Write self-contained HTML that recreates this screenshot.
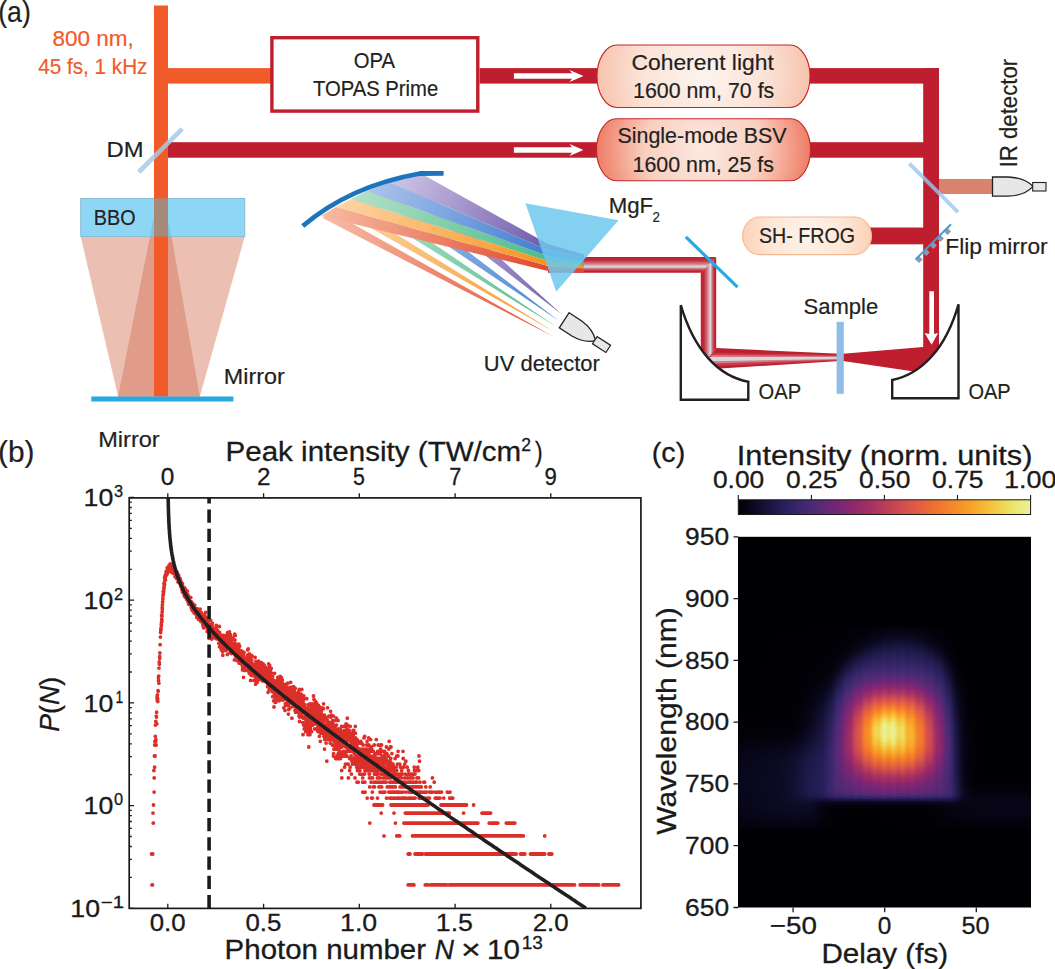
<!DOCTYPE html>
<html><head><meta charset="utf-8"><title>Figure</title>
<style>
html,body{margin:0;padding:0;background:#fff;}
body{width:1055px;height:969px;position:relative;overflow:hidden;font-family:"Liberation Sans",sans-serif;}
svg{position:absolute;left:0;top:0;}
svg text{font-family:"Liberation Sans",sans-serif;}
</style></head><body>
<svg width="1055" height="969" viewBox="0 0 1055 969">
<defs>
<radialGradient id="gCoh" cx="0.5" cy="0.5" r="0.5" gradientTransform="translate(0.5 0.5) scale(1 3.4) translate(-0.5 -0.5)">
 <stop offset="0" stop-color="#fdf3ee"/><stop offset="0.6" stop-color="#fbe2d6"/><stop offset="1" stop-color="#f7c3ad"/></radialGradient>
<radialGradient id="gBsv" cx="0.5" cy="0.5" r="0.5" gradientTransform="translate(0.5 0.5) scale(1 3.4) translate(-0.5 -0.5)">
 <stop offset="0" stop-color="#fce9e1"/><stop offset="0.55" stop-color="#f9cfc0"/><stop offset="1" stop-color="#ef7c64"/></radialGradient>
<radialGradient id="gFrog" cx="0.5" cy="0.5" r="0.5" gradientTransform="translate(0.5 0.5) scale(1 3.4) translate(-0.5 -0.5)">
 <stop offset="0" stop-color="#fef3ec"/><stop offset="0.6" stop-color="#fde6d6"/><stop offset="1" stop-color="#fbd2b6"/></radialGradient>
<linearGradient id="tubeH" x1="0" y1="0" x2="0" y2="1">
 <stop offset="0" stop-color="#be1e2d"/><stop offset="0.2" stop-color="#c22936"/><stop offset="0.45" stop-color="#d3838d"/><stop offset="0.62" stop-color="#dedde5"/><stop offset="0.78" stop-color="#cc5864"/><stop offset="0.9" stop-color="#c12331"/><stop offset="1" stop-color="#be1e2d"/></linearGradient>
<linearGradient id="tubeV" x1="0" y1="0" x2="1" y2="0">
 <stop offset="0" stop-color="#be1e2d"/><stop offset="0.2" stop-color="#c22936"/><stop offset="0.45" stop-color="#d3838d"/><stop offset="0.62" stop-color="#dedde5"/><stop offset="0.78" stop-color="#cc5864"/><stop offset="0.9" stop-color="#c12331"/><stop offset="1" stop-color="#be1e2d"/></linearGradient>
</defs>
<polygon points="80.7,236.5 244.8,236.5 199.8,396.5 118.1,396.5" fill="#ebc0b3"/>
<polygon points="157.6,236.5 162.4,236.5 199.8,396.5 118.1,396.5" fill="#e09b89"/>
<polygon points="150,236.5 171.5,236.5 199.8,396.5 118.1,396.5" fill="#e09b89"/>
<rect x="80.7" y="198.4" width="164.1" height="38.1" fill="#8ed6f5" stroke="#7fb2cc" stroke-width="0.8"/>
<polygon points="157.6,198.4 162.4,198.4 171.5,236.5 150,236.5" fill="#7cbcd8" opacity="0.7"/>
<rect x="154" y="5.5" width="14" height="391" fill="#f15a29"/>
<rect x="154" y="198.4" width="14" height="38.1" fill="#a88a7a"/>
<rect x="168" y="68.1" width="104" height="15.5" fill="#f15a29"/>
<rect x="91.3" y="396.5" width="142.1" height="5" fill="#27aae1"/>
<rect x="168" y="142.2" width="430" height="15.5" fill="#be1e2d"/>
<line x1="138.8" y1="172" x2="182.2" y2="128.9" stroke="#a5c9ea" stroke-width="4.6" opacity="0.85"/>
<rect x="271.9" y="37.7" width="205.9" height="73.4" fill="#fff" stroke="#be1e2d" stroke-width="3.4"/>
<rect x="479.6" y="68.1" width="118" height="15.5" fill="#be1e2d"/>
<path d="M513.9,73.2 H572 L569.5,70.0 L583.4,76.0 L569.5,82.0 L572,78.8 H513.9 Z" fill="#fff"/>
<path d="M513.9,147.2 H572 L569.5,144.0 L583.4,150.0 L569.5,156.0 L572,152.8 H513.9 Z" fill="#fff"/>
<rect x="809" y="68.1" width="130" height="15.5" fill="#be1e2d"/>
<rect x="923.2" y="68.1" width="15.8" height="290" fill="#be1e2d"/>
<rect x="809" y="142.2" width="116" height="15.5" fill="#be1e2d"/>
<rect x="870" y="227.5" width="55" height="16.8" fill="#be1e2d"/>
<rect x="939" y="179" width="54" height="15" fill="#d9836f"/>
<line x1="909.4" y1="163.6" x2="958" y2="212.2" stroke="#9cc9ea" stroke-width="4" opacity="0.8"/>
<path d="M992.5,177 L1008,177 C1020,177.5 1028,181 1033,186.4 C1028,192 1020,195.8 1008,196.2 L992.5,196.2 Z" fill="#e6e7e8" stroke="#231f20" stroke-width="1.3"/>
<rect x="1032.7" y="182.5" width="13.3" height="8.5" fill="#e6e7e8" stroke="#231f20" stroke-width="1.1"/>
<line x1="915.5" y1="259.5" x2="951" y2="224.3" stroke="#8a9bb0" stroke-width="4.5" stroke-dasharray="5 5" transform="translate(2 2)"/>
<line x1="915.5" y1="259.5" x2="951" y2="224.3" stroke="#3f9fd6" stroke-width="2"/>
<rect x="597" y="45" width="213" height="62.5" rx="20" ry="31" fill="url(#gCoh)" stroke="#c1272d" stroke-width="1.1"/>
<rect x="596.5" y="118.8" width="214" height="62" rx="20" ry="31" fill="url(#gBsv)" stroke="#c1272d" stroke-width="1.1"/>
<rect x="742.6" y="217" width="128.9" height="37.6" rx="17" ry="18.8" fill="url(#gFrog)" stroke="#f6b88f" stroke-width="1.1"/>
<polygon points="548,257 716.2,257 700.8,272.8 548,272.8" fill="url(#tubeH)"/>
<polygon points="700.8,272.8 716.2,257 716.2,348 708.5,357.4 700.8,366" fill="url(#tubeV)"/>
<polygon points="716.2,348 840,353.8 840,361 720,368.5 700,370 708.5,357.4" fill="#be1e2d"/>
<polygon points="712.4,352.7 840,355.0 840,360.4 718,366 712,364" fill="#c73c4a"/>
<polygon points="710.5,355 840,356.0 840,359.6 714,363.5" fill="#d27a85"/>
<polygon points="709,357 840,356.9 840,358.9 712,361.2" fill="#dcd5dc"/>
<polygon points="843,353.8 923.2,347 939,340 939,362 917.4,372 843,361" fill="#be1e2d"/>
<path d="M929.3,291.2 H934 V334 L938.1,333 L931.6,344.8 L924.6,333 L929.3,334 Z" fill="#fff"/>
<rect x="836.6" y="321.8" width="7.2" height="72" fill="#8fbde6"/>
<path d="M680.8,305.2 L680.8,399.8 L748.3,399.8 L748.3,381.7 C718,376 694,350 680.8,305.2 Z" fill="#fff" stroke="#231f20" stroke-width="2.4" stroke-linejoin="miter"/>
<path d="M958.5,304.3 L958.5,398.2 L892.2,398.2 L892.2,380 C922,374 946,348 958.5,304.3 Z" fill="#fff" stroke="#231f20" stroke-width="2.4" stroke-linejoin="miter"/>
<line x1="685.8" y1="236.9" x2="737.5" y2="287.1" stroke="#27aae1" stroke-width="3.2"/>
<defs>
<linearGradient id="fi0" gradientUnits="userSpaceOnUse" x1="328.5" y1="211.5" x2="545" y2="268.5"><stop offset="0" stop-color="#f6b9a0"/><stop offset="1" stop-color="#e2492f"/></linearGradient>
<linearGradient id="fr0" gradientUnits="userSpaceOnUse" x1="328.5" y1="211.5" x2="553.2" y2="336.5"><stop offset="0" stop-color="#f6b9a0"/><stop offset="1" stop-color="#e2492f"/></linearGradient>
<linearGradient id="fi1" gradientUnits="userSpaceOnUse" x1="343.5" y1="203.0" x2="545" y2="263.5"><stop offset="0" stop-color="#fcd3a4"/><stop offset="1" stop-color="#f7941d"/></linearGradient>
<linearGradient id="fr1" gradientUnits="userSpaceOnUse" x1="343.5" y1="203.0" x2="553.7" y2="331.4"><stop offset="0" stop-color="#fcd3a4"/><stop offset="1" stop-color="#f7941d"/></linearGradient>
<linearGradient id="fi2" gradientUnits="userSpaceOnUse" x1="359.0" y1="195.0" x2="545" y2="258.5"><stop offset="0" stop-color="#b0e0c6"/><stop offset="1" stop-color="#4dbb8a"/></linearGradient>
<linearGradient id="fr2" gradientUnits="userSpaceOnUse" x1="359.0" y1="195.0" x2="556" y2="326.5"><stop offset="0" stop-color="#b0e0c6"/><stop offset="1" stop-color="#4dbb8a"/></linearGradient>
<linearGradient id="fi3" gradientUnits="userSpaceOnUse" x1="378.0" y1="186.5" x2="545" y2="253.0"><stop offset="0" stop-color="#a9c0ea"/><stop offset="1" stop-color="#3f7fd0"/></linearGradient>
<linearGradient id="fr3" gradientUnits="userSpaceOnUse" x1="378.0" y1="186.5" x2="558.8" y2="320.8"><stop offset="0" stop-color="#a9c0ea"/><stop offset="1" stop-color="#3f7fd0"/></linearGradient>
<linearGradient id="fi4" gradientUnits="userSpaceOnUse" x1="404.5" y1="177.5" x2="545" y2="247.0"><stop offset="0" stop-color="#c9bfe3"/><stop offset="1" stop-color="#6f5aab"/></linearGradient>
<linearGradient id="fr4" gradientUnits="userSpaceOnUse" x1="404.5" y1="177.5" x2="561.7" y2="314.3"><stop offset="0" stop-color="#c9bfe3"/><stop offset="1" stop-color="#6f5aab"/></linearGradient>
</defs>
<polygon points="322.5,218.1 332.2,212.2 553.2,336.5" fill="url(#fr0)" opacity="0.95"/>
<polygon points="337.5,209.2 347.2,204.0 553.7,331.4" fill="url(#fr1)" opacity="0.95"/>
<polygon points="352.6,201.2 363.0,196.0 556,326.5" fill="url(#fr2)" opacity="0.95"/>
<polygon points="369.2,193.1 383.5,187.2 558.8,320.8" fill="url(#fr3)" opacity="0.95"/>
<polygon points="392.1,184.1 412.2,178.2 561.7,314.3" fill="url(#fr4)" opacity="0.95"/>
<polygon points="321,216 336,207 548,266 584,268.5 584,272.5 548,271" fill="url(#fi0)"/>
<polygon points="336,207 351,199 548,261 584,265 584,268.5 548,266" fill="url(#fi1)"/>
<polygon points="351,199 367,191 548,256 584,261.5 584,265 548,261" fill="url(#fi2)"/>
<polygon points="367,191 389,182 548,250 584,258 584,261.5 548,256" fill="url(#fi3)"/>
<polygon points="389,182 420,173 548,244 584,254.5 584,258 548,250" fill="url(#fi4)"/>
<path d="M302.8,226 Q350,186 420,173.5 L443.6,173.3" fill="none" stroke="#1c75bc" stroke-width="4.8"/>
<polygon points="525.4,203.2 618.5,220.3 556.2,291.8" fill="#6ec8ef" opacity="0.85"/>
<g transform="translate(564.2,320.3) rotate(33)"><path d="M0,-9 L15,-9 C26,-8.5 33,-4.5 37.5,0 C33,4.5 26,8.5 15,9 L0,9 Z" fill="#e6e7e8" stroke="#231f20" stroke-width="1.3"/><rect x="36.5" y="-4.3" width="16" height="8.6" fill="#e6e7e8" stroke="#231f20" stroke-width="1.2"/></g>
<defs><clipPath id="clipB"><rect x="129.2" y="497.9" width="511.7" height="410.5"/></clipPath></defs>
<g clip-path="url(#clipB)"><path d="M151.6 854.0h0M152.0 884.9h0M152.5 884.9h0M152.7 854.0h0M153.0 813.1h0M153.2 823.1h0M153.4 823.1h0M153.5 805.0h0M153.9 770.5h0M154.1 792.1h0M154.2 777.9h0M154.4 756.0h0M154.6 767.2h0M154.7 745.0h0M154.9 741.3h0M155.1 756.0h0M155.3 736.3h0M155.4 725.1h0M155.6 741.3h0M155.8 721.5h0M155.9 739.6h0M156.1 745.0h0M156.3 716.1h0M156.5 717.1h0M156.6 712.2h0M156.8 723.8h0M157.0 698.0h0M157.2 696.0h0M157.3 700.8h0M157.5 694.8h0M157.7 698.7h0M157.8 701.5h0M158.0 690.6h0M158.2 691.2h0M158.4 677.3h0M158.5 680.4h0M158.7 676.1h0M158.9 683.2h0M159.0 668.1h0M159.2 662.0h0M159.4 664.2h0M159.6 656.6h0M159.7 658.3h0M159.9 653.0h0M160.1 644.7h0M160.4 637.1h0M160.6 632.5h0M160.8 629.3h0M160.9 630.3h0M161.0 628.2h0M161.1 628.9h0M161.3 624.4h0M161.4 625.7h0M161.5 622.5h0M161.6 615.8h0M161.7 619.1h0M161.8 621.5h0M161.9 614.6h0M162.0 620.1h0M162.1 615.9h0M162.2 611.7h0M162.2 607.7h0M162.3 609.0h0M162.4 604.9h0M162.6 601.9h0M162.8 599.1h0M162.9 598.4h0M163.0 595.4h0M163.2 591.3h0M163.3 594.6h0M163.4 593.5h0M163.5 592.6h0M163.6 591.8h0M163.7 591.3h0M163.8 588.3h0M163.9 583.6h0M164.0 589.0h0M164.1 586.9h0M164.2 584.1h0M164.3 585.2h0M164.4 583.4h0M164.5 584.8h0M164.6 578.0h0M164.7 580.6h0M164.9 576.4h0M165.1 580.1h0M165.2 575.7h0M165.3 577.3h0M165.4 577.0h0M165.5 580.0h0M165.6 575.2h0M165.8 574.4h0M166.1 571.5h0M166.2 573.0h0M166.3 572.4h0M166.4 575.2h0M166.7 573.6h0M166.8 572.4h0M166.9 574.6h0M167.1 567.8h0M167.2 573.2h0M167.3 570.8h0M167.5 573.3h0M167.6 568.5h0M167.7 568.0h0M167.8 569.2h0M167.9 571.9h0M168.0 571.0h0M168.1 570.1h0M168.5 569.6h0M168.7 568.7h0M168.9 567.3h0M168.9 565.7h0M169.0 567.7h0M169.1 570.6h0M169.2 567.8h0M169.3 569.1h0M169.4 566.1h0M169.5 564.8h0M169.6 565.4h0M170.0 564.5h0M170.1 566.7h0M170.2 567.5h0M170.3 568.4h0M170.4 564.0h0M170.7 567.6h0M170.8 565.7h0M170.9 564.4h0M171.0 570.1h0M171.1 565.0h0M171.2 565.8h0M171.2 566.2h0M171.3 571.5h0M171.4 567.3h0M171.6 572.2h0M171.7 569.7h0M171.8 566.3h0M172.0 571.6h0M172.1 568.6h0M172.5 567.6h0M172.6 570.6h0M172.7 566.5h0M172.8 571.7h0M173.0 569.1h0M173.1 567.7h0M173.3 571.3h0M173.4 570.3h0M173.4 573.4h0M173.5 568.2h0M174.0 571.8h0M174.1 573.4h0M174.3 568.4h0M174.4 571.3h0M174.5 567.4h0M174.6 569.3h0M174.8 574.1h0M174.9 571.5h0M175.0 576.7h0M175.1 570.8h0M175.3 574.2h0M175.4 573.1h0M175.6 573.4h0M175.7 574.4h0M175.7 575.1h0M176.2 571.3h0M176.3 573.0h0M176.4 575.4h0M176.5 574.2h0M176.6 578.4h0M176.7 576.0h0M177.3 572.5h0M177.4 576.0h0M177.5 578.5h0M177.6 575.3h0M177.9 577.6h0M177.9 578.9h0M178.0 582.1h0M178.1 581.6h0M178.2 579.1h0M178.3 576.4h0M178.7 575.1h0M178.8 579.0h0M178.9 579.9h0M179.0 580.6h0M179.2 578.0h0M179.7 583.2h0M179.8 581.9h0M179.9 578.1h0M180.0 580.1h0M180.1 579.0h0M180.2 581.1h0M180.4 583.6h0M180.5 580.4h0M180.6 581.9h0M180.7 581.2h0M180.9 585.6h0M181.0 586.4h0M181.2 582.1h0M181.3 584.7h0M181.4 585.9h0M181.6 584.1h0M181.8 587.8h0M182.0 589.7h0M182.1 584.6h0M182.2 589.0h0M182.3 589.2h0M182.4 592.1h0M182.4 587.4h0M182.5 583.7h0M182.6 586.1h0M182.8 591.3h0M182.9 587.6h0M183.0 589.9h0M183.7 592.1h0M183.8 590.6h0M183.9 588.9h0M184.0 593.2h0M184.1 595.3h0M184.2 591.3h0M184.3 594.4h0M184.4 592.6h0M184.5 594.3h0M184.6 590.5h0M184.7 588.0h0M184.7 589.2h0M184.8 592.8h0M184.9 596.8h0M185.0 593.7h0M185.2 593.5h0M185.3 597.1h0M185.4 592.6h0M185.5 597.6h0M185.6 589.5h0M185.8 594.1h0M186.0 595.0h0M186.1 597.2h0M186.2 595.3h0M186.4 596.0h0M186.5 597.9h0M186.6 594.6h0M186.8 599.4h0M186.9 596.1h0M187.0 598.4h0M187.0 595.5h0M187.2 593.9h0M187.3 594.8h0M187.4 591.1h0M187.5 599.4h0M187.6 596.3h0M187.7 600.8h0M187.8 598.1h0M187.9 594.8h0M188.1 599.3h0M188.2 596.8h0M188.3 597.5h0M188.4 602.6h0M188.5 604.0h0M188.6 596.1h0M188.7 596.7h0M188.8 600.3h0M188.9 599.5h0M189.0 602.0h0M189.2 600.9h0M189.2 599.8h0M189.3 598.7h0M189.4 602.1h0M189.5 600.6h0M189.6 604.4h0M189.7 601.6h0M189.9 603.9h0M190.0 604.0h0M190.1 601.6h0M190.2 602.3h0M190.3 603.3h0M190.8 597.6h0M190.9 604.0h0M191.0 604.5h0M191.1 605.7h0M191.2 607.6h0M191.4 606.9h0M191.5 602.0h0M191.6 608.1h0M191.7 605.5h0M191.9 609.4h0M192.0 602.8h0M192.2 606.2h0M192.3 610.6h0M192.4 603.6h0M192.5 605.5h0M192.6 603.3h0M192.7 607.0h0M192.8 609.8h0M193.1 606.2h0M193.3 604.4h0M193.4 607.4h0M193.5 606.1h0M193.6 605.6h0M193.9 612.1h0M194.0 612.8h0M194.1 607.5h0M194.4 607.9h0M194.5 611.7h0M194.7 605.1h0M194.8 612.1h0M194.9 610.7h0M195.0 609.0h0M195.2 609.8h0M195.3 613.4h0M195.7 608.3h0M195.8 612.7h0M195.9 614.3h0M196.0 613.7h0M196.2 612.1h0M196.4 614.6h0M196.5 610.7h0M196.6 611.8h0M196.7 617.3h0M196.8 609.3h0M196.9 612.6h0M197.1 613.9h0M197.2 610.9h0M197.3 609.0h0M197.4 611.4h0M197.5 611.7h0M197.6 610.0h0M197.7 617.4h0M198.0 613.6h0M198.1 611.5h0M198.2 610.1h0M198.2 612.8h0M198.3 613.4h0M198.4 614.9h0M198.5 619.4h0M198.7 615.8h0M198.8 614.6h0M198.9 613.6h0M199.0 611.7h0M199.1 615.3h0M199.2 611.0h0M199.3 615.8h0M199.4 613.0h0M199.7 615.7h0M199.9 616.9h0M200.0 617.6h0M200.1 609.1h0M200.3 618.1h0M200.5 616.0h0M200.5 620.2h0M200.7 620.5h0M200.8 621.4h0M200.9 616.9h0M201.0 613.3h0M201.1 612.4h0M201.2 615.3h0M201.3 616.7h0M201.4 621.4h0M201.5 621.0h0M201.6 619.0h0M201.7 618.3h0M201.8 613.4h0M201.9 619.8h0M202.1 618.3h0M202.2 621.1h0M202.3 615.4h0M202.5 620.2h0M202.6 623.4h0M202.8 618.3h0M202.9 625.7h0M203.0 617.7h0M203.1 615.8h0M203.3 622.9h0M203.4 620.9h0M203.5 622.2h0M203.6 621.3h0M203.7 627.8h0M203.9 617.4h0M204.0 620.7h0M204.1 618.5h0M204.2 619.4h0M204.3 624.5h0M204.4 624.0h0M204.5 618.3h0M204.6 623.0h0M204.7 615.4h0M204.8 620.3h0M204.9 625.0h0M205.1 622.0h0M205.2 616.6h0M205.3 623.2h0M205.4 625.6h0M205.5 619.3h0M205.6 612.3h0M205.7 623.6h0M205.8 621.1h0M205.9 626.5h0M206.0 626.4h0M206.1 623.6h0M206.3 620.8h0M206.5 617.8h0M206.6 626.9h0M206.9 624.7h0M207.0 622.2h0M207.1 625.6h0M207.2 631.5h0M207.2 627.1h0M207.5 630.1h0M207.6 622.2h0M207.7 625.7h0M207.8 627.9h0M207.9 623.0h0M208.0 621.0h0M208.1 631.4h0M208.3 624.1h0M208.4 628.5h0M208.5 625.3h0M208.6 626.5h0M208.7 629.0h0M208.9 630.1h0M209.0 638.3h0M209.2 624.4h0M209.3 624.7h0M209.4 631.1h0M209.5 632.5h0M209.5 626.2h0M209.6 628.6h0M209.7 626.9h0M209.9 629.6h0M210.0 625.3h0M210.2 632.0h0M210.3 633.7h0M210.4 631.5h0M210.5 628.7h0M210.7 620.4h0M210.9 635.9h0M211.0 630.3h0M211.1 627.3h0M211.2 626.5h0M211.3 629.3h0M211.4 637.2h0M211.7 639.0h0M211.7 637.9h0M211.8 631.1h0M211.9 628.7h0M212.0 629.6h0M212.2 626.0h0M212.3 627.1h0M212.4 623.4h0M212.5 629.3h0M212.6 634.4h0M212.7 631.2h0M212.9 630.8h0M213.0 628.6h0M213.1 633.7h0M213.3 633.9h0M213.4 636.0h0M213.5 629.9h0M213.9 631.4h0M214.0 634.9h0M214.0 628.3h0M214.1 634.9h0M214.2 634.4h0M214.3 631.9h0M214.5 629.5h0M214.7 632.9h0M214.8 629.9h0M214.9 630.9h0M215.0 632.8h0M215.1 637.9h0M215.2 635.9h0M215.3 632.2h0M215.4 635.5h0M215.7 629.9h0M215.8 635.4h0M215.9 628.2h0M216.0 631.7h0M216.1 632.9h0M216.2 628.6h0M216.3 625.4h0M216.4 634.4h0M216.5 638.8h0M216.6 632.9h0M216.7 633.4h0M216.8 629.9h0M217.0 632.0h0M217.2 631.9h0M217.3 637.7h0M217.4 638.8h0M217.5 637.1h0M217.7 633.3h0M217.8 630.9h0M217.9 633.1h0M218.1 634.2h0M218.2 635.4h0M218.4 633.3h0M218.5 635.9h0M218.5 633.1h0M218.6 637.2h0M218.8 643.3h0M218.9 638.4h0M219.0 636.4h0M219.2 639.7h0M219.3 635.5h0M219.4 626.5h0M219.5 646.8h0M219.6 632.3h0M219.7 638.4h0M219.8 639.7h0M219.9 642.0h0M220.0 636.0h0M220.1 639.3h0M220.2 646.8h0M220.3 637.2h0M220.4 636.9h0M220.5 639.5h0M220.6 642.2h0M220.7 647.5h0M220.7 640.1h0M220.9 636.7h0M221.0 645.6h0M221.1 648.4h0M221.2 649.7h0M221.3 649.0h0M221.4 647.7h0M221.5 635.5h0M221.6 647.3h0M221.7 642.5h0M222.0 650.4h0M222.1 640.8h0M222.2 644.5h0M222.3 645.4h0M222.4 649.5h0M222.5 638.8h0M222.6 651.8h0M222.7 646.8h0M222.8 655.3h0M222.9 644.5h0M223.0 644.1h0M223.0 650.2h0M223.1 640.4h0M223.2 635.5h0M223.5 639.7h0M223.6 647.5h0M223.7 644.9h0M223.8 642.3h0M223.9 638.8h0M224.0 650.6h0M224.2 648.6h0M224.3 643.5h0M224.5 643.7h0M224.6 641.0h0M224.7 647.9h0M224.8 642.7h0M224.9 644.5h0M225.2 645.6h0M225.3 644.9h0M225.4 635.7h0M225.5 648.1h0M225.6 642.7h0M225.7 638.1h0M226.0 643.1h0M226.1 642.0h0M226.2 650.4h0M226.3 649.5h0M226.5 637.9h0M226.6 635.2h0M226.8 644.7h0M226.9 638.6h0M227.0 643.9h0M227.1 641.2h0M227.2 637.1h0M227.3 654.5h0M227.4 641.8h0M227.6 632.6h0M227.7 643.7h0M227.8 642.2h0M228.0 639.3h0M228.1 643.3h0M228.2 636.0h0M228.3 645.6h0M228.4 647.5h0M228.5 645.4h0M228.6 642.0h0M228.7 638.6h0M228.9 639.2h0M229.0 637.4h0M229.3 634.4h0M229.4 631.9h0M229.5 647.0h0M229.6 640.3h0M229.7 646.4h0M229.8 642.9h0M229.8 640.4h0M229.9 638.1h0M230.0 652.3h0M230.1 642.0h0M230.2 652.8h0M230.3 638.3h0M230.4 634.7h0M230.5 644.9h0M230.6 648.1h0M230.7 639.7h0M230.8 643.9h0M230.9 642.9h0M231.0 641.6h0M231.1 639.3h0M231.3 646.6h0M231.4 653.5h0M231.5 650.2h0M231.7 637.9h0M231.8 646.4h0M231.9 645.6h0M232.0 638.1h0M232.0 644.1h0M232.1 639.7h0M232.3 648.6h0M232.4 649.3h0M232.5 645.1h0M232.6 646.2h0M232.7 647.7h0M232.8 649.0h0M232.9 643.9h0M233.0 639.5h0M233.3 646.0h0M233.4 649.5h0M233.5 651.3h0M233.7 652.1h0M233.8 639.5h0M233.9 647.9h0M234.0 649.0h0M234.1 652.3h0M234.2 650.6h0M234.3 646.8h0M234.4 659.9h0M234.5 635.5h0M234.6 643.5h0M234.7 634.2h0M234.8 653.5h0M234.9 651.8h0M235.0 640.1h0M235.1 650.4h0M235.3 635.4h0M235.4 650.9h0M235.5 655.3h0M235.6 655.8h0M235.7 656.6h0M235.8 652.5h0M235.9 650.6h0M236.0 651.6h0M236.2 647.0h0M236.3 647.9h0M236.4 655.3h0M236.5 647.9h0M236.5 644.5h0M236.7 648.6h0M236.8 646.6h0M236.9 660.2h0M237.1 651.1h0M237.2 656.1h0M237.3 649.3h0M237.4 656.9h0M237.5 660.8h0M237.6 655.6h0M237.7 654.3h0M237.8 651.1h0M237.9 646.2h0M238.0 651.8h0M238.1 653.8h0M238.2 657.4h0M238.3 648.6h0M238.5 659.9h0M238.6 656.6h0M238.7 648.4h0M238.8 652.5h0M238.8 644.1h0M238.9 654.5h0M239.0 659.4h0M239.1 651.8h0M239.2 663.2h0M239.3 653.3h0M239.4 651.6h0M239.6 646.2h0M239.7 658.0h0M239.8 662.9h0M239.9 651.1h0M240.1 662.0h0M240.2 652.5h0M240.4 656.4h0M240.5 650.6h0M240.7 658.8h0M240.8 653.3h0M241.0 654.5h0M241.1 663.5h0M241.2 662.0h0M241.3 661.7h0M241.4 663.9h0M241.6 653.3h0M241.7 663.2h0M241.8 651.1h0M242.0 664.8h0M242.1 659.4h0M242.2 661.7h0M242.3 656.9h0M242.4 654.8h0M242.5 669.9h0M242.6 667.8h0M242.8 667.1h0M242.9 659.4h0M243.0 654.8h0M243.1 658.5h0M243.2 662.6h0M243.3 664.8h0M243.3 658.0h0M243.5 677.3h0M243.6 660.5h0M243.7 659.9h0M243.8 658.5h0M243.9 655.6h0M244.0 652.5h0M244.1 665.8h0M244.2 668.1h0M244.4 666.1h0M244.7 658.5h0M244.8 665.8h0M244.9 668.5h0M245.0 662.6h0M245.1 670.6h0M245.3 664.5h0M245.5 663.2h0M245.5 669.5h0M245.6 664.2h0M245.7 661.1h0M245.8 662.6h0M246.0 658.5h0M246.1 660.5h0M246.2 661.7h0M246.4 665.5h0M246.5 660.2h0M246.6 667.5h0M246.8 659.1h0M246.9 663.2h0M247.0 666.4h0M247.1 659.9h0M247.2 663.9h0M247.3 667.5h0M247.4 658.3h0M247.6 657.7h0M247.7 649.9h0M247.8 655.0h0M247.8 667.5h0M247.9 663.5h0M248.0 659.4h0M248.2 649.0h0M248.3 662.0h0M248.4 661.7h0M248.5 671.0h0M248.6 662.9h0M248.7 657.2h0M248.8 659.1h0M249.0 664.8h0M249.1 659.7h0M249.2 667.8h0M249.3 673.3h0M249.4 654.0h0M249.5 664.2h0M249.7 667.8h0M249.8 668.8h0M249.9 659.7h0M250.0 670.6h0M250.0 658.8h0M250.1 665.5h0M250.2 664.5h0M250.4 669.9h0M250.5 662.9h0M250.6 680.4h0M250.7 666.1h0M250.8 664.2h0M250.9 659.4h0M251.0 675.2h0M251.1 661.1h0M251.3 659.9h0M251.4 670.3h0M251.5 655.3h0M251.6 667.5h0M251.7 665.1h0M251.8 660.2h0M251.9 669.9h0M252.0 671.0h0M252.1 665.8h0M252.2 656.1h0M252.3 667.8h0M252.3 663.5h0M252.4 663.9h0M252.5 672.5h0M252.6 675.7h0M252.7 666.8h0M252.8 670.3h0M252.9 669.2h0M253.0 664.8h0M253.1 667.8h0M253.2 670.3h0M253.3 671.0h0M253.4 671.7h0M253.5 664.8h0M253.6 667.8h0M253.7 668.5h0M253.8 667.5h0M254.0 680.4h0M254.1 669.2h0M254.3 669.5h0M254.4 673.7h0M254.5 670.6h0M254.6 676.1h0M254.8 669.5h0M254.9 671.0h0M255.0 673.3h0M255.1 657.4h0M255.2 664.8h0M255.3 674.4h0M255.4 674.8h0M255.5 667.1h0M255.6 684.2h0M255.7 679.1h0M255.8 673.7h0M255.9 661.4h0M256.1 674.0h0M256.2 663.5h0M256.3 675.7h0M256.5 672.9h0M256.6 682.7h0M256.7 666.8h0M256.8 668.1h0M256.8 665.5h0M256.9 677.3h0M257.0 678.2h0M257.1 664.5h0M257.2 682.3h0M257.3 671.7h0M257.4 676.9h0M257.5 679.1h0M257.6 667.5h0M257.7 669.5h0M257.9 665.1h0M258.0 673.7h0M258.1 667.1h0M258.2 674.8h0M258.3 665.1h0M258.4 674.0h0M258.5 661.4h0M258.6 661.1h0M258.7 678.6h0M258.8 670.6h0M258.9 679.5h0M259.0 663.5h0M259.0 674.0h0M259.1 666.1h0M259.3 671.0h0M259.6 672.9h0M259.7 671.4h0M259.8 676.1h0M259.9 669.2h0M260.0 676.5h0M260.1 674.8h0M260.3 664.8h0M260.4 669.5h0M260.5 676.1h0M260.6 673.7h0M260.7 667.1h0M261.0 672.9h0M261.1 669.5h0M261.2 668.8h0M261.3 665.5h0M261.3 662.6h0M261.4 674.0h0M261.5 672.5h0M261.6 663.5h0M261.7 668.8h0M262.0 667.1h0M262.1 680.4h0M262.2 667.8h0M262.3 673.7h0M262.4 669.9h0M262.5 674.8h0M262.6 671.0h0M262.7 680.9h0M262.9 665.5h0M263.0 670.3h0M263.1 671.4h0M263.2 663.9h0M263.3 669.5h0M263.4 673.3h0M263.5 667.5h0M263.6 667.8h0M263.7 674.4h0M263.8 673.3h0M264.1 667.5h0M264.2 665.1h0M264.4 673.3h0M264.5 676.1h0M264.6 679.1h0M264.7 670.3h0M264.8 674.8h0M265.0 681.3h0M265.1 666.8h0M265.2 680.9h0M265.3 678.2h0M265.4 677.3h0M265.5 669.5h0M265.6 674.4h0M265.7 668.8h0M265.8 680.4h0M265.8 670.6h0M266.0 681.8h0M266.1 678.2h0M266.2 677.3h0M266.3 673.7h0M266.5 670.6h0M266.6 672.5h0M266.7 679.1h0M266.8 670.6h0M266.9 680.4h0M267.0 676.9h0M267.1 674.0h0M267.2 671.4h0M267.3 669.9h0M267.4 683.2h0M267.5 678.2h0M267.6 686.7h0M267.7 676.5h0M267.8 679.1h0M267.9 680.9h0M268.0 670.6h0M268.1 692.3h0M268.2 667.8h0M268.3 676.1h0M268.4 681.3h0M268.5 676.1h0M268.6 663.9h0M268.7 678.2h0M268.8 671.0h0M269.0 679.1h0M269.1 676.5h0M269.2 690.0h0M269.3 674.4h0M269.4 679.9h0M269.5 672.1h0M269.6 682.3h0M269.7 665.5h0M269.8 672.5h0M269.9 687.8h0M270.0 669.9h0M270.1 675.7h0M270.2 679.1h0M270.3 671.0h0M270.3 685.7h0M270.4 684.7h0M270.5 682.7h0M270.6 674.0h0M270.7 681.3h0M270.8 679.5h0M270.9 684.7h0M271.0 682.7h0M271.2 668.5h0M271.3 687.3h0M271.4 672.9h0M271.5 683.2h0M271.7 676.5h0M271.8 678.2h0M271.9 679.9h0M272.0 687.8h0M272.1 677.3h0M272.2 691.7h0M272.3 687.3h0M272.4 684.7h0M272.5 687.3h0M272.6 676.5h0M272.6 690.6h0M272.7 696.7h0M272.8 686.2h0M272.9 684.2h0M273.2 691.7h0M273.3 682.3h0M273.4 685.7h0M273.6 700.8h0M273.7 688.3h0M273.8 689.4h0M274.0 707.0h0M274.1 680.4h0M274.2 682.3h0M274.3 693.5h0M274.4 685.7h0M274.5 691.2h0M274.6 673.3h0M274.7 696.7h0M274.8 691.2h0M274.9 693.5h0M275.1 702.3h0M275.2 691.7h0M275.3 685.7h0M275.4 698.0h0M275.5 686.7h0M275.6 692.3h0M275.7 689.4h0M275.8 702.3h0M275.9 683.2h0M276.0 686.2h0M276.1 690.6h0M276.3 685.2h0M276.4 688.3h0M276.5 690.6h0M276.6 685.2h0M276.7 683.7h0M276.8 700.1h0M276.9 688.3h0M277.0 687.3h0M277.1 693.5h0M277.2 690.0h0M277.3 688.9h0M277.5 680.4h0M277.7 677.3h0M277.8 694.1h0M277.9 696.0h0M278.0 691.7h0M278.1 679.9h0M278.2 695.4h0M278.4 690.6h0M278.5 686.7h0M278.9 694.1h0M279.0 679.1h0M279.1 698.7h0M279.2 700.8h0M279.3 684.2h0M279.3 693.5h0M279.4 690.6h0M279.5 692.3h0M279.6 697.4h0M279.7 687.3h0M279.8 698.0h0M279.9 688.9h0M280.0 680.4h0M280.1 686.2h0M280.2 676.5h0M280.3 682.7h0M280.4 688.3h0M280.5 688.9h0M280.6 694.8h0M280.7 686.7h0M281.1 679.5h0M281.2 693.5h0M281.3 682.7h0M281.4 692.3h0M281.5 677.7h0M281.6 681.8h0M281.6 683.7h0M281.7 683.2h0M281.8 690.0h0M282.0 684.2h0M282.1 694.1h0M282.2 684.7h0M282.3 679.9h0M282.4 683.2h0M282.5 690.0h0M282.6 700.1h0M282.7 688.9h0M282.9 698.0h0M283.1 700.1h0M283.3 691.2h0M283.4 692.3h0M283.5 688.9h0M283.6 686.2h0M283.7 684.7h0M283.8 692.9h0M283.8 707.8h0M283.9 690.0h0M284.0 689.4h0M284.1 699.4h0M284.2 688.3h0M284.3 686.7h0M284.4 690.6h0M284.5 689.4h0M284.6 686.7h0M284.7 698.0h0M284.8 696.0h0M285.0 710.4h0M285.1 691.7h0M285.2 685.2h0M285.3 703.8h0M285.4 695.4h0M285.5 705.4h0M285.8 690.6h0M285.9 698.0h0M286.0 697.4h0M286.1 684.2h0M286.1 686.7h0M286.3 690.6h0M286.4 694.8h0M286.5 693.5h0M286.6 698.7h0M286.7 699.4h0M286.8 698.7h0M286.9 691.7h0M287.0 688.3h0M287.1 696.0h0M287.2 703.8h0M287.3 688.9h0M287.4 702.3h0M287.5 683.7h0M287.6 694.1h0M287.7 700.1h0M287.8 683.2h0M287.9 688.3h0M288.0 692.9h0M288.1 693.5h0M288.2 704.6h0M288.3 699.4h0M288.3 705.4h0M288.4 714.1h0M288.5 696.7h0M288.6 702.3h0M288.7 709.5h0M288.8 694.1h0M288.9 700.1h0M289.0 687.8h0M289.2 703.8h0M289.3 689.4h0M289.4 696.0h0M289.5 698.0h0M289.8 702.3h0M289.9 700.1h0M290.0 687.3h0M290.1 698.7h0M290.2 692.3h0M290.3 707.8h0M290.4 699.4h0M290.5 696.7h0M290.6 692.9h0M290.7 682.3h0M290.8 691.7h0M290.9 698.7h0M291.0 700.8h0M291.1 692.9h0M291.2 702.3h0M291.3 694.1h0M291.6 697.4h0M291.7 687.3h0M291.8 703.0h0M291.9 718.2h0M292.0 694.1h0M292.2 696.0h0M292.3 692.3h0M292.4 695.4h0M292.5 699.4h0M292.6 696.7h0M292.8 703.0h0M292.8 693.5h0M292.9 688.9h0M293.0 705.4h0M293.1 698.0h0M293.2 703.8h0M293.3 692.9h0M293.4 700.1h0M293.5 706.2h0M293.6 697.4h0M293.7 686.7h0M293.8 694.8h0M294.0 701.5h0M294.1 700.1h0M294.2 699.4h0M294.3 698.0h0M294.4 696.7h0M294.6 694.1h0M294.7 691.7h0M294.8 696.0h0M294.9 707.0h0M295.0 710.4h0M295.1 694.8h0M295.2 693.5h0M295.3 688.3h0M295.4 711.3h0M295.5 712.2h0M295.6 694.8h0M295.7 703.0h0M295.8 701.5h0M295.9 710.4h0M296.0 703.8h0M296.2 700.1h0M296.3 698.7h0M296.4 706.2h0M296.5 704.6h0M296.6 699.4h0M296.7 703.8h0M296.8 711.3h0M296.9 698.0h0M297.0 696.7h0M297.1 712.2h0M297.2 701.5h0M297.3 701.5h0M297.3 709.5h0M297.4 704.6h0M297.5 712.2h0M297.8 707.0h0M297.9 710.4h0M298.0 703.8h0M298.1 693.5h0M298.2 700.1h0M298.3 704.6h0M298.4 707.8h0M298.5 698.0h0M298.7 691.7h0M298.8 705.4h0M298.9 716.1h0M299.0 695.4h0M299.1 707.8h0M299.2 689.4h0M299.3 711.3h0M299.4 698.0h0M299.5 721.5h0M299.6 715.1h0M299.6 707.8h0M299.7 717.1h0M299.8 708.7h0M299.9 704.6h0M300.0 701.5h0M300.2 695.4h0M300.3 705.4h0M300.4 700.8h0M300.5 704.6h0M300.6 707.8h0M300.7 711.3h0M300.8 705.4h0M300.9 698.0h0M301.1 694.1h0M301.2 706.2h0M301.3 710.4h0M301.4 717.1h0M301.5 708.7h0M301.6 699.4h0M301.7 707.8h0M301.8 689.4h0M301.9 704.6h0M302.0 714.1h0M302.1 703.8h0M302.2 700.1h0M302.3 717.1h0M302.4 711.3h0M302.5 704.6h0M302.6 703.0h0M302.8 711.3h0M302.9 722.7h0M303.0 734.7h0M303.1 701.5h0M303.3 704.6h0M303.4 718.2h0M303.6 725.1h0M303.7 704.6h0M303.8 696.0h0M303.9 718.2h0M304.0 712.2h0M304.1 698.7h0M304.1 711.3h0M304.2 728.9h0M304.3 707.0h0M304.4 706.2h0M304.5 728.9h0M304.6 710.4h0M304.7 704.6h0M304.8 718.2h0M305.0 712.2h0M305.1 727.6h0M305.2 726.3h0M305.3 716.1h0M305.4 722.7h0M305.5 711.3h0M305.6 719.3h0M305.7 712.2h0M305.8 731.7h0M305.9 725.1h0M306.1 731.7h0M306.2 721.5h0M306.3 713.2h0M306.4 718.2h0M306.4 716.1h0M306.5 726.3h0M306.6 709.5h0M306.7 715.1h0M306.8 698.7h0M306.9 720.4h0M307.0 713.2h0M307.1 707.8h0M307.2 728.9h0M307.3 722.7h0M307.4 714.1h0M307.5 721.5h0M307.6 727.6h0M307.7 709.5h0M307.8 728.9h0M307.9 716.1h0M308.0 734.7h0M308.2 721.5h0M308.3 720.4h0M308.4 704.6h0M308.5 712.2h0M308.6 722.7h0M308.6 714.1h0M308.7 725.1h0M308.8 747.0h0M308.9 731.7h0M309.0 705.4h0M309.2 717.1h0M309.3 725.1h0M309.4 719.3h0M309.6 716.1h0M309.7 709.5h0M309.9 734.7h0M310.0 711.3h0M310.1 703.8h0M310.2 727.6h0M310.3 705.4h0M310.4 716.1h0M310.5 728.9h0M310.6 710.4h0M310.7 719.3h0M310.8 721.5h0M310.9 709.5h0M310.9 722.7h0M311.0 711.3h0M311.1 705.4h0M311.2 725.1h0M311.3 720.4h0M311.4 707.8h0M311.5 731.7h0M311.6 709.5h0M311.7 712.2h0M311.8 715.1h0M311.9 720.4h0M312.0 718.2h0M312.1 711.3h0M312.2 707.0h0M312.3 703.8h0M312.5 704.6h0M312.6 707.8h0M312.7 725.1h0M312.8 716.1h0M312.9 721.5h0M313.0 710.4h0M313.1 718.2h0M313.1 711.3h0M313.2 710.4h0M313.3 714.1h0M313.4 717.1h0M313.5 696.0h0M313.6 718.2h0M313.7 709.5h0M313.8 719.3h0M313.9 713.2h0M314.0 699.4h0M314.1 711.3h0M314.2 706.2h0M314.3 704.6h0M314.4 721.5h0M314.5 714.1h0M314.6 708.7h0M314.7 728.9h0M314.8 709.5h0M314.9 706.2h0M315.0 720.4h0M315.1 709.5h0M315.2 716.1h0M315.3 717.1h0M315.4 701.5h0M315.5 705.4h0M315.6 723.8h0M315.7 717.1h0M315.8 715.1h0M315.9 713.2h0M316.0 703.0h0M316.2 711.3h0M316.3 706.2h0M316.4 716.1h0M316.5 711.3h0M316.6 703.0h0M316.7 715.1h0M316.8 718.2h0M317.0 708.7h0M317.1 705.4h0M317.2 728.9h0M317.3 709.5h0M317.4 730.3h0M317.5 707.8h0M317.6 708.7h0M317.6 727.6h0M317.8 723.8h0M317.9 714.1h0M318.0 716.1h0M318.1 731.7h0M318.2 723.8h0M318.3 728.9h0M318.4 705.4h0M318.5 721.5h0M318.6 727.6h0M318.9 717.1h0M319.0 711.3h0M319.1 723.8h0M319.2 727.6h0M319.3 722.7h0M319.4 736.3h0M319.5 720.4h0M319.6 707.0h0M319.7 722.7h0M319.8 731.7h0M319.9 715.1h0M320.0 719.3h0M320.2 720.4h0M320.3 741.3h0M320.4 711.3h0M320.5 715.1h0M320.6 709.5h0M320.7 720.4h0M320.8 733.2h0M320.9 717.1h0M321.0 713.2h0M321.2 726.3h0M321.3 726.3h0M321.4 711.3h0M321.5 730.3h0M321.6 725.1h0M321.7 718.2h0M321.8 727.6h0M321.9 719.3h0M322.0 723.8h0M322.1 717.1h0M322.2 707.8h0M322.3 722.7h0M322.4 731.7h0M322.5 733.2h0M322.6 728.9h0M322.7 725.1h0M322.8 731.7h0M322.9 733.2h0M323.0 718.2h0M323.1 719.3h0M323.2 727.6h0M323.3 715.1h0M323.4 708.7h0M323.5 720.4h0M323.6 703.8h0M323.7 733.2h0M323.8 731.7h0M323.9 736.3h0M324.0 721.5h0M324.1 725.1h0M324.2 718.2h0M324.4 715.1h0M324.4 715.1h0M324.5 749.1h0M324.6 727.6h0M324.7 739.6h0M324.8 718.2h0M324.9 733.2h0M325.0 731.7h0M325.2 731.7h0M325.3 717.1h0M325.4 730.3h0M325.5 733.2h0M325.7 727.6h0M325.9 728.9h0M326.1 743.1h0M326.2 726.3h0M326.3 727.6h0M326.4 728.9h0M326.5 736.3h0M326.6 733.2h0M326.7 731.7h0M326.8 761.2h0M326.9 730.3h0M327.0 723.8h0M327.1 719.3h0M327.2 728.9h0M327.3 736.3h0M327.5 725.1h0M327.6 707.8h0M327.7 723.8h0M327.8 721.5h0M327.9 727.6h0M328.1 739.6h0M328.2 728.9h0M328.3 725.1h0M328.5 737.9h0M328.6 739.6h0M328.7 736.3h0M328.8 716.1h0M328.9 733.2h0M329.0 725.1h0M329.1 734.7h0M329.2 736.3h0M329.3 737.9h0M329.4 728.9h0M329.5 734.7h0M329.6 733.2h0M329.7 731.7h0M329.8 725.1h0M330.0 722.7h0M330.1 736.3h0M330.2 743.1h0M330.3 737.9h0M330.4 725.1h0M330.5 717.1h0M330.6 711.3h0M330.7 739.6h0M330.9 725.1h0M331.0 733.2h0M331.1 739.6h0M331.2 727.6h0M331.3 723.8h0M331.4 715.1h0M331.6 733.2h0M331.7 739.6h0M331.9 723.8h0M332.2 734.7h0M332.3 745.0h0M332.4 736.3h0M332.5 730.3h0M332.6 720.4h0M332.7 721.5h0M332.8 722.7h0M332.9 727.6h0M333.0 737.9h0M333.3 728.9h0M333.4 734.7h0M333.4 756.0h0M333.5 716.1h0M333.6 753.6h0M333.7 733.2h0M333.8 749.1h0M334.0 734.7h0M334.1 741.3h0M334.2 725.1h0M334.3 730.3h0M334.4 745.0h0M334.5 731.7h0M334.6 739.6h0M334.9 739.6h0M335.0 726.3h0M335.1 736.3h0M335.2 728.9h0M335.3 734.7h0M335.4 747.0h0M335.5 737.9h0M335.6 758.5h0M335.7 749.1h0M335.8 731.7h0M335.9 720.4h0M336.0 747.0h0M336.1 728.9h0M336.2 736.3h0M336.3 737.9h0M336.4 718.2h0M336.5 725.1h0M336.6 749.1h0M336.7 745.0h0M336.8 720.4h0M336.9 743.1h0M337.0 756.0h0M337.2 736.3h0M337.3 741.3h0M337.4 730.3h0M337.5 731.7h0M337.6 756.0h0M337.7 737.9h0M337.8 749.1h0M337.9 758.5h0M337.9 743.1h0M338.0 730.3h0M338.1 720.4h0M338.2 753.6h0M338.3 733.2h0M338.4 747.0h0M338.5 749.1h0M338.6 728.9h0M338.7 743.1h0M338.8 737.9h0M338.9 741.3h0M339.0 736.3h0M339.1 749.1h0M339.3 751.3h0M339.4 739.6h0M339.6 733.2h0M339.7 741.3h0M339.8 739.6h0M339.9 743.1h0M340.0 753.6h0M340.1 758.5h0M340.2 745.0h0M340.3 747.0h0M340.4 745.0h0M340.5 758.5h0M340.6 728.9h0M340.7 730.3h0M340.8 736.3h0M341.0 743.1h0M341.1 756.0h0M341.2 734.7h0M341.3 739.6h0M341.4 745.0h0M341.5 737.9h0M341.6 726.3h0M341.7 770.5h0M341.8 777.9h0M342.0 747.0h0M342.1 731.7h0M342.2 753.6h0M342.3 745.0h0M342.4 739.6h0M342.5 743.1h0M342.7 741.3h0M342.8 756.0h0M342.9 751.3h0M343.0 739.6h0M343.1 743.1h0M343.2 741.3h0M343.3 745.0h0M343.5 734.7h0M343.7 751.3h0M343.8 726.3h0M343.9 745.0h0M344.0 739.6h0M344.1 736.3h0M344.2 743.1h0M344.4 734.7h0M344.5 730.3h0M344.6 767.2h0M344.7 751.3h0M344.7 745.0h0M344.8 741.3h0M345.1 743.1h0M345.2 733.2h0M345.3 726.3h0M345.4 764.1h0M345.5 756.0h0M345.6 753.6h0M345.8 747.0h0M345.9 743.1h0M346.1 723.8h0M346.2 741.3h0M346.3 747.0h0M346.4 734.7h0M346.5 739.6h0M346.6 730.3h0M346.8 737.9h0M346.9 747.0h0M346.9 741.3h0M347.0 756.0h0M347.1 751.3h0M347.2 728.9h0M347.3 718.2h0M347.5 764.1h0M347.6 725.1h0M347.7 749.1h0M347.8 736.3h0M347.9 734.7h0M348.0 739.6h0M348.1 764.1h0M348.2 747.0h0M348.3 731.7h0M348.4 777.9h0M348.5 739.6h0M348.6 730.3h0M348.7 737.9h0M348.9 733.2h0M349.0 734.7h0M349.1 749.1h0M349.2 731.7h0M349.2 747.0h0M349.3 730.3h0M349.4 734.7h0M349.5 739.6h0M349.6 770.5h0M349.7 758.5h0M349.9 751.3h0M350.0 736.3h0M350.1 767.2h0M350.2 726.3h0M350.3 758.5h0M350.4 747.0h0M350.5 741.3h0M350.7 733.2h0M350.8 745.0h0M350.9 745.0h0M351.0 749.1h0M351.1 756.0h0M351.2 747.0h0M351.3 739.6h0M351.4 774.1h0M351.4 734.7h0M351.5 741.3h0M351.6 736.3h0M351.7 741.3h0M351.8 737.9h0M351.9 761.2h0M352.1 745.0h0M352.2 751.3h0M352.3 747.0h0M352.4 764.1h0M352.5 741.3h0M352.6 734.7h0M352.7 758.5h0M352.8 739.6h0M352.9 737.9h0M353.0 761.2h0M353.2 730.3h0M353.3 741.3h0M353.4 734.7h0M353.5 743.1h0M353.6 749.1h0M353.7 731.7h0M353.7 747.0h0M353.8 751.3h0M353.9 730.3h0M354.0 743.1h0M354.1 749.1h0M354.2 745.0h0M354.3 741.3h0M354.4 753.6h0M354.5 747.0h0M354.6 751.3h0M354.9 758.5h0M355.0 777.9h0M355.1 764.1h0M355.2 756.0h0M355.3 726.3h0M355.4 733.2h0M355.6 737.9h0M355.7 739.6h0M355.8 764.1h0M355.9 751.3h0M355.9 756.0h0M356.0 745.0h0M356.2 761.2h0M356.4 745.0h0M356.5 743.1h0M356.6 758.5h0M356.7 767.2h0M356.8 756.0h0M356.9 761.2h0M357.0 782.2h0M357.1 747.0h0M357.2 739.6h0M357.3 751.3h0M357.4 770.5h0M357.5 749.1h0M357.6 741.3h0M357.7 758.5h0M357.9 764.1h0M358.0 756.0h0M358.1 758.5h0M358.2 782.2h0M358.2 767.2h0M358.3 751.3h0M358.4 761.2h0M358.5 756.0h0M358.6 753.6h0M358.8 753.6h0M358.9 758.5h0M359.0 764.1h0M359.1 770.5h0M359.2 743.1h0M359.3 756.0h0M359.4 749.1h0M359.7 774.1h0M359.8 749.1h0M359.9 770.5h0M360.0 751.3h0M360.1 753.6h0M360.4 761.2h0M360.5 758.5h0M360.6 764.1h0M360.7 741.3h0M361.0 751.3h0M361.1 749.1h0M361.2 753.6h0M361.3 767.2h0M361.4 761.2h0M361.6 764.1h0M361.7 743.1h0M362.0 749.1h0M362.1 761.2h0M362.2 751.3h0M362.3 774.1h0M362.5 756.0h0M362.6 782.2h0M362.7 792.1h0M362.7 777.9h0M362.8 761.2h0M363.1 745.0h0M363.2 758.5h0M363.3 753.6h0M363.5 756.0h0M363.6 751.3h0M363.7 767.2h0M363.8 753.6h0M363.9 756.0h0M364.0 737.9h0M364.1 764.1h0M364.2 749.1h0M364.4 758.5h0M364.5 761.2h0M364.6 774.1h0M364.7 736.3h0M364.8 782.2h0M364.9 753.6h0M364.9 770.5h0M365.1 792.1h0M365.2 753.6h0M365.3 756.0h0M365.5 761.2h0M365.6 749.1h0M365.7 751.3h0M365.8 770.5h0M365.9 758.5h0M366.0 751.3h0M366.1 761.2h0M366.2 749.1h0M366.3 770.5h0M366.4 767.2h0M366.6 764.1h0M366.7 745.0h0M366.9 761.2h0M367.0 749.1h0M367.1 741.3h0M367.2 798.1h0M367.3 756.0h0M367.5 767.2h0M367.6 770.5h0M367.7 756.0h0M367.8 761.2h0M367.9 758.5h0M368.2 764.1h0M368.5 761.2h0M368.6 751.3h0M368.7 737.9h0M368.8 753.6h0M368.9 745.0h0M369.1 774.1h0M369.3 749.1h0M369.4 751.3h0M369.4 777.9h0M369.5 774.1h0M369.6 758.5h0M369.7 786.9h0M369.9 764.1h0M370.0 756.0h0M370.1 770.5h0M370.2 767.2h0M370.6 739.6h0M370.7 751.3h0M370.8 764.1h0M370.9 764.1h0M371.0 767.2h0M371.1 782.2h0M371.2 751.3h0M371.3 747.0h0M371.4 777.9h0M371.5 798.1h0M371.6 770.5h0M371.7 749.1h0M371.7 770.5h0M371.8 751.3h0M371.9 761.2h0M372.1 767.2h0M372.3 792.1h0M372.4 798.1h0M372.5 758.5h0M372.6 777.9h0M372.7 764.1h0M372.8 761.2h0M372.9 770.5h0M373.0 767.2h0M373.3 756.0h0M373.4 786.9h0M373.5 751.3h0M373.6 761.2h0M373.7 758.5h0M373.8 764.1h0M374.0 758.5h0M374.1 782.2h0M374.2 745.0h0M374.3 756.0h0M374.4 774.1h0M374.5 786.9h0M374.6 761.2h0M374.8 756.0h0M374.9 753.6h0M375.0 767.2h0M375.1 761.2h0M375.4 770.5h0M375.7 767.2h0M375.8 764.1h0M375.9 782.2h0M376.1 761.2h0M376.2 774.1h0M376.3 739.6h0M376.4 770.5h0M376.5 761.2h0M376.6 764.1h0M376.7 758.5h0M376.8 753.6h0M377.2 782.2h0M377.3 770.5h0M377.4 777.9h0M377.5 798.1h0M377.6 764.1h0M377.7 751.3h0M378.0 774.1h0M378.1 761.2h0M378.2 745.0h0M378.3 758.5h0M378.5 770.5h0M378.5 753.6h0M378.7 767.2h0M378.8 751.3h0M378.9 782.2h0M379.0 786.9h0M379.1 777.9h0M379.4 764.1h0M379.5 767.2h0M379.7 751.3h0M379.8 767.2h0M379.9 758.5h0M380.0 792.1h0M380.1 777.9h0M380.2 753.6h0M380.5 767.2h0M380.6 749.1h0M380.7 786.9h0M380.7 770.5h0M380.8 745.0h0M380.9 751.3h0M381.0 774.1h0M381.1 758.5h0M381.2 782.2h0M381.3 770.5h0M381.4 761.2h0M381.5 745.0h0M381.6 758.5h0M381.7 786.9h0M381.8 774.1h0M382.1 758.5h0M382.2 756.0h0M382.3 764.1h0M382.4 761.2h0M382.5 782.2h0M382.7 792.1h0M382.9 758.5h0M383.0 770.5h0M383.0 782.2h0M383.1 767.2h0M383.2 751.3h0M383.5 777.9h0M383.6 782.2h0M383.7 758.5h0M383.8 767.2h0M383.9 764.1h0M384.3 770.5h0M384.4 777.9h0M384.5 756.0h0M384.6 774.1h0M384.7 751.3h0M384.8 761.2h0M384.9 792.1h0M385.1 753.6h0M385.2 767.2h0M385.2 782.2h0M385.3 758.5h0M385.4 761.2h0M385.5 777.9h0M385.8 770.5h0M386.0 758.5h0M386.1 782.2h0M386.2 770.5h0M386.3 777.9h0M386.4 747.0h0M386.5 798.1h0M386.6 774.1h0M386.7 761.2h0M386.9 753.6h0M387.0 798.1h0M387.1 761.2h0M387.2 777.9h0M387.3 786.9h0M387.4 764.1h0M387.6 774.1h0M387.7 767.2h0M387.8 777.9h0M387.9 770.5h0M388.0 764.1h0M388.3 756.0h0M388.6 777.9h0M388.7 761.2h0M388.8 749.1h0M388.9 792.1h0M389.2 741.3h0M389.3 792.1h0M389.4 786.9h0M389.5 774.1h0M389.6 770.5h0M389.7 764.1h0M389.8 782.2h0M389.9 798.1h0M390.0 786.9h0M390.1 767.2h0M390.2 792.1h0M390.3 764.1h0M390.4 747.0h0M390.5 777.9h0M390.6 761.2h0M390.7 758.5h0M390.8 786.9h0M390.9 782.2h0M391.0 747.0h0M391.1 770.5h0M391.2 774.1h0M391.4 798.1h0M391.5 792.1h0M391.6 767.2h0M391.7 764.1h0M391.8 767.2h0M391.9 753.6h0M392.1 786.9h0M392.2 792.1h0M392.4 782.2h0M392.5 786.9h0M392.7 792.1h0M392.8 774.1h0M393.1 764.1h0M393.2 770.5h0M393.3 770.5h0M393.4 792.1h0M393.5 798.1h0M393.6 767.2h0M393.9 782.2h0M394.2 798.1h0M394.3 774.1h0M394.4 777.9h0M394.5 770.5h0M394.7 786.9h0M394.8 767.2h0M394.9 792.1h0M395.0 782.2h0M395.1 758.5h0M395.3 786.9h0M395.6 777.9h0M395.7 782.2h0M395.8 792.1h0M396.0 774.1h0M396.2 767.2h0M396.5 798.1h0M396.5 782.2h0M396.6 792.1h0M396.7 770.5h0M396.8 756.0h0M397.2 792.1h0M397.3 798.1h0M397.4 782.2h0M397.5 764.1h0M397.6 777.9h0M397.9 756.0h0M398.1 751.3h0M398.2 792.1h0M398.3 777.9h0M398.6 774.1h0M398.7 798.1h0M398.8 792.1h0M398.9 798.1h0M399.8 764.1h0M399.9 777.9h0M400.0 774.1h0M400.1 786.9h0M400.3 782.2h0M400.4 767.2h0M400.5 777.9h0M400.6 792.1h0M400.7 782.2h0M400.9 774.1h0M401.0 798.1h0M401.2 767.2h0M401.3 798.1h0M401.4 777.9h0M401.5 786.9h0M401.6 774.1h0M401.7 770.5h0M401.8 782.2h0M402.0 782.2h0M402.1 786.9h0M402.5 774.1h0M402.7 798.1h0M403.0 751.3h0M403.1 782.2h0M403.2 758.5h0M403.2 792.1h0M403.3 798.1h0M403.7 767.2h0M403.9 786.9h0M404.0 798.1h0M404.3 782.2h0M404.5 798.1h0M404.7 764.1h0M404.8 777.9h0M405.0 782.2h0M405.1 786.9h0M405.4 774.1h0M405.5 786.9h0M405.9 761.2h0M406.0 798.1h0M406.1 792.1h0M406.6 786.9h0M407.2 767.2h0M407.5 777.9h0M407.6 782.2h0M407.8 777.9h0M407.9 786.9h0M408.2 774.1h0M408.4 770.5h0M408.7 782.2h0M408.8 798.1h0M409.1 792.1h0M409.3 792.1h0M409.6 774.1h0M409.7 798.1h0M409.8 786.9h0M410.0 777.9h0M410.0 786.9h0M410.1 792.1h0M410.2 782.2h0M410.3 774.1h0M410.4 777.9h0M410.7 798.1h0M410.8 782.2h0M411.1 774.1h0M411.2 777.9h0M411.8 792.1h0M411.9 782.2h0M412.1 798.1h0M412.2 786.9h0M412.4 792.1h0M412.7 774.1h0M412.8 786.9h0M413.0 777.9h0M413.1 798.1h0M413.2 782.2h0M413.3 792.1h0M413.4 786.9h0M414.2 767.2h0M414.3 798.1h0M414.5 782.2h0M414.5 770.5h0M414.6 786.9h0M414.9 792.1h0M415.0 774.1h0M415.1 798.1h0M415.2 782.2h0M415.3 786.9h0M415.7 792.1h0M416.2 782.2h0M416.4 770.5h0M416.5 792.1h0M416.7 782.2h0M416.9 786.9h0M417.0 777.9h0M417.5 770.5h0M417.6 792.1h0M417.8 767.2h0M417.9 777.9h0M418.4 786.9h0M418.6 777.9h0M418.7 770.5h0M419.0 756.0h0M419.0 792.1h0M419.1 798.1h0M419.5 761.2h0M419.7 798.1h0M420.0 782.2h0M420.4 786.9h0M420.6 786.9h0M420.7 792.1h0M421.1 798.1h0M421.3 792.1h0M421.3 786.9h0M421.5 798.1h0M422.0 798.1h0M423.0 798.1h0M423.7 798.1h0M423.8 782.2h0M423.9 792.1h0M424.6 782.2h0M424.7 798.1h0M425.3 792.1h0M425.8 786.9h0M426.5 792.1h0M426.9 798.1h0M428.0 798.1h0M428.8 798.1h0M429.4 798.1h0M429.5 792.1h0M430.2 786.9h0M430.3 792.1h0M431.4 792.1h0M432.3 792.1h0M432.4 777.9h0M434.2 782.2h0M435.2 798.1h0M435.4 792.1h0M436.3 798.1h0M436.7 798.1h0M438.0 792.1h0M438.4 798.1h0M439.4 798.1h0M439.6 792.1h0M440.0 798.1h0M441.5 792.1h0M443.8 798.1h0M447.3 792.1h0M449.6 798.1h0M450.0 792.1h0M451.3 798.1h0M452.8 798.1h0M408.2 884.9H413.9M425.3 884.9H428.1M431.0 884.9H446.6M449.4 884.9H574.5M580.2 884.9H598.7M603.0 884.9H618.6M408.2 854.0H410.0M415.0 854.0H422.4M425.3 854.0H516.2M520.5 854.0H524.8M530.5 854.0H544.7M548.9 854.0H551.8M384.0 835.9H384.0M396.8 835.9H399.7M412.5 835.9H523.3M544.7 835.9H544.7M369.8 823.1H369.8M395.4 823.1H395.4M403.9 823.1H477.9M489.2 823.1H497.8M506.3 823.1H514.8M381.2 813.1H381.2M394.0 813.1H394.0M405.3 813.1H449.4M463.6 813.1H463.6M482.0 813.1H490.6M374.0 805.0H382.6M391.0 805.0H428.0M441.0 805.0H466.5M473.6 805.0H473.6" fill="none" stroke="#dd2f2a" stroke-width="3.8" stroke-linecap="round"/></g>
<path d="M168.2 497.3 L168.2 498.1 L168.2 499.0 L168.2 499.9 L168.2 500.8 L168.2 501.7 L168.3 502.6 L168.3 503.5 L168.3 504.3 L168.3 505.2 L168.3 506.1 L168.4 507.0 L168.4 507.9 L168.4 508.8 L168.4 509.7 L168.5 510.6 L168.5 511.5 L168.5 512.3 L168.5 513.2 L168.6 514.1 L168.6 515.0 L168.6 515.9 L168.7 516.8 L168.7 517.7 L168.7 518.6 L168.8 519.5 L168.8 520.4 L168.8 521.3 L168.9 522.2 L168.9 523.1 L169.0 524.0 L169.0 524.9 L169.1 525.8 L169.1 526.7 L169.2 527.6 L169.2 528.5 L169.3 529.4 L169.4 530.4 L169.4 531.3 L169.5 532.2 L169.5 533.1 L169.6 534.0 L169.7 534.9 L169.8 535.8 L169.8 536.8 L169.9 537.7 L170.0 538.6 L170.1 539.6 L170.2 540.5 L170.3 541.4 L170.4 542.3 L170.5 543.3 L170.6 544.2 L170.7 545.2 L170.8 546.1 L170.9 547.1 L171.1 548.0 L171.2 549.0 L171.3 549.9 L171.5 550.9 L171.6 551.8 L171.8 552.8 L171.9 553.8 L172.1 554.8 L172.3 555.7 L172.5 556.7 L172.6 557.7 L172.8 558.7 L173.0 559.7 L173.2 560.7 L173.5 561.7 L173.7 562.7 L173.9 563.7 L174.2 564.8 L174.4 565.8 L174.7 566.8 L175.0 567.9 L175.3 568.9 L175.6 570.0 L175.9 571.0 L176.2 572.1 L176.5 573.2 L176.9 574.3 L177.2 575.4 L177.6 576.5 L178.0 577.6 L178.4 578.7 L178.8 579.8 L179.3 581.0 L179.7 582.1 L180.2 583.3 L180.7 584.5 L181.2 585.7 L181.8 586.9 L182.3 588.1 L182.9 589.3 L183.5 590.6 L184.1 591.8 L184.8 593.1 L185.5 594.4 L186.2 595.7 L186.9 597.0 L189.6 601.5 L191.5 604.6 L193.4 607.5 L195.3 610.3 L197.3 612.9 L199.2 615.5 L201.1 618.0 L203.0 620.4 L204.9 622.7 L206.8 625.0 L208.7 627.2 L210.7 629.4 L212.6 631.6 L214.5 633.7 L216.4 635.7 L218.3 637.7 L220.2 639.7 L222.1 641.7 L224.1 643.6 L226.0 645.5 L227.9 647.4 L229.8 649.3 L231.7 651.1 L233.6 653.0 L235.6 654.8 L237.5 656.5 L239.4 658.3 L241.3 660.1 L243.2 661.8 L245.1 663.5 L247.0 665.2 L249.0 666.9 L250.9 668.6 L252.8 670.3 L254.7 671.9 L256.6 673.6 L258.5 675.2 L260.4 676.9 L262.4 678.5 L264.3 680.1 L266.2 681.7 L268.1 683.3 L270.0 684.9 L271.9 686.5 L273.9 688.0 L275.8 689.6 L277.7 691.1 L279.6 692.7 L281.5 694.2 L283.4 695.8 L285.3 697.3 L287.3 698.8 L289.2 700.3 L291.1 701.8 L293.0 703.4 L294.9 704.9 L296.8 706.4 L298.7 707.8 L300.7 709.3 L302.6 710.8 L304.5 712.3 L306.4 713.8 L308.3 715.2 L310.2 716.7 L312.2 718.2 L314.1 719.6 L316.0 721.1 L317.9 722.5 L319.8 724.0 L321.7 725.4 L323.6 726.8 L325.6 728.3 L327.5 729.7 L329.4 731.1 L331.3 732.6 L333.2 734.0 L335.1 735.4 L337.0 736.8 L339.0 738.2 L340.9 739.7 L342.8 741.1 L344.7 742.5 L346.6 743.9 L348.5 745.3 L350.5 746.7 L352.4 748.1 L354.3 749.5 L356.2 750.9 L358.1 752.2 L360.0 753.6 L361.9 755.0 L363.9 756.4 L365.8 757.8 L367.7 759.2 L369.6 760.5 L371.5 761.9 L373.4 763.3 L375.3 764.6 L377.3 766.0 L379.2 767.4 L381.1 768.7 L383.0 770.1 L384.9 771.5 L386.8 772.8 L388.8 774.2 L390.7 775.5 L392.6 776.9 L394.5 778.2 L396.4 779.6 L398.3 780.9 L400.2 782.3 L402.2 783.6 L404.1 785.0 L406.0 786.3 L407.9 787.7 L409.8 789.0 L411.7 790.3 L413.6 791.7 L415.6 793.0 L417.5 794.4 L419.4 795.7 L421.3 797.0 L423.2 798.4 L425.1 799.7 L427.1 801.0 L429.0 802.3 L430.9 803.7 L432.8 805.0 L434.7 806.3 L436.6 807.6 L438.5 809.0 L440.5 810.3 L442.4 811.6 L444.3 812.9 L446.2 814.2 L448.1 815.5 L450.0 816.9 L451.9 818.2 L453.9 819.5 L455.8 820.8 L457.7 822.1 L459.6 823.4 L461.5 824.7 L463.4 826.0 L465.4 827.3 L467.3 828.7 L469.2 830.0 L471.1 831.3 L473.0 832.6 L474.9 833.9 L476.8 835.2 L478.8 836.5 L480.7 837.8 L482.6 839.1 L484.5 840.4 L486.4 841.7 L488.3 843.0 L490.2 844.3 L492.2 845.6 L494.1 846.9 L496.0 848.1 L497.9 849.4 L499.8 850.7 L501.7 852.0 L503.7 853.3 L505.6 854.6 L507.5 855.9 L509.4 857.2 L511.3 858.5 L513.2 859.8 L515.1 861.0 L517.1 862.3 L519.0 863.6 L520.9 864.9 L522.8 866.2 L524.7 867.5 L526.6 868.7 L528.5 870.0 L530.5 871.3 L532.4 872.6 L534.3 873.9 L536.2 875.2 L538.1 876.4 L540.0 877.7 L542.0 879.0 L543.9 880.3 L545.8 881.5 L547.7 882.8 L549.6 884.1 L551.5 885.4 L553.4 886.6 L555.4 887.9 L557.3 889.2 L559.2 890.5 L561.1 891.7 L563.0 893.0 L564.9 894.3 L566.8 895.5 L568.8 896.8 L570.7 898.1 L572.6 899.4 L574.5 900.6 L576.4 901.9 L578.3 903.2 L580.3 904.4 L582.2 905.7 L584.1 907.0 L586.0 908.2" fill="none" stroke="#231f20" stroke-width="3.6" clip-path="url(#clipB)"/>
<line x1="209.1" y1="908.4" x2="209.1" y2="497.9" stroke="#1a1a1a" stroke-width="3.6" stroke-dasharray="13.3 5.98"/>
<rect x="129.2" y="497.9" width="511.7" height="410.5" fill="none" stroke="#1a1a1a" stroke-width="1.7"/>
<path d="M167.8 908.4v-4.6M167.8 497.9v-4.6M263.6 908.4v-4.6M263.6 497.9v-4.6M359.3 908.4v-4.6M359.3 497.9v-4.6M455.1 908.4v-4.6M455.1 497.9v-4.6M550.8 908.4v-4.6M550.8 497.9v-4.6M129.2 908.3h4.9M129.2 877.4h2.6M129.2 859.3h2.6M129.2 846.5h2.6M129.2 836.5h2.6M129.2 828.4h2.6M129.2 821.5h2.6M129.2 815.6h2.6M129.2 810.3h2.6M129.2 805.6h4.9M129.2 774.7h2.6M129.2 756.6h2.6M129.2 743.8h2.6M129.2 733.8h2.6M129.2 725.7h2.6M129.2 718.8h2.6M129.2 712.9h2.6M129.2 707.6h2.6M129.2 702.9h4.9M129.2 672.0h2.6M129.2 653.9h2.6M129.2 641.1h2.6M129.2 631.1h2.6M129.2 623.0h2.6M129.2 616.1h2.6M129.2 610.2h2.6M129.2 604.9h2.6M129.2 600.2h4.9M129.2 569.3h2.6M129.2 551.2h2.6M129.2 538.4h2.6M129.2 528.4h2.6M129.2 520.3h2.6M129.2 513.4h2.6M129.2 507.5h2.6M129.2 502.2h2.6M129.2 497.5h4.9" stroke="#1a1a1a" stroke-width="1.3" fill="none"/>
<defs><linearGradient id="cbar" x1="0" y1="0" x2="1" y2="0"><stop offset="0.0000" stop-color="#000004"/><stop offset="0.0312" stop-color="#060514"/><stop offset="0.0625" stop-color="#0d0b25"/><stop offset="0.0938" stop-color="#161238"/><stop offset="0.1250" stop-color="#1f194a"/><stop offset="0.1562" stop-color="#281f5a"/><stop offset="0.1875" stop-color="#332465"/><stop offset="0.2188" stop-color="#3e286d"/><stop offset="0.2500" stop-color="#4b2a73"/><stop offset="0.2812" stop-color="#592975"/><stop offset="0.3125" stop-color="#682876"/><stop offset="0.3438" stop-color="#772674"/><stop offset="0.3750" stop-color="#852770"/><stop offset="0.4062" stop-color="#93296b"/><stop offset="0.4375" stop-color="#a02e65"/><stop offset="0.4688" stop-color="#ac345f"/><stop offset="0.5000" stop-color="#b93c5a"/><stop offset="0.5312" stop-color="#c54554"/><stop offset="0.5625" stop-color="#d14f4d"/><stop offset="0.5938" stop-color="#da5846"/><stop offset="0.6250" stop-color="#e3613e"/><stop offset="0.6562" stop-color="#eb6b36"/><stop offset="0.6875" stop-color="#f0762f"/><stop offset="0.7188" stop-color="#f3822b"/><stop offset="0.7500" stop-color="#f68e28"/><stop offset="0.7812" stop-color="#f79c29"/><stop offset="0.8125" stop-color="#f8ab2c"/><stop offset="0.8438" stop-color="#f7b933"/><stop offset="0.8750" stop-color="#f4c842"/><stop offset="0.9062" stop-color="#f0d655"/><stop offset="0.9375" stop-color="#ede36c"/><stop offset="0.9688" stop-color="#ecea82"/><stop offset="1.0000" stop-color="#ecee96"/></linearGradient></defs>
<rect x="738.3" y="499.8" width="292.3" height="14.7" fill="url(#cbar)" stroke="#1a1a1a" stroke-width="1"/>
<path d="M738.3 499.8v-4.8M811.4 499.8v-4.8M884.4 499.8v-4.8M957.5 499.8v-4.8M1030.6 499.8v-4.8" stroke="#1a1a1a" stroke-width="1.1"/>
<rect x="738" y="536.8" width="293" height="370.7" fill="#000004"/>
</svg>
<div style="position:absolute;left:738px;top:627px;width:293px;height:2px;background:linear-gradient(90deg,#000004 0px,#000005 106px,#010005 116px,#010106 118px,#010107 124px,#010108 126px,#020108 128px,#020209 132px,#02020a 134px,#03020b 136px,#03020c 142px,#03030d 144px,#04030e 146px,#04030f 152px,#04040f 154px,#050410 156px,#040410 158px,#04040f 160px,#050410 162px,#04030f 168px,#04030e 176px,#03030d 178px,#03030c 180px,#03020c 182px,#03020b 184px,#02020a 186px,#020209 190px,#020108 192px,#010107 196px,#010106 200px,#010005 204px,#000005 206px,#000004 210px,#000004 292px)"></div>
<div style="position:absolute;left:738px;top:629px;width:293px;height:2px;background:linear-gradient(90deg,#000004 0px,#000005 104px,#010006 114px,#010106 116px,#010107 120px,#010108 124px,#020109 126px,#020209 128px,#02020a 130px,#03020b 134px,#03030c 136px,#03030d 138px,#04030d 140px,#04030e 142px,#04030f 144px,#050410 146px,#050411 148px,#050412 154px,#060513 156px,#060412 158px,#050412 160px,#060413 162px,#060513 164px,#050412 168px,#050411 170px,#050410 176px,#04030f 178px,#04030e 180px,#04030d 184px,#03020c 186px,#03020b 188px,#02020a 190px,#020209 194px,#020108 196px,#010107 198px,#010106 202px,#000005 206px,#000004 212px,#000004 292px)"></div>
<div style="position:absolute;left:738px;top:631px;width:293px;height:2px;background:linear-gradient(90deg,#000004 0px,#000005 102px,#010006 112px,#010106 114px,#010107 118px,#020108 122px,#020109 124px,#02020a 126px,#03020b 128px,#03020c 132px,#03030d 134px,#04030e 136px,#04030f 138px,#040410 140px,#050410 142px,#050412 144px,#060513 146px,#060514 150px,#070515 154px,#070616 156px,#070516 158px,#070515 160px,#070516 162px,#070617 164px,#070616 166px,#070515 168px,#060514 170px,#060513 176px,#050412 178px,#050411 180px,#050410 182px,#040410 184px,#04030e 186px,#03030d 188px,#03020c 190px,#03020b 192px,#02020a 194px,#020209 196px,#020108 198px,#010108 200px,#010107 202px,#010106 204px,#010006 206px,#000005 208px,#000004 214px,#000004 292px)"></div>
<div style="position:absolute;left:738px;top:633px;width:293px;height:2px;background:linear-gradient(90deg,#000004 0px,#000005 96px,#010005 108px,#010106 110px,#010107 116px,#010108 118px,#020108 120px,#020209 122px,#02020a 124px,#03020b 126px,#03030c 128px,#03030d 130px,#04030e 132px,#04030f 134px,#050411 136px,#050412 138px,#060412 140px,#060513 142px,#070515 144px,#070617 146px,#080618 152px,#080719 154px,#09071a 156px,#08071a 158px,#080719 160px,#08071a 162px,#09071b 164px,#09071a 166px,#080619 168px,#080618 170px,#070617 176px,#070515 178px,#060514 180px,#060513 182px,#060412 184px,#050411 186px,#04030f 188px,#04030e 190px,#03030d 192px,#03020c 194px,#03020b 196px,#020209 198px,#020108 200px,#010108 202px,#010107 204px,#010106 206px,#010005 208px,#000005 210px,#000004 214px,#000004 292px)"></div>
<div style="position:absolute;left:738px;top:635px;width:293px;height:2px;background:linear-gradient(90deg,#000004 0px,#000005 86px,#010005 106px,#010106 108px,#010107 112px,#020108 116px,#020209 118px,#02020a 120px,#03020c 124px,#04030d 126px,#04030e 128px,#04030f 130px,#050410 132px,#050412 134px,#060514 136px,#070515 138px,#070516 140px,#070617 142px,#080619 144px,#09071b 146px,#09071c 152px,#0a081e 154px,#0a081f 156px,#0a081e 158px,#0b091f 164px,#0a081f 166px,#0a081d 168px,#09071c 170px,#09071b 176px,#080619 178px,#070617 180px,#070516 184px,#060514 186px,#050412 188px,#050410 190px,#04030f 192px,#04030e 194px,#03030c 196px,#03020b 198px,#02020a 200px,#020109 202px,#010108 204px,#010107 206px,#010106 208px,#010005 210px,#000005 212px,#000004 216px,#000004 292px)"></div>
<div style="position:absolute;left:738px;top:637px;width:293px;height:2px;background:linear-gradient(90deg,#000004 0px,#000005 82px,#010106 106px,#010107 110px,#020108 114px,#020209 116px,#02020a 118px,#03020b 120px,#03030c 122px,#04030e 124px,#04040f 126px,#050411 128px,#050412 130px,#060513 132px,#070515 134px,#080618 136px,#080619 138px,#08071a 140px,#09071b 142px,#0a081d 144px,#0b0920 146px,#0b0921 152px,#0d0a24 154px,#0d0b25 156px,#0d0a24 158px,#0c0a23 160px,#0d0a24 162px,#0d0b25 164px,#0c0a23 168px,#0c0921 170px,#0b0920 176px,#0a081d 178px,#09071b 180px,#08071a 184px,#070617 186px,#060515 188px,#060513 190px,#050412 192px,#050410 194px,#04030e 196px,#03030d 198px,#03020b 200px,#02020a 202px,#020109 204px,#010107 206px,#010106 208px,#000005 212px,#000004 216px,#000004 292px)"></div>
<div style="position:absolute;left:738px;top:639px;width:293px;height:2px;background:linear-gradient(90deg,#000004 0px,#000005 80px,#010006 104px,#010106 106px,#010107 108px,#020108 112px,#020209 114px,#03020b 116px,#03020c 118px,#03030d 120px,#04030e 122px,#050410 124px,#060412 126px,#060514 128px,#070515 130px,#070617 132px,#080719 134px,#09071c 136px,#0a081e 138px,#0b0920 142px,#0c0a23 144px,#0e0b26 146px,#0e0c27 152px,#100d2a 154px,#100d2b 156px,#100d2a 158px,#0f0c29 160px,#100d2a 162px,#100d2c 164px,#100d2b 166px,#0f0c29 168px,#0e0c27 170px,#0e0c28 172px,#0e0b26 176px,#0c0a22 178px,#0b0920 180px,#0a081e 184px,#09071b 186px,#080619 188px,#070617 190px,#070515 192px,#060513 194px,#050411 196px,#04030f 198px,#03030d 200px,#03020c 202px,#02020a 204px,#020108 206px,#010107 208px,#010106 210px,#010005 212px,#000005 214px,#000004 218px,#000004 292px)"></div>
<div style="position:absolute;left:738px;top:641px;width:293px;height:2px;background:linear-gradient(90deg,#000004 0px,#000005 78px,#010005 100px,#010006 102px,#010106 104px,#010107 106px,#010108 108px,#020108 110px,#020209 112px,#03020b 114px,#03030c 116px,#04030e 118px,#04030f 120px,#050411 122px,#060513 124px,#070516 126px,#080618 128px,#080719 130px,#09071b 132px,#0a081e 134px,#0c0921 136px,#0c0a23 138px,#0d0a24 140px,#0e0b26 142px,#0f0c29 144px,#110e2c 146px,#110e2d 148px,#110e2c 150px,#110e2e 152px,#130f31 154px,#131032 156px,#130f31 158px,#120f2f 160px,#130f31 162px,#141033 164px,#131032 166px,#120f2f 168px,#110e2e 170px,#120f2e 174px,#110e2c 176px,#0f0c28 178px,#0e0b26 180px,#0d0b25 182px,#0d0a24 184px,#0b0920 186px,#0a081d 188px,#09071b 190px,#080719 192px,#070617 194px,#060514 196px,#050411 198px,#04030f 200px,#04030e 202px,#03020c 204px,#02020a 206px,#020108 208px,#010107 210px,#010106 212px,#000005 214px,#000004 218px,#000004 292px)"></div>
<div style="position:absolute;left:738px;top:643px;width:293px;height:2px;background:linear-gradient(90deg,#000004 0px,#000005 76px,#010005 98px,#010106 100px,#010107 104px,#020109 108px,#02020a 110px,#03020b 112px,#03030c 114px,#04030e 116px,#050411 118px,#050412 120px,#060514 122px,#070616 124px,#08071a 126px,#09071c 128px,#0a081e 130px,#0b0920 132px,#0d0a24 134px,#0e0c28 136px,#0f0d2a 138px,#100d2a 140px,#110e2c 142px,#120f30 144px,#141033 146px,#141133 148px,#141033 150px,#141134 152px,#161238 154px,#171339 156px,#161238 158px,#151236 160px,#161237 162px,#17133a 164px,#171339 166px,#151236 168px,#141134 170px,#151135 172px,#141033 176px,#120f2f 178px,#110e2c 180px,#100e2c 182px,#100d2a 184px,#0e0b27 186px,#0c0a22 188px,#0b091f 190px,#0a081e 192px,#09071b 194px,#080618 196px,#060514 198px,#050412 200px,#050410 202px,#04030e 204px,#03020b 206px,#020209 208px,#010108 210px,#010106 212px,#010006 214px,#000005 216px,#000004 218px,#000004 292px)"></div>
<div style="position:absolute;left:738px;top:645px;width:293px;height:2px;background:linear-gradient(90deg,#000004 0px,#000005 74px,#010005 96px,#010106 98px,#010107 102px,#020108 106px,#02020a 108px,#03020b 110px,#03030d 112px,#04030e 114px,#050411 116px,#060514 118px,#070516 120px,#070617 122px,#09071b 124px,#0a081e 126px,#0c0922 128px,#0d0a23 130px,#0e0b26 132px,#100d2a 134px,#120f2e 136px,#130f31 138px,#131031 140px,#141033 142px,#161237 144px,#17133a 146px,#171339 150px,#18143b 152px,#19153e 154px,#1a1540 156px,#19153e 158px,#18143d 160px,#19153e 162px,#1a1640 164px,#1a1540 166px,#18143d 168px,#17143b 170px,#18143c 172px,#17133a 176px,#151136 178px,#141033 180px,#131031 184px,#110e2d 186px,#0f0c28 188px,#0d0b25 190px,#0d0a23 192px,#0b0920 194px,#09071c 196px,#080618 198px,#070515 200px,#060513 202px,#050410 204px,#03030d 206px,#02020a 208px,#020109 210px,#010107 212px,#010106 214px,#000005 216px,#000004 220px,#000004 292px)"></div>
<div style="position:absolute;left:738px;top:647px;width:293px;height:2px;background:linear-gradient(90deg,#000004 0px,#000005 72px,#010005 88px,#010106 96px,#010107 100px,#020108 104px,#02020a 106px,#03020b 108px,#03030d 110px,#04030f 112px,#050411 114px,#060514 116px,#070617 118px,#080719 120px,#09071c 122px,#0b091f 124px,#0d0b24 126px,#0f0c28 128px,#100d2a 130px,#110e2c 132px,#131031 134px,#151136 136px,#161238 138px,#17133a 142px,#19153e 144px,#1b1641 146px,#1a1540 150px,#1b1641 152px,#1c1745 154px,#1d1847 156px,#1c1745 158px,#1b1643 160px,#1c1744 162px,#1d1847 164px,#1c1743 168px,#1b1641 170px,#1b1642 172px,#1c1743 174px,#1a1641 176px,#18143c 178px,#17133a 180px,#161338 184px,#141134 186px,#120f2f 188px,#100d2c 190px,#0f0d2a 192px,#0e0b26 194px,#0b0921 196px,#09071c 198px,#080719 200px,#070616 202px,#060513 204px,#04030f 206px,#03020c 208px,#02020a 210px,#020108 212px,#010107 214px,#010005 216px,#000005 218px,#000004 222px,#000004 292px)"></div>
<div style="position:absolute;left:738px;top:649px;width:293px;height:2px;background:linear-gradient(90deg,#000004 0px,#000005 72px,#010005 86px,#010006 88px,#010106 92px,#010107 98px,#020108 102px,#020209 104px,#03020b 106px,#04030d 108px,#04030f 110px,#050411 112px,#060514 114px,#080618 116px,#09071c 118px,#0a081e 120px,#0b0921 122px,#0e0b26 124px,#100d2b 126px,#120f2f 128px,#131031 130px,#141033 132px,#161238 134px,#19143d 136px,#19153f 138px,#1a1640 142px,#1c1745 144px,#1e1848 146px,#1d1846 150px,#1e1848 152px,#20194b 154px,#201a4d 156px,#1f194b 158px,#1e1949 160px,#1f194a 162px,#211a4d 164px,#201a4d 166px,#1f1949 168px,#1e1847 170px,#1e1848 172px,#1f194a 174px,#1e1847 176px,#1b1643 178px,#1a1640 180px,#1a1641 182px,#1a153f 184px,#18143b 186px,#151136 188px,#141032 190px,#130f31 192px,#110e2d 194px,#0e0c27 196px,#0c0921 198px,#0a081d 200px,#09071a 202px,#070616 204px,#050412 206px,#04030e 208px,#03020b 210px,#020209 212px,#010107 214px,#010106 216px,#000005 218px,#000004 222px,#000004 292px)"></div>
<div style="position:absolute;left:738px;top:651px;width:293px;height:2px;background:linear-gradient(90deg,#000004 0px,#000005 70px,#010005 80px,#010006 86px,#010106 88px,#010107 96px,#020108 100px,#020209 102px,#03020b 104px,#03030d 106px,#040410 108px,#050412 110px,#060515 112px,#080618 114px,#09081c 116px,#0b0921 118px,#0d0a24 120px,#0e0c27 122px,#110e2c 124px,#141032 126px,#151237 128px,#161238 130px,#17133a 132px,#1a153f 134px,#1c1744 136px,#1d1846 138px,#1d1745 140px,#1d1847 142px,#20194b 144px,#211b4f 146px,#211a4e 148px,#201a4c 150px,#211a4e 152px,#231c51 154px,#241c53 156px,#221b51 158px,#211b4e 160px,#221b50 162px,#241c53 164px,#231c53 166px,#221b4f 168px,#201a4d 170px,#211b4e 172px,#221b50 174px,#211a4e 176px,#1e1949 178px,#1d1847 180px,#1e1847 182px,#1d1846 184px,#1b1642 186px,#18143c 188px,#171339 190px,#161238 192px,#141134 194px,#110e2e 196px,#0e0c27 198px,#0c0a23 200px,#0a081f 202px,#09071a 204px,#060515 206px,#050410 208px,#04030d 210px,#02020a 212px,#020108 214px,#010106 216px,#010005 218px,#000005 220px,#000004 224px,#000004 292px)"></div>
<div style="position:absolute;left:738px;top:653px;width:293px;height:2px;background:linear-gradient(90deg,#000004 0px,#000005 70px,#010005 78px,#010006 80px,#010106 84px,#010107 94px,#020108 98px,#020209 100px,#02020a 102px,#03030c 104px,#04030f 106px,#060413 108px,#070516 110px,#080618 112px,#09071c 114px,#0c0a22 116px,#0e0c27 118px,#100d2b 120px,#110e2e 122px,#141133 124px,#17133a 126px,#19153e 128px,#1a153f 130px,#1b1641 132px,#1d1846 134px,#20194b 136px,#201a4d 138px,#201a4c 140px,#211a4d 142px,#231c52 144px,#251d55 146px,#241d54 148px,#231c52 150px,#241c53 152px,#261e57 154px,#271e59 156px,#251d56 158px,#241d54 160px,#251d56 162px,#271e59 164px,#261e58 166px,#241d55 168px,#231c52 170px,#241d54 172px,#251d56 174px,#241c54 176px,#211b4f 178px,#201a4c 180px,#211a4d 182px,#201a4d 184px,#1e1848 186px,#1b1643 188px,#1a1540 190px,#19153f 192px,#18143b 194px,#141134 196px,#110e2e 198px,#0f0c29 200px,#0d0b25 202px,#0a081f 204px,#080618 206px,#060513 208px,#04040f 210px,#03020c 212px,#020209 214px,#010107 216px,#010106 218px,#000005 220px,#000004 224px,#000004 292px)"></div>
<div style="position:absolute;left:738px;top:655px;width:293px;height:2px;background:linear-gradient(90deg,#000004 0px,#000005 68px,#010006 78px,#010106 80px,#010107 90px,#010108 96px,#020209 98px,#02020a 100px,#03020c 102px,#04030e 104px,#050412 106px,#070616 108px,#080719 110px,#0a081d 112px,#0c0922 114px,#0f0c29 116px,#120f2f 118px,#131032 120px,#151135 122px,#18143b 124px,#1b1642 126px,#1d1746 128px,#1d1846 130px,#1e1848 132px,#211a4d 134px,#231c52 136px,#241c53 138px,#231c52 140px,#241c53 142px,#261e58 144px,#281f5a 146px,#271f59 148px,#261e57 150px,#261e58 152px,#291f5b 154px,#2a205c 156px,#281f5a 158px,#271e59 160px,#281f5a 162px,#2a205c 164px,#271f59 168px,#261e58 170px,#271e59 172px,#281f5a 174px,#271e59 176px,#241d54 178px,#231c52 180px,#241c53 182px,#211b4f 186px,#1e1949 188px,#1d1846 190px,#1d1745 192px,#1b1642 194px,#18143b 196px,#141134 198px,#120f30 200px,#100d2b 202px,#0d0b24 204px,#09081d 206px,#070617 208px,#050412 210px,#04030e 212px,#03020b 214px,#010108 216px,#010106 218px,#010005 220px,#000005 222px,#000004 224px,#000004 292px)"></div>
<div style="position:absolute;left:738px;top:657px;width:293px;height:2px;background:linear-gradient(90deg,#000004 0px,#000005 68px,#010005 76px,#010106 78px,#010107 88px,#010108 94px,#020109 96px,#02020a 98px,#03020c 100px,#04030e 102px,#050411 104px,#070515 106px,#08071a 108px,#0a081e 110px,#0c0a22 112px,#0f0c28 114px,#120f30 116px,#151236 118px,#17133a 120px,#18143d 122px,#1b1642 124px,#1f1949 126px,#201a4d 128px,#211a4d 130px,#211b4f 132px,#241c54 134px,#271e59 136px,#271f59 138px,#261e58 140px,#271e59 142px,#29205b 144px,#2c215e 146px,#2b205d 148px,#291f5b 150px,#2a205c 152px,#2c215e 154px,#2d215f 156px,#2b215d 158px,#2a205c 160px,#2b205d 162px,#2d215f 164px,#2a205c 168px,#291f5b 170px,#2a205c 172px,#2c215e 174px,#2a205c 176px,#271f59 178px,#261e58 180px,#271e59 182px,#241d55 186px,#211b4f 188px,#201a4c 190px,#1e1949 194px,#1b1642 196px,#18143b 198px,#151236 200px,#131032 202px,#100d2b 204px,#0c0922 206px,#09071a 208px,#070515 210px,#050410 212px,#03020c 214px,#020209 216px,#010107 218px,#010106 220px,#000005 222px,#000004 226px,#000004 292px)"></div>
<div style="position:absolute;left:738px;top:659px;width:293px;height:2px;background:linear-gradient(90deg,#000004 0px,#000005 66px,#010005 74px,#010106 76px,#010107 84px,#010108 90px,#020108 94px,#02020a 96px,#03020c 98px,#04030e 100px,#050410 102px,#060514 104px,#080619 106px,#0a081f 108px,#0d0a24 110px,#0f0c29 112px,#120f2f 114px,#161237 116px,#19153e 118px,#1b1641 120px,#1c1744 122px,#1f194a 124px,#221b51 126px,#241d54 128px,#251d55 132px,#271f59 134px,#2b205d 136px,#2a205c 140px,#2d215f 144px,#2f2261 146px,#2e2260 148px,#2c215e 150px,#2d215f 152px,#302362 154px,#312363 156px,#2f2261 158px,#2d215f 160px,#2e2260 162px,#302362 164px,#2d225f 168px,#2c215e 170px,#2d215f 172px,#2f2261 174px,#2d225f 176px,#2a205c 178px,#291f5b 180px,#2a205c 182px,#281f5a 186px,#241d55 188px,#231c52 190px,#221b4f 194px,#1e1848 196px,#1b1641 198px,#19143d 200px,#161339 202px,#131031 204px,#0e0c27 206px,#0a081f 208px,#080619 210px,#060513 212px,#04030e 214px,#02020a 216px,#010108 218px,#010106 220px,#010005 222px,#000005 224px,#000004 226px,#000004 292px)"></div>
<div style="position:absolute;left:738px;top:661px;width:293px;height:2px;background:linear-gradient(90deg,#000004 0px,#000005 66px,#010005 72px,#010006 74px,#010106 76px,#010107 80px,#010108 88px,#020108 90px,#020109 92px,#020209 94px,#03020b 96px,#04030d 98px,#050410 100px,#060513 102px,#080618 104px,#0a081e 106px,#0d0b25 108px,#100d2b 110px,#120f30 112px,#151237 114px,#1a153f 116px,#1d1746 118px,#1e1949 120px,#20194b 122px,#221b51 124px,#261e58 126px,#281f5a 128px,#2b215d 134px,#2f2261 136px,#2d215f 140px,#2e2260 142px,#312363 144px,#332465 146px,#312363 148px,#2f2261 150px,#302362 152px,#332465 154px,#342566 156px,#322464 158px,#302362 160px,#312363 162px,#342466 164px,#332465 166px,#312363 168px,#2f2261 170px,#312363 172px,#322464 174px,#312363 176px,#2d215f 178px,#2c215e 180px,#2d225f 182px,#2e2260 184px,#2b205d 186px,#271f59 188px,#261e58 190px,#251d56 194px,#211b4f 196px,#1e1848 198px,#1c1743 200px,#1a153f 202px,#161238 204px,#110e2d 206px,#0d0a24 208px,#09081c 210px,#070616 212px,#050410 214px,#03020c 216px,#020109 218px,#010107 220px,#010106 222px,#000005 224px,#000004 228px,#000004 292px)"></div>
<div style="position:absolute;left:738px;top:663px;width:293px;height:2px;background:linear-gradient(90deg,#000004 0px,#000005 64px,#010005 70px,#010006 72px,#010106 74px,#010107 78px,#010108 86px,#020108 88px,#020109 90px,#020209 92px,#02020a 94px,#03030c 96px,#04030f 98px,#060513 100px,#070617 102px,#09071c 104px,#0c0a23 106px,#100d2c 108px,#131032 110px,#161237 112px,#19153e 114px,#1d1847 116px,#211a4e 118px,#221b50 120px,#231c52 122px,#261e58 124px,#2a205c 126px,#2c215e 128px,#2f2261 134px,#332465 136px,#312363 140px,#342566 144px,#362668 146px,#352567 148px,#332465 150px,#362668 154px,#372669 156px,#352567 158px,#332465 160px,#342566 162px,#372669 164px,#342466 168px,#322464 170px,#342466 172px,#362568 174px,#342566 176px,#312363 178px,#2f2261 180px,#312363 182px,#2e2260 186px,#2b205d 188px,#29205b 190px,#2a205c 192px,#281f5a 194px,#241d55 196px,#211a4d 198px,#1f194a 200px,#1d1846 202px,#19153e 204px,#141033 206px,#0f0c29 208px,#0b0921 210px,#08071a 212px,#060513 214px,#04030d 216px,#02020a 218px,#010108 220px,#010106 222px,#000005 224px,#000004 228px,#000004 292px)"></div>
<div style="position:absolute;left:738px;top:665px;width:293px;height:2px;background:linear-gradient(90deg,#000004 0px,#000005 62px,#010006 70px,#010106 72px,#010107 76px,#010108 82px,#020108 84px,#020209 88px,#02020a 90px,#03020c 94px,#04030e 96px,#050412 98px,#070616 100px,#09071a 102px,#0b0921 104px,#0f0d2a 106px,#141033 108px,#17133a 110px,#19153f 112px,#1d1745 114px,#211b4f 116px,#251d55 118px,#261e57 120px,#271e59 122px,#2a205c 124px,#2f2261 126px,#312363 128px,#302362 130px,#332465 134px,#372669 136px,#352567 140px,#38266a 144px,#3b276b 146px,#39266a 148px,#362668 150px,#372669 152px,#3b276b 154px,#3c276b 156px,#39266a 158px,#362668 160px,#382669 162px,#3b276b 164px,#372669 168px,#352567 170px,#372669 172px,#39266a 174px,#372669 176px,#342466 178px,#322464 180px,#342566 182px,#352567 184px,#322364 186px,#2e2260 188px,#2d215f 190px,#2c215e 194px,#271f59 196px,#241c53 198px,#221b4f 200px,#201a4c 202px,#1c1744 204px,#171339 206px,#120f2e 208px,#0e0b26 210px,#0a081d 212px,#070515 214px,#04030f 216px,#03020b 218px,#020108 220px,#010107 222px,#010006 224px,#000005 226px,#000004 230px,#000004 292px)"></div>
<div style="position:absolute;left:738px;top:667px;width:293px;height:2px;background:linear-gradient(90deg,#000004 0px,#000005 62px,#010005 68px,#010106 70px,#010107 76px,#020108 80px,#020109 84px,#020209 86px,#02020a 88px,#03020b 90px,#03020c 92px,#04030d 94px,#050410 96px,#060515 98px,#08071a 100px,#0a081f 102px,#0e0b26 104px,#130f31 106px,#17133b 108px,#1b1641 110px,#1d1746 112px,#201a4d 114px,#251d56 116px,#291f5b 118px,#2a205c 120px,#2b205d 122px,#2e2260 124px,#332465 126px,#352567 128px,#342566 130px,#372669 134px,#3b276b 136px,#39266a 140px,#3d276c 144px,#3f286d 146px,#3e276c 148px,#3a276b 150px,#3b276b 152px,#3f286d 154px,#40286e 156px,#3d276c 158px,#3b276b 160px,#3c276c 162px,#40286d 164px,#3f286d 166px,#3c276b 168px,#39266a 170px,#3b276b 172px,#3e276c 174px,#3c276b 176px,#372669 178px,#362568 180px,#372669 182px,#38266a 184px,#352567 186px,#312363 188px,#302362 190px,#312363 192px,#2f2261 194px,#2b205d 196px,#261e58 198px,#241d55 200px,#231c52 202px,#1f194a 204px,#19153f 206px,#141134 208px,#100d2b 210px,#0c0922 212px,#080618 214px,#050411 216px,#03030c 218px,#020209 220px,#010107 222px,#010106 224px,#000005 226px,#000004 230px,#000004 292px)"></div>
<div style="position:absolute;left:738px;top:669px;width:293px;height:2px;background:linear-gradient(90deg,#000004 0px,#000005 60px,#010006 68px,#010106 70px,#010107 74px,#020108 78px,#020109 80px,#020209 84px,#02020a 86px,#03020b 88px,#03020c 90px,#03030d 92px,#04030f 94px,#060513 96px,#080618 98px,#0a081e 100px,#0d0b24 102px,#110e2d 104px,#161238 106px,#1b1642 108px,#1e1849 110px,#211a4d 112px,#241d54 114px,#29205b 116px,#2e2260 118px,#2f2261 122px,#332465 124px,#372669 126px,#3a276a 128px,#38266a 130px,#3c276c 134px,#41286e 136px,#40286e 138px,#3e276c 140px,#42286e 144px,#452970 146px,#43286f 148px,#3f286d 150px,#40286e 152px,#442970 154px,#452970 156px,#42286f 158px,#3f286d 160px,#41286e 162px,#452970 164px,#442970 166px,#40286e 168px,#3e276c 170px,#40286e 172px,#42286f 174px,#40286e 176px,#3b276b 178px,#3a276a 180px,#3c276b 182px,#3c276c 184px,#39266a 186px,#342566 188px,#332465 190px,#342566 192px,#332465 194px,#2e2260 196px,#29205b 198px,#271f59 200px,#261e58 202px,#221b50 204px,#1c1744 206px,#171339 208px,#120f30 210px,#0e0b26 212px,#09071c 214px,#060513 216px,#04030e 218px,#03020b 220px,#020108 222px,#010106 224px,#010005 226px,#000005 228px,#000004 232px,#000004 292px)"></div>
<div style="position:absolute;left:738px;top:671px;width:293px;height:2px;background:linear-gradient(90deg,#000004 0px,#000005 60px,#010005 66px,#010106 68px,#010107 72px,#010108 76px,#020109 78px,#020209 80px,#02020a 82px,#03020b 86px,#03020c 88px,#04030d 90px,#04030f 92px,#050411 94px,#070516 96px,#09071c 98px,#0c0a23 100px,#100d2a 102px,#141133 104px,#1a153f 106px,#1f194a 108px,#221b50 110px,#241d54 112px,#281f5a 114px,#2e2260 116px,#322464 118px,#332465 120px,#372669 124px,#3d276c 126px,#3f286d 128px,#3d276c 130px,#41286e 134px,#462971 136px,#462970 138px,#43286f 140px,#472971 144px,#4a2a73 146px,#482972 148px,#452970 150px,#4a2a72 154px,#4b2a73 156px,#482971 158px,#442970 160px,#462971 162px,#4a2a73 164px,#4a2a72 166px,#452970 168px,#43286f 170px,#452970 172px,#482971 174px,#452970 176px,#40286e 178px,#3e276d 180px,#40286e 182px,#41286e 184px,#3d276c 186px,#382669 188px,#362668 190px,#372669 192px,#362568 194px,#312363 196px,#2c215e 198px,#2b205d 200px,#291f5b 202px,#251d55 204px,#1f1949 206px,#19153e 208px,#151135 210px,#100d2b 212px,#0a081f 214px,#070616 216px,#050410 218px,#03020c 220px,#020209 222px,#010107 224px,#010106 226px,#000005 228px,#000004 232px,#000004 292px)"></div>
<div style="position:absolute;left:738px;top:673px;width:293px;height:2px;background:linear-gradient(90deg,#000004 0px,#000005 60px,#010005 66px,#010106 68px,#010107 70px,#010108 74px,#020108 76px,#020209 78px,#02020a 80px,#03020b 84px,#03020c 86px,#03030d 88px,#04030f 90px,#050411 92px,#060514 94px,#080619 96px,#0b0920 98px,#0f0c29 100px,#131031 102px,#17133a 104px,#1d1846 106px,#231c51 108px,#261e57 110px,#281f5a 112px,#2c215e 114px,#322464 116px,#372669 118px,#382669 122px,#3c276b 124px,#42286f 126px,#442970 128px,#43286f 130px,#472971 134px,#4c2a73 136px,#492a72 140px,#4e2a73 144px,#512974 146px,#4f2a73 148px,#4a2a73 150px,#4b2a73 152px,#502a74 154px,#522974 156px,#4e2a73 158px,#4a2a73 160px,#4c2a73 162px,#512974 164px,#502a74 166px,#4b2a73 168px,#482972 170px,#4b2a73 172px,#4e2a73 174px,#4b2a73 176px,#452970 178px,#43286f 180px,#452970 182px,#462970 184px,#41286e 186px,#3c276b 188px,#3a276b 190px,#3b276b 192px,#3a276a 194px,#342566 196px,#2f2261 198px,#2e2260 200px,#2c215e 202px,#281f5a 204px,#211b4e 206px,#1c1743 208px,#17133a 210px,#120f2f 212px,#0c0a23 214px,#080618 216px,#050412 218px,#04030d 220px,#02020a 222px,#010108 224px,#010106 226px,#000005 228px,#000004 234px,#000004 292px)"></div>
<div style="position:absolute;left:738px;top:675px;width:293px;height:2px;background:linear-gradient(90deg,#000004 0px,#000005 58px,#010005 64px,#010106 66px,#010107 70px,#010108 72px,#020108 74px,#020109 76px,#02020a 78px,#03020b 80px,#03020c 84px,#03030d 86px,#04030e 88px,#050410 90px,#060513 92px,#070616 94px,#09081c 96px,#0e0b26 98px,#120f2f 100px,#161237 102px,#1a1641 104px,#211a4d 106px,#261e58 108px,#2a205c 110px,#2c215e 112px,#302362 114px,#372669 116px,#3c276b 118px,#3c276c 120px,#3d276c 122px,#41286e 124px,#482971 126px,#4a2a73 128px,#482972 130px,#4d2a73 134px,#532974 136px,#4f2a74 140px,#552974 144px,#592975 146px,#562974 148px,#522974 150px,#532974 152px,#582975 154px,#5a2975 156px,#552974 158px,#512974 160px,#542974 162px,#592975 164px,#582975 166px,#522974 168px,#4f2a73 170px,#522974 172px,#552974 174px,#512974 176px,#4b2a73 178px,#482972 180px,#4a2a73 182px,#4b2a73 184px,#462971 186px,#40286e 188px,#3e276d 190px,#3f286d 192px,#3e276c 194px,#382669 196px,#322464 198px,#312363 200px,#2f2261 202px,#2b205d 204px,#241c53 206px,#1e1848 208px,#19153f 210px,#141134 212px,#0e0b27 214px,#09071b 216px,#060514 218px,#04030f 220px,#03020b 222px,#020108 224px,#010106 226px,#010006 228px,#000005 230px,#000004 234px,#000004 292px)"></div>
<div style="position:absolute;left:738px;top:677px;width:293px;height:2px;background:linear-gradient(90deg,#000004 0px,#000005 58px,#010005 64px,#010106 66px,#010107 68px,#020108 72px,#020109 74px,#020209 76px,#03020b 78px,#03020c 82px,#03030d 84px,#04030e 86px,#050410 88px,#060412 90px,#070515 92px,#080719 94px,#0b0921 96px,#100d2b 98px,#151135 100px,#19153e 102px,#1e1847 104px,#241d54 106px,#2b205d 108px,#2e2260 110px,#302362 112px,#352567 114px,#3c276b 116px,#41286e 118px,#42286e 120px,#472971 124px,#4e2a73 126px,#512974 128px,#4f2a74 130px,#552974 134px,#5b2975 136px,#572975 140px,#5d2875 144px,#622876 146px,#5f2876 148px,#5a2975 150px,#5b2975 152px,#602876 154px,#622876 156px,#5e2875 158px,#592975 160px,#5c2975 162px,#612876 164px,#602876 166px,#5a2975 168px,#562974 170px,#592975 172px,#5c2875 174px,#592975 176px,#512974 178px,#4e2a73 180px,#512a74 182px,#512974 184px,#4b2a73 186px,#452970 188px,#43286f 190px,#44296f 192px,#42286e 194px,#3b276b 196px,#352567 198px,#332465 200px,#322464 202px,#2d215f 204px,#261e58 206px,#201a4c 208px,#1b1643 210px,#161238 212px,#100d2a 214px,#0a081e 216px,#070516 218px,#050410 220px,#03020c 222px,#020209 224px,#010107 226px,#010106 228px,#000005 230px,#000004 234px,#000004 292px)"></div>
<div style="position:absolute;left:738px;top:679px;width:293px;height:2px;background:linear-gradient(90deg,#000004 0px,#000005 58px,#010005 62px,#010106 64px,#010107 68px,#010108 70px,#020109 72px,#020209 74px,#02020a 76px,#03020b 78px,#03030c 80px,#03030d 82px,#04030e 84px,#04040f 86px,#050412 88px,#060515 90px,#080618 92px,#09081d 94px,#0e0b26 96px,#131031 98px,#18143c 100px,#1c1744 102px,#211a4e 104px,#281f5a 106px,#2f2261 108px,#322464 110px,#342566 112px,#39266a 114px,#41286e 116px,#462971 118px,#472971 120px,#4d2a73 124px,#552974 126px,#592975 128px,#572975 130px,#562974 132px,#5d2875 134px,#642876 136px,#602876 140px,#672876 144px,#6b2775 146px,#682876 148px,#622876 150px,#642876 152px,#6a2775 154px,#6c2775 156px,#672876 158px,#622876 160px,#652876 162px,#6a2775 164px,#632876 168px,#5f2876 170px,#612876 172px,#652876 174px,#612876 176px,#592975 178px,#552974 180px,#582975 182px,#522974 186px,#4a2a72 188px,#472971 190px,#482972 192px,#462971 194px,#3f286d 196px,#39266a 198px,#362668 200px,#352567 202px,#302362 204px,#281f5a 206px,#221b50 208px,#1d1847 210px,#18143c 212px,#110e2e 214px,#0b0920 216px,#080618 218px,#050412 220px,#04030d 222px,#02020a 224px,#010107 226px,#010106 228px,#010005 230px,#000005 232px,#000004 236px,#000004 292px)"></div>
<div style="position:absolute;left:738px;top:681px;width:293px;height:2px;background:linear-gradient(90deg,#000004 0px,#000005 56px,#010005 62px,#010106 64px,#010107 68px,#020108 70px,#020209 72px,#02020a 74px,#03020b 76px,#03030c 78px,#04030d 80px,#04030e 82px,#04030f 84px,#050411 86px,#060514 88px,#070617 90px,#09071b 92px,#0b0921 94px,#100d2b 96px,#161237 98px,#1b1642 100px,#1f194a 102px,#241d54 104px,#2c215e 106px,#332465 108px,#362668 110px,#38266a 112px,#3e276c 114px,#462971 116px,#4c2a73 118px,#4d2a73 120px,#542974 124px,#5d2875 126px,#612876 128px,#5f2876 130px,#662876 134px,#6e2775 136px,#692775 140px,#712775 144px,#762674 146px,#722775 148px,#6c2775 150px,#6e2775 152px,#742674 154px,#772674 156px,#712775 158px,#6c2775 160px,#6f2775 162px,#752674 164px,#742775 166px,#6c2775 168px,#682876 170px,#6b2775 172px,#6e2775 174px,#6a2775 176px,#612876 178px,#5d2875 180px,#5f2876 182px,#582975 186px,#502a74 188px,#4d2a73 190px,#4e2a73 192px,#4b2a73 194px,#43286f 196px,#3c276c 198px,#3a276a 200px,#38266a 202px,#332465 204px,#2b205d 206px,#241d54 208px,#1f194b 210px,#1a1540 212px,#131032 214px,#0c0a23 216px,#08071a 218px,#060513 220px,#04030e 222px,#03020b 224px,#020108 226px,#010107 228px,#010106 230px,#000005 232px,#000004 236px,#000004 292px)"></div>
<div style="position:absolute;left:738px;top:683px;width:293px;height:2px;background:linear-gradient(90deg,#000004 0px,#000005 56px,#010106 62px,#010107 66px,#010108 68px,#020109 70px,#02020a 72px,#03020b 74px,#03020c 76px,#04030d 78px,#04030f 80px,#04040f 82px,#050411 84px,#060513 86px,#070616 88px,#08071a 90px,#0a081e 92px,#0d0b25 94px,#120f30 96px,#18143d 98px,#1e1848 100px,#221b50 102px,#271f59 104px,#302262 106px,#372669 108px,#3b276b 110px,#3d276c 112px,#43286f 114px,#4c2a73 116px,#532974 118px,#542974 120px,#5b2975 124px,#652876 126px,#6a2775 128px,#672876 130px,#682876 132px,#702775 134px,#782674 136px,#732775 140px,#742775 142px,#7b2673 144px,#812772 146px,#7d2673 148px,#772674 150px,#782674 152px,#7f2672 154px,#822771 156px,#7c2673 158px,#762674 160px,#792674 162px,#802672 164px,#7f2672 166px,#772674 168px,#722775 170px,#752674 172px,#792674 174px,#742775 176px,#6a2775 178px,#652876 180px,#682876 182px,#602876 186px,#562974 188px,#532974 190px,#542974 192px,#502a74 194px,#482971 196px,#40286e 198px,#3d276c 200px,#3c276b 202px,#362568 204px,#2e2260 206px,#261e58 208px,#211b4e 210px,#1c1744 212px,#151135 214px,#0e0b26 216px,#09071c 218px,#070515 220px,#040410 222px,#03020b 224px,#020109 226px,#010107 228px,#010106 230px,#000005 232px,#000004 236px,#000004 292px)"></div>
<div style="position:absolute;left:738px;top:685px;width:293px;height:2px;background:linear-gradient(90deg,#000004 0px,#000005 54px,#010005 60px,#010106 62px,#010107 66px,#020108 68px,#020209 70px,#02020a 72px,#03020b 74px,#03030d 76px,#04030e 78px,#050410 80px,#050411 82px,#050412 84px,#060515 86px,#080618 88px,#09081d 90px,#0c0a22 92px,#0f0d29 94px,#151135 96px,#1b1643 98px,#211a4d 100px,#251d56 102px,#2b205d 104px,#332465 106px,#3c276b 108px,#40286d 110px,#42286e 112px,#482971 114px,#522974 116px,#5a2975 118px,#5b2975 120px,#632876 124px,#6e2775 126px,#732775 128px,#712775 130px,#7a2674 134px,#832771 136px,#7e2673 140px,#7e2672 142px,#872770 144px,#8c286e 146px,#88276f 148px,#822771 150px,#832771 152px,#8b276e 154px,#8d286d 156px,#87276f 158px,#812771 160px,#842770 162px,#8b276e 164px,#8a276e 166px,#812771 168px,#7c2673 170px,#802672 172px,#832771 174px,#7e2673 176px,#732775 178px,#6f2775 180px,#712775 182px,#702775 184px,#682876 186px,#5d2875 188px,#592975 190px,#5a2975 192px,#562974 194px,#4c2a73 196px,#442970 198px,#41286e 200px,#3f286d 202px,#39266a 204px,#302362 206px,#281f5a 208px,#231c52 210px,#1e1847 212px,#161338 214px,#0f0c29 216px,#0a081e 218px,#070617 220px,#050411 222px,#03030c 224px,#020209 226px,#010107 228px,#010106 230px,#010005 232px,#000005 234px,#000004 238px,#000004 292px)"></div>
<div style="position:absolute;left:738px;top:687px;width:293px;height:2px;background:linear-gradient(90deg,#000004 0px,#000005 54px,#010006 60px,#010106 62px,#010107 64px,#010108 66px,#020109 68px,#02020a 70px,#03020b 72px,#03030c 74px,#04030e 76px,#04040f 78px,#050411 80px,#060412 82px,#060514 84px,#070617 86px,#09071b 88px,#0b0920 90px,#0e0b26 92px,#110e2e 94px,#17133a 96px,#1e1848 98px,#241c53 100px,#281f5a 102px,#2e2260 104px,#372669 106px,#40286e 108px,#442970 110px,#462971 112px,#4d2a73 114px,#592975 116px,#612876 118px,#622876 120px,#632876 122px,#6c2775 124px,#782674 126px,#7d2673 128px,#7b2674 130px,#842770 134px,#8e286d 136px,#89276f 140px,#8a276f 142px,#92286b 144px,#972b69 146px,#94296b 148px,#8e286d 150px,#8f286d 152px,#962a69 154px,#992b68 156px,#93296b 158px,#8d286d 160px,#90286c 162px,#962a69 164px,#952a6a 166px,#8d286d 168px,#87276f 170px,#8b276e 172px,#8e286d 174px,#88276f 176px,#7e2673 178px,#782674 180px,#7a2674 182px,#702775 186px,#652876 188px,#602876 190px,#5c2875 194px,#522974 196px,#482972 198px,#452970 200px,#43286f 202px,#3c276c 204px,#332465 206px,#2b205d 208px,#251d56 210px,#1f194b 212px,#18143c 214px,#100d2c 216px,#0b0920 218px,#080618 220px,#050412 222px,#04030d 224px,#02020a 226px,#010108 228px,#010107 230px,#010106 232px,#000005 234px,#000004 238px,#000004 292px)"></div>
<div style="position:absolute;left:738px;top:689px;width:293px;height:2px;background:linear-gradient(90deg,#000004 0px,#000005 52px,#010106 60px,#010107 64px,#020108 66px,#020209 68px,#03020b 70px,#03020c 72px,#03030d 74px,#04030f 76px,#050411 78px,#060413 80px,#060514 82px,#070516 84px,#080619 86px,#0a081e 88px,#0d0a24 90px,#0f0d2a 92px,#131032 94px,#19153f 96px,#211a4d 98px,#261e58 100px,#2b205d 102px,#312363 104px,#3b276b 106px,#452970 108px,#492a72 110px,#4b2a73 112px,#532974 114px,#5f2876 116px,#682775 118px,#6a2775 120px,#6b2775 122px,#752674 124px,#812771 126px,#872770 128px,#852770 130px,#862770 132px,#8f286d 134px,#992b68 136px,#94296a 140px,#952a6a 142px,#9d2d66 144px,#a32f63 146px,#9f2e65 148px,#992b68 150px,#9a2c67 152px,#a22f64 154px,#a43063 156px,#9e2d66 158px,#982b69 160px,#9b2c67 162px,#a12f64 164px,#a02e64 166px,#982b69 168px,#92296b 170px,#952a6a 172px,#992b68 174px,#93296b 176px,#88276f 178px,#822771 180px,#842771 182px,#832771 184px,#792674 186px,#6d2775 188px,#672876 190px,#632876 194px,#572975 196px,#4d2a73 198px,#492a72 200px,#472971 202px,#40286d 204px,#352567 206px,#2d215f 208px,#271e59 210px,#211a4e 212px,#19153e 214px,#120e2e 216px,#0c0922 218px,#08071a 220px,#060513 222px,#04030e 224px,#02020a 226px,#020108 228px,#010107 230px,#010106 232px,#000005 234px,#000004 238px,#000004 292px)"></div>
<div style="position:absolute;left:738px;top:691px;width:293px;height:2px;background:linear-gradient(90deg,#000004 0px,#000005 52px,#010005 58px,#010106 60px,#010107 62px,#020108 66px,#02020a 68px,#03020b 70px,#03030d 72px,#04030e 74px,#050410 76px,#050412 78px,#060514 80px,#070516 82px,#070617 84px,#09071b 86px,#0b0921 88px,#0e0c27 90px,#110e2e 92px,#151237 94px,#1c1744 96px,#231c52 98px,#29205b 100px,#2e2260 102px,#352567 104px,#3f286d 106px,#492a72 108px,#4e2a73 110px,#512a74 112px,#592975 114px,#662876 116px,#702775 118px,#722775 120px,#742775 122px,#7e2673 124px,#8b276e 126px,#91286c 128px,#8f286d 130px,#90286c 132px,#9a2b68 134px,#a32f63 136px,#a43063 138px,#9f2e65 140px,#a02e65 142px,#a83261 144px,#ae365e 146px,#aa3360 148px,#a42f63 150px,#a53062 152px,#ad355f 154px,#b0365e 156px,#a93260 158px,#a32f63 160px,#a63162 162px,#ad355f 164px,#ac345f 166px,#a32f63 168px,#9d2d66 170px,#a02e65 172px,#a32f63 174px,#9d2d66 176px,#92286b 178px,#8c286e 180px,#8e286d 182px,#8d286d 184px,#822771 186px,#752674 188px,#6f2775 190px,#6a2775 194px,#5d2875 196px,#522974 198px,#4d2a73 200px,#4b2a73 202px,#43286f 204px,#382669 206px,#2f2261 208px,#291f5b 210px,#231c51 212px,#1b1641 214px,#130f31 216px,#0d0a24 218px,#09071b 220px,#060515 222px,#04030f 224px,#03020b 226px,#020109 228px,#010107 230px,#010106 232px,#010005 234px,#000005 236px,#000004 240px,#000004 292px)"></div>
<div style="position:absolute;left:738px;top:693px;width:293px;height:2px;background:linear-gradient(90deg,#000004 0px,#000005 52px,#010006 58px,#010106 60px,#010107 62px,#010108 64px,#020109 66px,#02020a 68px,#03020c 70px,#04030e 72px,#04030f 74px,#050411 76px,#060513 78px,#070516 80px,#070617 82px,#080719 84px,#0a081d 86px,#0d0a24 88px,#100d2b 90px,#131032 92px,#18143b 94px,#1e1848 96px,#261e57 98px,#2c215e 100px,#312363 102px,#382669 104px,#43286f 106px,#4e2a73 108px,#532974 110px,#562974 112px,#5f2876 114px,#6d2775 116px,#782674 118px,#7a2674 120px,#7c2673 122px,#872770 124px,#95296a 126px,#9a2c67 128px,#992b68 130px,#9a2c68 132px,#a43063 134px,#ae365e 136px,#af365e 138px,#aa3360 140px,#ab3360 142px,#b4395c 144px,#bb3d59 146px,#b63a5b 148px,#af365e 150px,#b1375d 152px,#b93c5a 154px,#bc3e58 156px,#b53a5c 158px,#ae365e 160px,#b2385d 162px,#b93c5a 164px,#b73b5b 166px,#ae355f 168px,#a83261 170px,#ab3360 172px,#ae355e 174px,#a83261 176px,#9c2c67 178px,#962a6a 180px,#972b69 182px,#962a6a 184px,#8b276e 186px,#7d2673 188px,#772674 190px,#762674 192px,#712775 194px,#632876 196px,#572975 198px,#522974 200px,#4f2a74 202px,#472971 204px,#3b276b 206px,#312363 208px,#2b205d 210px,#241d54 212px,#1c1744 214px,#141033 216px,#0e0b26 218px,#09081d 220px,#070516 222px,#050410 224px,#03020c 226px,#020209 228px,#010108 230px,#010106 232px,#010005 234px,#000005 236px,#000004 240px,#000004 292px)"></div>
<div style="position:absolute;left:738px;top:695px;width:293px;height:2px;background:linear-gradient(90deg,#000004 0px,#000005 50px,#010106 58px,#010107 62px,#020108 64px,#020209 66px,#03020b 68px,#03030d 70px,#04030f 72px,#050410 74px,#050412 76px,#060515 78px,#070617 80px,#080719 82px,#09071b 84px,#0b0920 86px,#0e0c27 88px,#120f2f 90px,#151236 92px,#19153f 94px,#201a4c 96px,#281f5a 98px,#2f2261 100px,#342566 102px,#3c276b 104px,#472971 106px,#532974 108px,#592975 110px,#5c2975 112px,#652876 114px,#752674 116px,#802672 118px,#822771 120px,#852770 122px,#90286c 124px,#9d2d66 126px,#a43063 128px,#a22f63 130px,#a42f63 132px,#ae365e 134px,#ba3c5a 136px,#bb3d59 138px,#b53a5b 140px,#b63a5b 142px,#c04256 144px,#c74753 146px,#c34355 148px,#bb3e59 150px,#bd3f58 152px,#c64653 154px,#c94852 156px,#c14256 158px,#ba3d59 160px,#be3f58 162px,#c54554 164px,#c44455 166px,#b93c5a 168px,#b3385d 170px,#b63a5b 172px,#b93c5a 174px,#b2385d 176px,#a63062 178px,#9f2e65 180px,#a12e64 182px,#9f2e65 184px,#94296b 186px,#862770 188px,#7f2672 190px,#7e2673 192px,#782674 194px,#692775 196px,#5c2875 198px,#572975 200px,#532974 202px,#4a2a73 204px,#3e276c 206px,#342466 208px,#2d215f 210px,#261e58 212px,#1d1847 214px,#151135 216px,#0f0c28 218px,#0a081e 220px,#070617 222px,#050411 224px,#03030c 226px,#02020a 228px,#020108 230px,#010107 232px,#010106 234px,#000005 236px,#000004 240px,#000004 292px)"></div>
<div style="position:absolute;left:738px;top:697px;width:293px;height:2px;background:linear-gradient(90deg,#000004 0px,#000005 50px,#010005 56px,#010106 58px,#010107 60px,#010108 62px,#020109 64px,#02020a 66px,#03020c 68px,#04030e 70px,#04040f 72px,#050411 74px,#060513 76px,#070616 78px,#080619 80px,#09071b 82px,#0a081e 84px,#0c0a23 86px,#100d2a 88px,#131032 90px,#17133a 92px,#1b1643 94px,#221b51 96px,#2b205d 98px,#322464 100px,#372669 102px,#3f286d 104px,#4b2a73 106px,#582975 108px,#5e2875 110px,#612876 112px,#6c2775 114px,#7c2673 116px,#87276f 118px,#8a276e 120px,#8d286d 122px,#982b68 124px,#a73161 126px,#ad355f 128px,#ac345f 130px,#ae355f 132px,#b93c5a 134px,#c54554 136px,#c64653 138px,#c14256 140px,#c24355 142px,#cd4b50 144px,#d3514c 146px,#cf4d4e 148px,#c84753 150px,#c94852 152px,#d14f4c 154px,#d4524b 156px,#cd4b50 158px,#c64653 160px,#ca4952 162px,#d04e4d 164px,#cf4d4e 166px,#c54554 168px,#be3f58 170px,#c14256 172px,#c44554 174px,#bd3f58 176px,#af365e 178px,#a93261 180px,#aa3360 182px,#a83261 184px,#9c2c66 186px,#8e286d 188px,#872770 190px,#862770 192px,#7f2672 194px,#702775 196px,#622876 198px,#5c2975 200px,#582975 202px,#4e2a73 204px,#41286e 206px,#362568 208px,#2f2261 210px,#281f5a 212px,#1f194a 214px,#161238 216px,#0f0d2a 218px,#0b0920 220px,#080618 222px,#050412 224px,#03030d 226px,#02020a 228px,#020108 230px,#010107 232px,#010106 234px,#000005 236px,#000004 240px,#000004 292px)"></div>
<div style="position:absolute;left:738px;top:699px;width:293px;height:2px;background:linear-gradient(90deg,#000004 0px,#000005 50px,#010006 56px,#010106 58px,#010107 60px,#020108 62px,#020209 64px,#02020a 66px,#03030c 68px,#04030f 70px,#050410 72px,#050412 74px,#060515 76px,#080618 78px,#09071b 80px,#0a081d 82px,#0b0920 84px,#0e0b26 86px,#110e2e 88px,#151236 90px,#19143d 92px,#1d1846 94px,#241d55 96px,#2e2260 98px,#352567 100px,#3a276b 102px,#42286f 104px,#502a74 106px,#5d2875 108px,#632876 110px,#672876 112px,#722775 114px,#832771 116px,#8f286d 118px,#92286b 120px,#952a6a 122px,#a02e64 124px,#b0365e 126px,#b73b5b 128px,#b63a5b 130px,#b83b5a 132px,#c44454 134px,#d04e4e 136px,#d14f4d 138px,#cd4b50 140px,#ce4c4f 142px,#d65448 144px,#dc5a44 146px,#d95747 148px,#d2504c 150px,#d4524b 152px,#db5945 154px,#de5c43 156px,#d75548 158px,#d14f4d 160px,#d4524b 162px,#da5846 164px,#d85647 166px,#d04e4e 168px,#c94852 170px,#cc4a50 172px,#cf4d4e 174px,#c84753 176px,#b93c5a 178px,#b2385d 180px,#b3385c 182px,#b1375d 184px,#a43062 186px,#962a6a 188px,#8f286d 190px,#8d286d 192px,#862770 194px,#762674 196px,#672876 198px,#612876 200px,#5c2875 202px,#522974 204px,#44296f 206px,#38266a 208px,#312363 210px,#2a205c 212px,#201a4c 214px,#17133a 216px,#100d2c 218px,#0c0921 220px,#080619 222px,#060412 224px,#04030e 226px,#03020b 228px,#020109 230px,#010107 232px,#010106 234px,#000005 236px,#000004 242px,#000004 292px)"></div>
<div style="position:absolute;left:738px;top:701px;width:293px;height:2px;background:linear-gradient(90deg,#000004 0px,#000005 48px,#010106 56px,#010107 60px,#020108 62px,#020209 64px,#03020b 66px,#03030d 68px,#04040f 70px,#050412 72px,#060513 74px,#070616 76px,#080719 78px,#09081d 80px,#0b081f 82px,#0c0a22 84px,#0f0c28 86px,#131031 88px,#171339 90px,#1a1641 92px,#1f194a 94px,#261e58 96px,#302362 98px,#382669 100px,#3e276c 102px,#462970 104px,#542974 106px,#622876 108px,#692775 110px,#6d2775 112px,#782674 114px,#8a276e 116px,#962a69 118px,#992b68 120px,#9c2d66 122px,#a83261 124px,#b93c5a 126px,#c14256 128px,#c04157 130px,#c24356 132px,#ce4c4f 134px,#d95747 136px,#da5845 138px,#d65449 140px,#d75548 142px,#e05e40 144px,#e6653b 146px,#e2613e 148px,#dc5a44 150px,#dd5c43 152px,#e5633c 154px,#e7663a 156px,#e05f40 158px,#da5845 160px,#dd5b43 162px,#e3613e 164px,#e1603f 166px,#d85647 168px,#d2504c 170px,#d5534a 172px,#d85648 174px,#d14f4d 176px,#c34455 178px,#bb3e59 180px,#bc3e58 182px,#ba3d5a 184px,#ac345f 186px,#9d2d66 188px,#962a6a 190px,#94296a 192px,#8d286e 194px,#7c2673 196px,#6d2775 198px,#662876 200px,#612876 202px,#562974 204px,#472971 206px,#3b276b 208px,#332465 210px,#2b215d 212px,#211b4f 214px,#18143c 216px,#110e2e 218px,#0c0a23 220px,#09071a 222px,#060513 224px,#04030e 226px,#03020b 228px,#020209 230px,#010107 232px,#010106 234px,#010005 236px,#000005 238px,#000004 242px,#000004 292px)"></div>
<div style="position:absolute;left:738px;top:703px;width:293px;height:2px;background:linear-gradient(90deg,#000004 0px,#000005 48px,#010005 54px,#010106 56px,#010107 58px,#010108 60px,#020109 62px,#02020a 64px,#03020b 66px,#04030e 68px,#050410 70px,#060413 72px,#060515 74px,#070617 76px,#09071b 78px,#0a081e 80px,#0c0921 82px,#0d0b25 84px,#100d2b 86px,#141134 88px,#18143d 90px,#1c1744 92px,#211a4d 94px,#291f5b 96px,#332465 98px,#3b276b 100px,#41286e 102px,#492a72 104px,#582975 106px,#662876 108px,#6e2775 110px,#722775 112px,#7e2672 114px,#91286c 116px,#9d2d66 118px,#a02e64 120px,#a42f63 122px,#b0375d 124px,#c24256 126px,#ca4951 128px,#c94852 130px,#cc4a51 132px,#d75548 134px,#e1603f 136px,#e3613e 138px,#df5d42 140px,#e05e40 142px,#e96838 144px,#ed7033 146px,#eb6b36 148px,#e5643b 150px,#e7653a 152px,#ec6e34 154px,#ee7132 156px,#e96838 158px,#e3613e 160px,#e6643b 162px,#eb6b36 164px,#ea6937 166px,#e15f40 168px,#da5845 170px,#dd5b43 172px,#e05e41 174px,#d95746 176px,#cd4b50 178px,#c44554 180px,#c54554 182px,#c24355 184px,#b4395c 186px,#a43062 188px,#9d2d66 190px,#9b2c67 192px,#93296b 194px,#822771 196px,#722775 198px,#6b2775 200px,#652876 202px,#5a2975 204px,#4a2a72 206px,#3d276c 208px,#352567 210px,#2d215f 212px,#231c52 214px,#19153f 216px,#120f2f 218px,#0d0b24 220px,#09071b 222px,#060514 224px,#04030f 226px,#03020b 228px,#020209 230px,#010108 232px,#010106 234px,#010005 236px,#000005 238px,#000004 242px,#000004 292px)"></div>
<div style="position:absolute;left:738px;top:705px;width:293px;height:2px;background:linear-gradient(90deg,#000004 0px,#000005 46px,#010006 54px,#010106 56px,#010107 58px,#010108 60px,#020209 62px,#02020a 64px,#03020c 66px,#04030f 68px,#050411 70px,#060514 72px,#070516 74px,#080619 76px,#09081d 78px,#0b0921 80px,#0d0a24 82px,#0e0c27 84px,#110e2e 86px,#161237 88px,#1a1540 90px,#1d1847 92px,#221b51 94px,#2b205d 96px,#352567 98px,#3e276c 100px,#43286f 102px,#4c2a73 104px,#5c2975 106px,#6b2775 108px,#732775 110px,#782674 112px,#842770 114px,#962a69 116px,#a32f63 118px,#a73161 120px,#ab3360 122px,#b83b5a 124px,#ca4951 126px,#d2504c 128px,#d14f4d 130px,#d4524b 132px,#df5d42 134px,#ea6937 136px,#eb6b36 138px,#e7663a 140px,#e96838 142px,#ef7330 144px,#f27c2c 146px,#f1772e 148px,#ed6e33 150px,#ed7032 152px,#f27a2c 154px,#f37d2b 156px,#ef7330 158px,#eb6b36 160px,#ec6e34 162px,#f0762f 164px,#ef7330 166px,#e96738 168px,#e2613e 170px,#e5633c 172px,#e7663a 174px,#e05f40 176px,#d4524a 178px,#cd4b50 180px,#ce4c4f 182px,#cb4951 184px,#bc3e58 186px,#ab3460 188px,#a32f63 190px,#a12e64 192px,#992b68 194px,#88276f 196px,#772674 198px,#6f2775 200px,#6a2775 202px,#5e2875 204px,#4d2a73 206px,#40286d 208px,#372669 210px,#2f2261 212px,#241d54 214px,#1a1641 216px,#131031 218px,#0e0b26 220px,#09071c 222px,#060515 224px,#04030f 226px,#03020c 228px,#02020a 230px,#010108 232px,#010106 234px,#010006 236px,#000005 238px,#000004 242px,#000004 292px)"></div>
<div style="position:absolute;left:738px;top:707px;width:293px;height:2px;background:linear-gradient(90deg,#000004 0px,#000005 46px,#010005 52px,#010106 54px,#010107 58px,#020108 60px,#020209 62px,#03020b 64px,#03030d 66px,#04030f 68px,#050412 70px,#060515 72px,#070617 74px,#08071a 76px,#0a081e 78px,#0c0a23 80px,#0e0b26 82px,#0f0d29 84px,#120f30 86px,#17133a 88px,#1b1642 90px,#1f194a 92px,#241c54 94px,#2d215f 96px,#372669 98px,#40286e 100px,#462971 102px,#502a74 104px,#602876 106px,#702775 108px,#782674 110px,#7d2673 112px,#8a276f 114px,#9c2c66 116px,#a93360 118px,#ad355f 120px,#b1375d 122px,#c04157 124px,#d14f4d 126px,#d95747 128px,#d85647 130px,#db5945 132px,#e6653b 134px,#ee7231 136px,#f0752f 138px,#ed7033 140px,#ee7231 142px,#f3802b 144px,#f58a29 146px,#f4842a 148px,#f27a2c 150px,#f27c2c 152px,#f58829 154px,#f58b29 156px,#f37f2b 158px,#f0752f 160px,#f1782d 162px,#f3812b 164px,#f37e2b 166px,#ee7132 168px,#e96838 170px,#eb6b36 172px,#ec6e34 174px,#e7663a 176px,#db5945 178px,#d4524b 180px,#d4524a 182px,#d2504c 184px,#c44455 186px,#b2385d 188px,#a93360 190px,#a73161 192px,#9e2d65 194px,#8e286d 196px,#7c2673 198px,#742775 200px,#6e2775 202px,#622876 204px,#502a74 206px,#42286f 208px,#3a276a 210px,#312363 212px,#251d57 214px,#1b1643 216px,#141033 218px,#0e0c27 220px,#0a081d 222px,#070515 224px,#040410 226px,#03030c 228px,#02020a 230px,#020108 232px,#010107 234px,#010106 236px,#000005 238px,#000004 242px,#000004 292px)"></div>
<div style="position:absolute;left:738px;top:709px;width:293px;height:2px;background:linear-gradient(90deg,#000004 0px,#000005 44px,#010005 52px,#010106 54px,#010107 58px,#020109 60px,#02020a 62px,#03020b 64px,#04030d 66px,#050410 68px,#060513 70px,#070516 72px,#080618 74px,#09071b 76px,#0b0920 78px,#0d0b25 80px,#0f0c28 82px,#100d2b 84px,#141032 86px,#18143c 88px,#1d1745 90px,#201a4d 92px,#251d57 94px,#2f2261 96px,#3a276a 98px,#43286f 100px,#492a72 102px,#532974 104px,#642876 106px,#742674 108px,#7c2673 110px,#822771 112px,#8f286d 114px,#a12f64 116px,#af365e 118px,#b3395c 120px,#b83b5a 122px,#c74653 124px,#d75548 126px,#df5d41 128px,#e2603f 132px,#ec6d34 134px,#f27c2c 136px,#f3802b 138px,#f27a2c 140px,#f37d2b 142px,#f68d28 144px,#f79a29 146px,#f69328 148px,#f58729 150px,#f58929 152px,#f79729 154px,#f79a29 156px,#f68c28 158px,#f3802b 160px,#f4842a 162px,#f68d28 164px,#f58929 166px,#f27a2c 168px,#ee7132 170px,#ef7430 172px,#f0772e 174px,#ec6e34 176px,#e15f40 178px,#da5846 180px,#da5845 182px,#d75548 184px,#cb4951 186px,#b83b5a 188px,#af365e 190px,#ac345f 192px,#a42f63 194px,#93296b 196px,#812772 198px,#782674 200px,#722775 202px,#652876 204px,#532974 206px,#452970 208px,#3c276b 210px,#332465 212px,#271e59 214px,#1c1745 216px,#151135 218px,#0f0c29 220px,#0a081e 222px,#070616 224px,#050410 226px,#03030c 228px,#02020a 230px,#020108 232px,#010107 234px,#010106 236px,#000005 238px,#000004 242px,#000004 292px)"></div>
<div style="position:absolute;left:738px;top:711px;width:293px;height:2px;background:linear-gradient(90deg,#000004 0px,#000005 42px,#010006 52px,#010106 54px,#010107 56px,#010108 58px,#020209 60px,#02020a 62px,#03020c 64px,#04030e 66px,#050411 68px,#060514 70px,#070617 72px,#080719 74px,#09081d 76px,#0c0922 78px,#0e0b26 80px,#0f0d2a 82px,#110e2e 84px,#151135 86px,#19153f 88px,#1e1848 90px,#221b4f 92px,#271e59 94px,#302362 96px,#3c276c 98px,#452970 100px,#4b2a73 102px,#562974 104px,#672876 106px,#782674 108px,#812772 110px,#862770 112px,#94296b 114px,#a63162 116px,#b5395c 118px,#b93c5a 120px,#be4057 122px,#cd4b50 124px,#dd5b43 126px,#e5633c 128px,#e86739 132px,#f0752f 134px,#f58829 136px,#f68c28 138px,#f4862a 140px,#f58929 142px,#f79c29 144px,#f8aa2c 146px,#f8a32a 148px,#f79629 150px,#f79829 152px,#f8a62b 154px,#f8a92c 156px,#f79a29 158px,#f68c28 160px,#f69028 162px,#f79a29 164px,#f79529 166px,#f4832a 168px,#f1792d 170px,#f27c2c 172px,#f37f2b 174px,#f0752f 176px,#e6653a 178px,#df5d41 180px,#df5e41 182px,#dd5b43 184px,#d04e4d 186px,#be4057 188px,#b5395c 190px,#b2385d 192px,#a93261 194px,#972a69 196px,#852770 198px,#7c2673 200px,#762674 202px,#692775 204px,#562974 206px,#472971 208px,#3e276c 210px,#342566 212px,#281f5a 214px,#1d1846 216px,#151236 218px,#100d2a 220px,#0b081f 222px,#070617 224px,#050411 226px,#03030d 228px,#02020a 230px,#020108 232px,#010107 234px,#010106 236px,#000005 238px,#000004 244px,#000004 292px)"></div>
<div style="position:absolute;left:738px;top:713px;width:293px;height:2px;background:linear-gradient(90deg,#000004 0px,#000005 40px,#010005 50px,#010106 52px,#010107 56px,#010108 58px,#020209 60px,#03020b 62px,#03030c 64px,#04030f 66px,#050412 68px,#070515 70px,#080618 72px,#09071a 74px,#0a081e 76px,#0d0a23 78px,#0f0c28 80px,#100d2c 82px,#120f30 84px,#161237 86px,#1b1641 88px,#1f194a 90px,#231c52 92px,#281f5a 94px,#322464 96px,#3e276d 98px,#482971 100px,#4e2a73 102px,#592975 104px,#6b2775 106px,#7c2673 108px,#842770 110px,#8a276e 112px,#982b69 114px,#ab3360 116px,#ba3d5a 118px,#bf4057 120px,#c44455 122px,#d2504c 124px,#e2603e 126px,#ea6937 128px,#ea6a37 130px,#ec6e34 132px,#f37e2b 134px,#f69328 136px,#f79829 138px,#f69228 140px,#f79729 142px,#f8ab2d 144px,#f7b933 146px,#f7b230 148px,#f8a52a 150px,#f8a72b 152px,#f7b631 154px,#f7b932 156px,#f8a82b 158px,#f79929 160px,#f79c29 162px,#f8a72b 164px,#f8a12a 166px,#f68d28 168px,#f3812b 170px,#f4842a 172px,#f58829 174px,#f27c2c 176px,#eb6b36 178px,#e4633d 180px,#e4633c 182px,#e1603f 184px,#d5534a 186px,#c34455 188px,#ba3d5a 190px,#b73b5b 192px,#ad355f 194px,#9b2c67 196px,#89276f 198px,#802772 200px,#7a2674 202px,#6c2775 204px,#592975 206px,#492a72 208px,#40286d 210px,#362568 212px,#29205b 214px,#1e1848 216px,#161238 218px,#100d2b 220px,#0b0920 222px,#070617 224px,#050411 226px,#04030d 228px,#03020b 230px,#020109 232px,#010107 234px,#010106 236px,#000005 238px,#000004 244px,#000004 292px)"></div>
<div style="position:absolute;left:738px;top:715px;width:293px;height:2px;background:linear-gradient(90deg,#000004 0px,#000005 32px,#010006 50px,#010106 52px,#010107 54px,#020108 58px,#02020a 60px,#03020b 62px,#03030d 64px,#04030f 66px,#060413 68px,#070616 70px,#080619 72px,#09071c 74px,#0b091f 76px,#0d0b25 78px,#100d2a 80px,#110e2d 82px,#131031 84px,#171339 86px,#1c1743 88px,#201a4d 90px,#241d54 92px,#2a205c 94px,#342566 96px,#41286e 98px,#4a2a72 100px,#512a74 102px,#5c2975 104px,#6e2775 106px,#7f2672 108px,#88276f 110px,#8e286d 112px,#9b2c67 114px,#af365e 116px,#be4057 118px,#c44455 120px,#c94852 122px,#d75548 124px,#e7653a 126px,#ed6f33 128px,#ed7033 130px,#ef7430 132px,#f58729 134px,#f79e29 136px,#f8a42a 138px,#f79e29 140px,#f8a42a 142px,#f7b933 144px,#f4c943 146px,#f6c23b 148px,#f7b330 150px,#f7b531 152px,#f5c53e 154px,#f4c741 156px,#f7b531 158px,#f8a52a 160px,#f8a82b 162px,#f7b230 164px,#f8ac2d 166px,#f79729 168px,#f58929 170px,#f68c28 172px,#f69028 174px,#f4842a 176px,#ee7132 178px,#e86738 180px,#e96838 182px,#e6643b 184px,#d95746 186px,#c84852 188px,#be4057 190px,#bb3e59 192px,#b1375d 194px,#9f2d65 196px,#8d286d 198px,#842771 200px,#7d2673 202px,#6f2775 204px,#5b2975 206px,#4b2a73 208px,#42286e 210px,#372669 212px,#2b205d 214px,#1f194a 216px,#171339 218px,#110e2d 220px,#0c0921 222px,#080618 224px,#050412 226px,#04030d 228px,#03020b 230px,#020109 232px,#010107 234px,#010106 236px,#010005 238px,#000005 240px,#000004 244px,#000004 292px)"></div>
<div style="position:absolute;left:738px;top:717px;width:293px;height:2px;background:linear-gradient(90deg,#000004 0px,#000005 12px,#010005 48px,#010106 50px,#010107 54px,#020109 58px,#02020a 60px,#03020c 62px,#04030e 64px,#050410 66px,#060513 68px,#070617 70px,#09071a 72px,#0a081d 74px,#0b0921 76px,#0e0b27 78px,#100e2c 80px,#120f2f 82px,#141033 84px,#18143b 86px,#1d1745 88px,#211b4f 90px,#251d57 92px,#2b215d 94px,#352567 96px,#42286f 98px,#4c2a73 100px,#532974 102px,#5e2875 104px,#712775 106px,#822771 108px,#8b286e 110px,#91286c 112px,#9f2d65 114px,#b3385c 116px,#c34355 118px,#c84752 120px,#cd4b50 122px,#da5845 124px,#ea6a36 126px,#f0752f 128px,#f0762f 130px,#f27b2c 132px,#f69028 134px,#f8a92c 136px,#f8b02f 138px,#f8aa2c 140px,#f8b02f 142px,#f4c741 144px,#f0d756 146px,#f2d04c 148px,#f6c13a 150px,#f5c33d 152px,#f1d34f 154px,#f1d552 156px,#f5c23b 158px,#f8b02f 160px,#f7b330 162px,#f7bd35 164px,#f7b632 166px,#f8a02a 168px,#f69128 170px,#f79429 172px,#f79829 174px,#f58a29 176px,#f0762f 178px,#eb6c35 180px,#e96838 184px,#dd5b43 186px,#cd4b50 188px,#c34355 190px,#bf4157 192px,#b53a5c 194px,#a22f64 196px,#90286c 198px,#872770 200px,#802772 202px,#722775 204px,#5d2875 206px,#4d2a73 208px,#43286f 210px,#39266a 212px,#2c215e 214px,#201a4c 216px,#17143b 218px,#110e2e 220px,#0c0a22 222px,#080619 224px,#050412 226px,#04030e 228px,#03020b 230px,#020109 232px,#010107 234px,#010106 236px,#010005 238px,#000005 240px,#000004 244px,#000004 292px)"></div>
<div style="position:absolute;left:738px;top:719px;width:293px;height:2px;background:linear-gradient(90deg,#000005 0px,#010005 44px,#010106 48px,#010107 52px,#010108 56px,#020209 58px,#03020b 60px,#03030c 62px,#04030e 64px,#050411 66px,#060514 68px,#080618 70px,#09071b 72px,#0a081e 74px,#0c0a22 76px,#0f0c28 78px,#110e2d 80px,#131031 82px,#151135 84px,#18143d 86px,#1e1847 88px,#221b51 90px,#261e58 92px,#2d215f 94px,#372669 96px,#442970 98px,#4e2a73 100px,#552974 102px,#602876 104px,#732775 106px,#852770 108px,#8e286d 110px,#94296a 112px,#a12f64 114px,#b63a5b 116px,#c64653 118px,#cc4a51 120px,#d14f4d 122px,#de5c42 124px,#ed6e34 126px,#f27a2c 128px,#f27b2c 130px,#f3812b 132px,#f79829 134px,#f7b330 136px,#f7ba33 138px,#f7b531 140px,#f7bb34 142px,#f1d450 144px,#ede36c 146px,#efdc60 148px,#f3ce49 150px,#f2d04c 152px,#eede63 154px,#eee067 156px,#f3ce49 158px,#f7bb33 160px,#f7bd35 162px,#f4c741 164px,#f6bf38 166px,#f8a82b 168px,#f79829 170px,#f79c29 172px,#f79f29 174px,#f69028 176px,#f27a2c 178px,#ed7032 180px,#ec6c35 184px,#e05e41 186px,#d04e4e 188px,#c64653 190px,#c34355 192px,#b83c5a 194px,#a53062 196px,#93296b 198px,#8a276f 200px,#832771 202px,#742674 204px,#602876 206px,#4f2a74 208px,#452970 210px,#3a276b 212px,#2d215f 214px,#211a4d 216px,#18143c 218px,#120f2f 220px,#0c0a23 222px,#080719 224px,#060412 226px,#04030e 228px,#03020b 230px,#020209 232px,#010107 234px,#010106 236px,#010005 238px,#000005 240px,#000004 244px,#000004 292px)"></div>
<div style="position:absolute;left:738px;top:721px;width:293px;height:2px;background:linear-gradient(90deg,#000005 0px,#010005 40px,#010106 44px,#010107 52px,#010108 54px,#020108 56px,#02020a 58px,#03020b 60px,#03030d 62px,#04030f 64px,#050412 66px,#070515 68px,#080719 70px,#09071c 72px,#0b081f 74px,#0d0a24 76px,#0f0d2a 78px,#120f2f 80px,#141033 82px,#151237 84px,#19153e 86px,#1f1949 88px,#231c53 90px,#281f5a 92px,#2e2260 94px,#38266a 96px,#462970 98px,#502a74 100px,#572975 102px,#622876 104px,#762674 106px,#88276f 108px,#91286c 110px,#972a69 112px,#a43062 114px,#b93c5a 116px,#c94852 118px,#cf4d4f 120px,#d3514b 122px,#e15f40 124px,#ee7231 126px,#f37f2b 128px,#f3802b 130px,#f58729 132px,#f8a02a 134px,#f7bb34 136px,#f5c33d 138px,#f6be36 140px,#f5c63f 142px,#efdd62 144px,#ece97d 146px,#ece672 148px,#f0d858 150px,#efda5c 152px,#ece876 154px,#ece878 156px,#f0d756 158px,#f5c43d 160px,#f5c63f 162px,#f2d04b 164px,#f4c741 166px,#f8af2e 168px,#f79f29 170px,#f8a22a 172px,#f8a52a 174px,#f79629 176px,#f37f2b 178px,#ef7430 180px,#ed7033 184px,#e2613e 186px,#d2504c 188px,#c94852 190px,#c64654 192px,#bb3e59 194px,#a73161 196px,#952a6a 198px,#8c286e 200px,#852770 202px,#772674 204px,#622876 206px,#512974 208px,#462971 210px,#3c276b 212px,#2e2260 214px,#211b4f 216px,#19153d 218px,#120f30 220px,#0d0a24 222px,#08071a 224px,#060513 226px,#04030e 228px,#03020b 230px,#020209 232px,#010107 234px,#010106 236px,#010005 238px,#000005 240px,#000004 244px,#000004 292px)"></div>
<div style="position:absolute;left:738px;top:723px;width:293px;height:2px;background:linear-gradient(90deg,#000005 0px,#010005 24px,#010006 34px,#010106 38px,#010107 48px,#020108 54px,#020109 56px,#02020a 58px,#03020c 60px,#04030e 62px,#050410 64px,#060412 66px,#070616 68px,#09071a 70px,#0a081e 72px,#0b0921 74px,#0d0b25 76px,#100d2b 78px,#130f31 80px,#141134 82px,#161238 84px,#1a1540 86px,#1f194b 88px,#241d55 90px,#291f5b 92px,#2f2261 94px,#3a276a 96px,#482971 98px,#522974 100px,#592975 102px,#642876 104px,#782674 106px,#8a276e 108px,#93296b 110px,#992b68 112px,#a63161 114px,#bc3e59 116px,#cc4a50 118px,#d14f4d 120px,#d55349 122px,#e3613e 124px,#f0752f 126px,#f4832a 128px,#f4852a 130px,#f68c28 132px,#f8a62a 134px,#f5c23b 136px,#f3cb46 138px,#f4c640 140px,#f2ce49 142px,#ede571 144px,#ecec8b 146px,#ecea80 148px,#eee067 150px,#ede26b 152px,#ecea82 154px,#eceb84 156px,#eede63 158px,#f3cb46 160px,#f3cd48 162px,#f0d654 164px,#f3ce49 166px,#f7b431 168px,#f8a42a 170px,#f8a72b 172px,#f8aa2c 174px,#f79a29 176px,#f4822a 178px,#f0772e 180px,#ef7331 184px,#e4633c 186px,#d5534a 188px,#cc4a50 190px,#c84852 192px,#be4058 194px,#aa3360 196px,#972b69 198px,#8e286d 200px,#87276f 202px,#792674 204px,#632876 206px,#522974 208px,#482971 210px,#3d276c 212px,#2f2261 214px,#221b50 216px,#19153f 218px,#131031 220px,#0d0b25 222px,#09071a 224px,#060513 226px,#04030f 228px,#03020c 230px,#020209 232px,#010107 234px,#010106 236px,#010006 238px,#000005 240px,#000004 244px,#000004 292px)"></div>
<div style="position:absolute;left:738px;top:725px;width:293px;height:2px;background:linear-gradient(90deg,#010005 0px,#010006 12px,#010106 20px,#010107 44px,#020108 52px,#020109 54px,#02020a 56px,#03020b 58px,#03030d 60px,#04030f 62px,#050411 64px,#060513 66px,#070617 68px,#09071c 70px,#0a081f 72px,#0c0a22 74px,#0e0b27 76px,#110e2d 78px,#131032 80px,#151136 82px,#17133a 84px,#1b1642 86px,#201a4c 88px,#251d56 90px,#2a205c 92px,#302362 94px,#3b276b 96px,#492a72 98px,#542974 100px,#5b2975 102px,#662876 104px,#7a2674 106px,#8c286e 108px,#95296a 110px,#9a2c67 112px,#a83261 114px,#be4058 116px,#ce4c4f 118px,#d3514b 120px,#d75548 122px,#e5633c 124px,#f1782d 126px,#f4862a 128px,#f58829 130px,#f68f28 132px,#f8aa2c 134px,#f4c842 136px,#f2d14d 138px,#f3cc47 140px,#f1d451 142px,#ece97b 144px,#ecee94 146px,#ecec8a 148px,#ece673 150px,#ece876 152px,#ecec8c 154px,#ecec8d 156px,#ede46e 158px,#f2d14d 160px,#f1d34e 162px,#efdb5d 164px,#f1d34f 166px,#f7b933 168px,#f8a82b 170px,#f8ab2d 172px,#f8ae2e 174px,#f79e29 176px,#f4852a 178px,#f2792d 180px,#f0752f 184px,#e6653a 186px,#d65449 188px,#ce4c4f 190px,#cb4951 192px,#c04157 194px,#ac345f 196px,#992b68 198px,#90286c 200px,#89276f 202px,#7b2674 204px,#652876 206px,#542974 208px,#492a72 210px,#3e276d 212px,#302362 214px,#231c52 216px,#1a1540 218px,#131032 220px,#0e0b26 222px,#09071b 224px,#060513 226px,#04030f 228px,#03020c 230px,#020209 232px,#010108 234px,#010106 236px,#010006 238px,#000005 240px,#000004 244px,#000004 292px)"></div>
<div style="position:absolute;left:738px;top:727px;width:293px;height:2px;background:linear-gradient(90deg,#010106 0px,#010107 34px,#010108 48px,#020108 50px,#020109 52px,#020209 54px,#02020a 56px,#03020c 58px,#04030e 60px,#040410 62px,#050412 64px,#060515 66px,#080619 68px,#0a081d 70px,#0b0920 72px,#0d0a24 74px,#0f0c28 76px,#120f2e 78px,#141134 80px,#161237 82px,#18143b 84px,#1c1743 86px,#211a4e 88px,#261e58 90px,#2b205d 92px,#312363 94px,#3d276c 96px,#4a2a73 98px,#552974 100px,#5c2975 102px,#682876 104px,#7b2674 106px,#8d286d 108px,#962a69 110px,#9c2c67 112px,#aa3360 114px,#bf4157 116px,#cf4d4e 118px,#d4524a 120px,#d95747 122px,#e6653b 124px,#f27a2c 126px,#f58929 128px,#f58b29 130px,#f69228 132px,#f8ae2e 134px,#f3cc46 136px,#f1d552 138px,#f2d04c 140px,#f0d857 142px,#ecea81 144px,#ecee96 146px,#eced90 148px,#ece979 150px,#ece97c 152px,#eced92 154px,#ecee93 156px,#ece774 158px,#f1d552 160px,#f1d654 162px,#efde63 164px,#f0d654 166px,#f7bc34 168px,#f8ab2d 170px,#f8ae2e 172px,#f7b12f 174px,#f8a12a 176px,#f58829 178px,#f27b2c 180px,#f1772e 184px,#e86739 186px,#d85647 188px,#cf4d4e 190px,#cc4a50 192px,#c24256 194px,#ad355f 196px,#9b2c67 198px,#92286c 200px,#8b276e 202px,#7c2673 204px,#672876 206px,#552974 208px,#4a2a73 210px,#40286d 212px,#312363 214px,#231c53 216px,#1a1641 218px,#141033 220px,#0e0b26 222px,#09071b 224px,#060514 226px,#04030f 228px,#03020c 230px,#020209 232px,#010108 234px,#010106 236px,#010006 238px,#000005 240px,#000004 244px,#000004 292px)"></div>
<div style="position:absolute;left:738px;top:729px;width:293px;height:2px;background:linear-gradient(90deg,#010106 0px,#010107 10px,#010108 40px,#020108 44px,#020109 48px,#020209 50px,#02020a 52px,#03020b 56px,#03030d 58px,#04030f 60px,#050411 62px,#060513 64px,#070616 66px,#08071a 68px,#0a081e 70px,#0c0a22 72px,#0d0b25 74px,#100d2a 76px,#120f30 78px,#151136 80px,#171339 82px,#18143d 84px,#1c1745 86px,#221b50 88px,#271f59 90px,#2c215e 92px,#322464 94px,#3e276c 96px,#4c2a73 98px,#572975 100px,#5d2875 102px,#692775 104px,#7d2673 106px,#8f286d 108px,#972b69 110px,#9d2d66 112px,#ab3460 114px,#c14256 116px,#d14f4d 118px,#d5534a 120px,#da5846 122px,#e7663a 124px,#f27c2c 126px,#f58a29 128px,#f68c28 130px,#f79429 132px,#f8b02f 134px,#f3ce49 136px,#f0d755 138px,#f1d24e 140px,#f0da5b 142px,#eceb84 144px,#ecee96 146px,#eced93 148px,#ece97c 150px,#ecea7f 152px,#ecee95 154px,#ecee96 156px,#ece878 158px,#f0d755 160px,#f0d857 162px,#eee066 164px,#f0d858 166px,#f6be36 168px,#f8ad2d 170px,#f8b02f 172px,#f7b330 174px,#f8a32a 176px,#f58929 178px,#f37d2b 180px,#f1782d 184px,#e96838 186px,#d95747 188px,#d04e4d 190px,#ce4c50 192px,#c34355 194px,#ae365e 196px,#9c2c67 198px,#93296b 200px,#8c286e 202px,#7e2673 204px,#682876 206px,#572975 208px,#4c2a73 210px,#41286e 212px,#322464 214px,#241d54 216px,#1b1642 218px,#141134 220px,#0e0c27 222px,#09071c 224px,#060514 226px,#04030f 228px,#03020c 230px,#02020a 232px,#010108 234px,#010106 236px,#010006 238px,#000005 240px,#000004 244px,#000004 292px)"></div>
<div style="position:absolute;left:738px;top:731px;width:293px;height:2px;background:linear-gradient(90deg,#010107 0px,#010108 20px,#020108 30px,#020109 40px,#020209 44px,#02020a 48px,#03020b 52px,#03020c 54px,#03030d 56px,#04030e 58px,#050410 60px,#050412 62px,#060514 64px,#070617 66px,#09071c 68px,#0b0920 70px,#0d0a24 72px,#0e0c27 74px,#100d2c 76px,#131032 78px,#161237 80px,#17133b 82px,#19153e 84px,#1d1846 86px,#231c51 88px,#281f5a 90px,#2d215f 92px,#332465 94px,#3f286d 96px,#4d2a73 98px,#582975 100px,#5f2876 102px,#6a2775 104px,#7e2673 106px,#90286c 108px,#982b68 110px,#9e2d66 112px,#ac345f 114px,#c24356 116px,#d14f4d 118px,#d65449 120px,#db5945 122px,#e86739 124px,#f37d2b 126px,#f58b29 128px,#f68d28 130px,#f79529 132px,#f8b02f 134px,#f2ce49 136px,#f0d756 138px,#f1d34e 140px,#f0da5b 142px,#eceb84 144px,#ecee96 146px,#eced93 148px,#ece97c 150px,#ecea7f 152px,#ecee95 154px,#ecee96 156px,#ece878 158px,#f0d756 160px,#f0d858 162px,#eee068 164px,#f0d959 166px,#f6bf38 168px,#f8ae2e 170px,#f7b12f 172px,#f7b431 174px,#f8a42a 176px,#f58a29 178px,#f37e2b 180px,#f2792d 184px,#ea6837 186px,#d95746 188px,#d14f4d 190px,#ce4c4f 192px,#c44455 194px,#af365e 196px,#9d2d66 198px,#94296b 200px,#8d286d 202px,#7f2672 204px,#692775 206px,#582975 208px,#4d2a73 210px,#42286e 212px,#332465 214px,#251d55 216px,#1c1743 218px,#151135 220px,#0f0c28 222px,#09071c 224px,#060514 226px,#04040f 228px,#03030c 230px,#02020a 232px,#010108 234px,#010106 236px,#000005 240px,#000004 244px,#000004 292px)"></div>
<div style="position:absolute;left:738px;top:733px;width:293px;height:2px;background:linear-gradient(90deg,#010108 0px,#020108 4px,#020109 20px,#020209 28px,#02020a 38px,#03020b 48px,#03030c 52px,#03030d 54px,#04030e 56px,#040410 58px,#050412 60px,#060514 62px,#070616 64px,#080719 66px,#0a081d 68px,#0c0a22 70px,#0e0b26 72px,#0f0c29 74px,#110e2e 76px,#141134 78px,#171339 80px,#18143c 82px,#1a1540 84px,#1e1848 86px,#231c53 88px,#291f5b 90px,#2e2260 92px,#342566 94px,#40286e 96px,#4e2a73 98px,#592975 100px,#602876 102px,#6b2775 104px,#7f2672 106px,#91286c 108px,#992b68 110px,#9f2e65 112px,#ad355f 114px,#c34355 116px,#d2504c 118px,#d65448 120px,#db5945 122px,#e86738 124px,#f37d2b 126px,#f68c28 128px,#f68d28 130px,#f79529 132px,#f8b02f 134px,#f3ce49 136px,#f0d654 138px,#f2d14d 140px,#f0d858 142px,#ecea81 144px,#ecee96 146px,#eced90 148px,#ece979 150px,#ece97c 152px,#eced92 154px,#ecee94 156px,#ece876 158px,#f0d655 160px,#f0d857 162px,#eee067 164px,#f0d959 166px,#f6bf38 168px,#f8af2e 170px,#f7b22f 172px,#f7b531 174px,#f8a52a 176px,#f58b29 178px,#f37f2b 180px,#f27a2c 184px,#ea6937 186px,#da5845 188px,#d2504c 190px,#cf4d4e 192px,#c54554 194px,#b0375d 196px,#9e2d66 198px,#95296a 200px,#8e286d 202px,#802772 204px,#6a2775 206px,#592975 208px,#4e2a73 210px,#43286f 212px,#342466 214px,#251e57 216px,#1c1744 218px,#151236 220px,#0f0c29 222px,#09081c 224px,#060515 226px,#040410 228px,#03030c 230px,#02020a 232px,#010108 234px,#010106 236px,#000005 240px,#000004 244px,#000004 292px)"></div>
<div style="position:absolute;left:738px;top:735px;width:293px;height:2px;background:linear-gradient(90deg,#020109 0px,#020209 4px,#02020a 16px,#03020b 34px,#03020c 44px,#03030c 48px,#03030d 50px,#04030e 52px,#04030f 54px,#040410 56px,#050411 58px,#060513 60px,#070516 62px,#080618 64px,#09071b 66px,#0b0920 68px,#0d0b25 70px,#0f0c28 72px,#100d2b 74px,#120f30 76px,#151236 78px,#18143b 80px,#19153e 82px,#1b1642 84px,#1f1949 86px,#241d55 88px,#2a205c 90px,#2f2261 92px,#352567 94px,#41286e 96px,#502a74 98px,#5a2975 100px,#612876 102px,#6d2775 104px,#802772 106px,#92286b 108px,#9a2c67 110px,#a02e65 112px,#ae355f 114px,#c34455 116px,#d2504c 118px,#d75548 120px,#db5944 122px,#e96838 124px,#f37d2b 126px,#f58b29 128px,#f68d28 130px,#f79429 132px,#f8af2e 134px,#f3cc47 136px,#f1d451 138px,#f2cf4a 140px,#f1d654 142px,#ece97c 144px,#ecee95 146px,#ecec8b 148px,#ece773 150px,#ece877 152px,#ecec8e 154px,#eced90 156px,#ede672 158px,#f1d551 160px,#f0d655 162px,#eedf65 164px,#f0d858 166px,#f6bf37 168px,#f8ae2e 170px,#f7b230 172px,#f7b531 174px,#f8a62a 176px,#f58b29 178px,#f37f2b 180px,#f27a2c 184px,#ea6a37 186px,#db5945 188px,#d2504c 190px,#cf4d4e 192px,#c64554 194px,#b1375d 196px,#9e2d65 198px,#952a6a 200px,#8f286d 202px,#812772 204px,#6b2775 206px,#5a2975 208px,#4f2a74 210px,#44296f 212px,#342566 214px,#261e58 216px,#1d1745 218px,#161237 220px,#0f0c29 222px,#0a081d 224px,#060515 226px,#050410 228px,#03030c 230px,#02020a 232px,#010108 234px,#010106 236px,#000005 240px,#000004 244px,#000004 292px)"></div>
<div style="position:absolute;left:738px;top:737px;width:293px;height:2px;background:linear-gradient(90deg,#02020a 0px,#03020b 12px,#03020c 26px,#03030c 34px,#03030d 38px,#04030d 44px,#04030e 46px,#04030f 50px,#040410 52px,#050411 54px,#050412 56px,#060513 58px,#070516 60px,#080618 62px,#09071a 64px,#0a081d 66px,#0c0a22 68px,#0e0c27 70px,#100d2b 72px,#110e2e 74px,#131032 76px,#161238 78px,#19143d 80px,#1a1540 82px,#1c1743 84px,#20194b 86px,#251d56 88px,#2b205d 90px,#302362 92px,#362668 94px,#42286f 96px,#512974 98px,#5c2975 100px,#622876 102px,#6d2775 104px,#812772 106px,#93296b 108px,#9b2c67 110px,#a02e64 112px,#ae355e 114px,#c44455 116px,#d3514b 118px,#d75548 120px,#db5944 122px,#e96738 124px,#f37d2b 126px,#f58b29 128px,#f68c28 130px,#f69328 132px,#f8ad2d 134px,#f4c943 136px,#f2d14c 138px,#f3cb45 140px,#f2d24d 142px,#ece875 144px,#ecec8e 146px,#ecea83 148px,#eee26a 150px,#ede46e 152px,#eceb86 154px,#ecec89 156px,#ede26b 158px,#f2d14d 160px,#f1d450 162px,#efdd61 164px,#f0d755 166px,#f7be36 168px,#f8ad2e 170px,#f7b12f 172px,#f7b531 174px,#f8a52a 176px,#f58b29 178px,#f37f2b 180px,#f27b2c 184px,#ea6a36 186px,#db5945 188px,#d2504c 190px,#d04e4e 192px,#c64654 194px,#b1375d 196px,#9f2e65 198px,#962a69 200px,#90286c 202px,#822771 204px,#6c2775 206px,#5b2975 208px,#502a74 210px,#452970 212px,#352567 214px,#271e59 216px,#1d1846 218px,#161238 220px,#100d2a 222px,#0a081d 224px,#070515 226px,#050410 228px,#03030d 230px,#02020a 232px,#010108 234px,#010107 236px,#010106 238px,#000005 240px,#000004 244px,#000004 292px)"></div>
<div style="position:absolute;left:738px;top:739px;width:293px;height:2px;background:linear-gradient(90deg,#03020b 0px,#03020c 6px,#03030c 14px,#03030d 18px,#04030d 26px,#04030e 30px,#04030f 40px,#050410 46px,#050411 50px,#050412 52px,#060513 54px,#060514 56px,#070516 58px,#080618 60px,#09071a 62px,#0a081d 64px,#0b0920 66px,#0d0b25 68px,#100d2a 70px,#110e2e 72px,#130f31 74px,#151135 76px,#17133b 78px,#1a153f 80px,#1b1642 82px,#1d1745 84px,#201a4d 86px,#261e58 88px,#2c215e 90px,#312363 92px,#372669 94px,#43286f 96px,#522974 98px,#5d2875 100px,#632876 102px,#6e2775 104px,#822771 106px,#93296b 108px,#9b2c67 110px,#a02e64 112px,#ae355e 114px,#c44455 116px,#d3514c 118px,#d75548 120px,#db5945 122px,#e86739 124px,#f27c2c 126px,#f58929 128px,#f58a29 130px,#f69028 132px,#f8aa2c 134px,#f5c53e 136px,#f3cc47 138px,#f5c53f 140px,#f3cc46 142px,#eee26b 144px,#eceb84 146px,#ece979 148px,#efdc5f 150px,#eede63 152px,#ece97d 154px,#ecea81 156px,#efde62 158px,#f3cc47 160px,#f2d04b 162px,#f0da5b 164px,#f1d450 166px,#f7bb34 168px,#f8ab2d 170px,#f8af2e 172px,#f7b330 174px,#f8a42a 176px,#f58a29 178px,#f37e2b 180px,#f37f2b 182px,#f27a2c 184px,#ea6937 186px,#da5845 188px,#d2504c 190px,#d04e4e 192px,#c64654 194px,#b2385d 196px,#9f2e65 198px,#962a69 200px,#91286c 202px,#822771 204px,#6d2775 206px,#5b2975 208px,#512974 210px,#462970 212px,#362568 214px,#271f59 216px,#1d1847 218px,#161339 220px,#100d2b 222px,#0a081e 224px,#070515 226px,#050410 228px,#03030d 230px,#02020a 232px,#020108 234px,#010107 236px,#010106 238px,#000005 240px,#000004 244px,#000004 292px)"></div>
<div style="position:absolute;left:738px;top:741px;width:293px;height:2px;background:linear-gradient(90deg,#03030d 0px,#04030d 6px,#04030e 12px,#04030f 22px,#04040f 30px,#040410 32px,#050410 34px,#050411 40px,#050412 44px,#060413 48px,#060513 50px,#060514 52px,#070515 54px,#070616 56px,#080618 58px,#09071b 60px,#0a081d 62px,#0b0920 64px,#0c0a23 66px,#0f0c28 68px,#110e2d 70px,#131031 72px,#141133 74px,#161238 76px,#19143d 78px,#1b1641 80px,#1c1744 82px,#1d1847 84px,#211b4e 86px,#271e59 88px,#2d215f 90px,#322464 92px,#38266a 94px,#442970 96px,#532974 98px,#5d2875 100px,#642876 102px,#6f2775 104px,#822771 106px,#93296b 108px,#9b2c67 110px,#a02e64 112px,#ae355f 114px,#c34455 116px,#d2504c 118px,#d65449 120px,#da5845 122px,#e7663a 124px,#f27a2c 126px,#f58729 128px,#f58829 130px,#f68d28 132px,#f8a52a 134px,#f6c038 136px,#f5c640 138px,#f6bf37 140px,#f5c43e 142px,#efdb5e 144px,#ece878 146px,#ede36c 148px,#f1d552 150px,#f0d756 152px,#ede671 154px,#ece876 156px,#f0d857 158px,#f4c640 160px,#f3ca45 162px,#f1d653 164px,#f2d04b 166px,#f7b832 168px,#f8a82b 170px,#f8ad2d 172px,#f7b12f 174px,#f8a22a 176px,#f58929 178px,#f37d2b 180px,#f2792d 184px,#ea6937 186px,#da5846 188px,#d2504c 190px,#cf4d4e 192px,#c64554 194px,#b1375d 196px,#9f2e65 198px,#962a69 200px,#91286c 202px,#832771 204px,#6d2775 206px,#5c2975 208px,#512974 210px,#462971 212px,#372669 214px,#281f5a 216px,#1e1848 218px,#171339 220px,#100d2b 222px,#0a081e 224px,#070516 226px,#050410 228px,#03030d 230px,#02020a 232px,#020108 234px,#010107 236px,#010106 238px,#000005 240px,#000004 244px,#000004 292px)"></div>
<div style="position:absolute;left:738px;top:743px;width:293px;height:2px;background:linear-gradient(90deg,#04030e 0px,#04030f 4px,#040410 14px,#050410 16px,#050411 24px,#050412 32px,#060413 38px,#060513 40px,#060514 44px,#070515 48px,#070516 50px,#070617 52px,#080618 54px,#080619 56px,#09071b 58px,#0a081d 60px,#0b0920 62px,#0c0a23 64px,#0e0b27 66px,#100d2c 68px,#130f31 70px,#141134 72px,#151236 74px,#17133a 76px,#1a1540 78px,#1c1744 80px,#1d1846 82px,#1e1949 84px,#221b50 86px,#281f5a 88px,#2e2260 90px,#332465 92px,#39266a 94px,#452970 96px,#542974 98px,#5e2875 100px,#642876 102px,#6f2775 104px,#822771 106px,#93296b 108px,#9b2c67 110px,#a02e65 112px,#ad355f 114px,#c24355 116px,#d14f4d 118px,#d5534a 120px,#d95746 122px,#e6643b 124px,#f1782d 126px,#f4842a 128px,#f58929 132px,#f8a02a 134px,#f7b933 136px,#f6bf37 138px,#f7b732 140px,#f7bc34 142px,#f1d44f 144px,#eee169 146px,#efda5c 148px,#f3cc46 150px,#f2cf4a 152px,#efde63 154px,#eee168 156px,#f2d14c 158px,#f6bf38 160px,#f5c43d 162px,#f2d04b 164px,#f3ca44 166px,#f7b330 168px,#f8a42a 170px,#f8a92c 172px,#f8ad2e 174px,#f79f29 176px,#f4862a 178px,#f27b2c 180px,#f1772e 184px,#e86738 186px,#d95747 188px,#d14f4d 190px,#ce4c4f 192px,#c54554 194px,#b1375d 196px,#9e2d65 198px,#962a6a 200px,#91286c 202px,#832771 204px,#6e2775 206px,#5c2875 208px,#522974 210px,#472971 212px,#372669 214px,#281f5a 216px,#1e1949 218px,#17133a 220px,#100e2c 222px,#0a081f 224px,#070616 226px,#050410 228px,#03030d 230px,#02020a 232px,#020108 234px,#010107 236px,#010106 238px,#000005 240px,#000004 244px,#000004 292px)"></div>
<div style="position:absolute;left:738px;top:745px;width:293px;height:2px;background:linear-gradient(90deg,#050410 0px,#050411 8px,#050412 16px,#060412 22px,#060513 24px,#060514 30px,#060515 38px,#070515 40px,#070516 42px,#070616 44px,#070617 46px,#080618 50px,#080719 52px,#09071a 54px,#09071c 56px,#0a081e 58px,#0b0920 60px,#0c0a23 62px,#0e0b26 64px,#100d2a 66px,#120f2f 68px,#141134 70px,#161237 72px,#171339 74px,#19143d 76px,#1b1642 78px,#1d1846 80px,#1e1848 82px,#1f194b 84px,#231c52 86px,#291f5b 88px,#2f2261 90px,#332465 92px,#3a276a 94px,#462970 96px,#552974 98px,#5f2876 100px,#642876 102px,#6f2775 104px,#822771 106px,#93296b 108px,#9a2c68 110px,#9f2d65 112px,#ac345f 114px,#c14256 116px,#d04e4e 118px,#d3514b 120px,#d75548 122px,#e4623d 124px,#f0752f 126px,#f3802b 128px,#f4852a 132px,#f79a29 134px,#f7b230 136px,#f7b732 138px,#f8af2e 140px,#f7b430 142px,#f4ca44 144px,#f0d858 146px,#f2d14d 148px,#f6c23a 150px,#f5c43e 152px,#f1d552 154px,#f0d959 156px,#f4c842 158px,#f7b832 160px,#f7bc34 162px,#f4c943 164px,#f5c33d 166px,#f8ad2e 168px,#f89f2a 170px,#f8a42a 172px,#f8a92c 174px,#f79a29 176px,#f4832a 178px,#f1782d 180px,#f1792d 182px,#f0752f 184px,#e7653a 186px,#d75548 188px,#cf4d4e 190px,#cd4b50 192px,#c34455 194px,#af365e 196px,#9d2d66 198px,#952a6a 200px,#90286c 202px,#822771 204px,#6e2775 206px,#5d2875 208px,#522974 210px,#472971 212px,#382669 214px,#291f5b 216px,#1f1949 218px,#17133b 220px,#110e2c 222px,#0a081f 224px,#070616 226px,#050411 228px,#03030d 230px,#02020a 232px,#020108 234px,#010107 236px,#010106 238px,#000005 240px,#000004 244px,#000004 292px)"></div>
<div style="position:absolute;left:738px;top:747px;width:293px;height:2px;background:linear-gradient(90deg,#050411 0px,#050412 2px,#060413 10px,#060513 12px,#060514 18px,#060515 24px,#070515 28px,#070516 30px,#070616 34px,#070617 36px,#080618 42px,#080619 46px,#08071a 48px,#09071b 50px,#09071c 52px,#0a081d 54px,#0a081e 56px,#0b0921 58px,#0d0a24 60px,#0e0b27 62px,#0f0d29 64px,#110e2d 66px,#131032 68px,#161237 70px,#17133a 72px,#18143c 74px,#1a1540 76px,#1c1744 78px,#1e1848 80px,#1f194a 82px,#201a4c 84px,#241c54 86px,#2a205c 88px,#302362 90px,#342566 92px,#3b276b 94px,#472971 96px,#552974 98px,#5f2876 100px,#642876 102px,#6f2775 104px,#812772 106px,#92286c 108px,#992b68 110px,#9d2d66 112px,#aa3360 114px,#bf4057 116px,#ce4c4f 118px,#d14f4c 120px,#d5534a 122px,#e1603f 124px,#ee7231 126px,#f27c2c 128px,#f27b2c 130px,#f3802b 132px,#f69328 134px,#f8aa2c 136px,#f8af2e 138px,#f8a62b 140px,#f8aa2c 142px,#f6bf37 144px,#f3ce49 146px,#f5c63f 148px,#f7b732 150px,#f7ba33 152px,#f3cb45 154px,#f2cf4a 156px,#f7be36 158px,#f8af2e 160px,#f7b431 162px,#f6c039 164px,#f7bc34 166px,#f8a72b 168px,#f79929 170px,#f79e29 172px,#f8a32a 174px,#f79529 176px,#f37f2b 178px,#ef752f 180px,#f0752f 182px,#ee7231 184px,#e4633c 186px,#d5534a 188px,#cd4b50 190px,#cb4951 192px,#c14256 194px,#ae355e 196px,#9c2c66 198px,#94296a 200px,#8f286d 202px,#822771 204px,#6d2775 206px,#5d2875 208px,#532974 210px,#482971 212px,#38266a 214px,#29205b 216px,#1f194a 218px,#18143b 220px,#110e2d 222px,#0b091f 224px,#070616 226px,#050411 228px,#04030d 230px,#02020a 232px,#020108 234px,#010107 236px,#010106 238px,#000005 240px,#000004 244px,#000004 292px)"></div>
<div style="position:absolute;left:738px;top:749px;width:293px;height:2px;background:linear-gradient(90deg,#060513 0px,#060514 6px,#060515 14px,#070515 16px,#070516 20px,#070616 22px,#070617 26px,#080618 32px,#080619 36px,#08071a 40px,#09071b 44px,#09071c 48px,#0a081d 50px,#0a081e 52px,#0b091f 54px,#0b0921 56px,#0d0a23 58px,#0e0b27 60px,#0f0d2a 62px,#110e2c 64px,#120f30 66px,#151135 68px,#17133a 70px,#19143d 72px,#19153f 74px,#1b1642 76px,#1d1847 78px,#1f194a 80px,#201a4c 82px,#211a4e 84px,#251d55 86px,#2b205d 88px,#312363 90px,#352567 92px,#3b276b 94px,#472971 96px,#562974 98px,#5f2876 100px,#642876 102px,#6e2775 104px,#802772 106px,#91286c 108px,#982b69 110px,#9c2c67 112px,#a83261 114px,#bc3e58 116px,#cb4a51 118px,#cf4d4e 120px,#d2504c 122px,#de5d42 124px,#ec6e34 126px,#f1772e 128px,#f0772e 130px,#f27a2c 132px,#f68c28 134px,#f8a22a 136px,#f8a52a 138px,#f79d29 140px,#f8a02a 142px,#f7b431 144px,#f5c23b 146px,#f7ba33 148px,#f8ac2d 150px,#f8af2e 152px,#f6bf38 154px,#f5c33d 156px,#f7b430 158px,#f8a62a 160px,#f8ab2d 162px,#f7b732 164px,#f7b330 166px,#f79f29 168px,#f69228 170px,#f79729 172px,#f79c29 174px,#f68f28 176px,#f27a2c 178px,#ee7132 180px,#ec6e34 184px,#e2603f 186px,#d3514c 188px,#cb4951 190px,#c84752 192px,#bf4057 194px,#ac345f 196px,#9b2c67 198px,#93296b 200px,#8e286d 202px,#812772 204px,#6d2775 206px,#5c2975 208px,#532974 210px,#482971 212px,#38266a 214px,#2a205c 216px,#1f194b 218px,#18143c 220px,#110e2d 222px,#0b0920 224px,#070616 226px,#050411 228px,#04030d 230px,#02020a 232px,#020108 234px,#010107 236px,#010106 238px,#000005 240px,#000004 244px,#000004 292px)"></div>
<div style="position:absolute;left:738px;top:751px;width:293px;height:2px;background:linear-gradient(90deg,#060514 0px,#060515 4px,#070515 6px,#070516 10px,#070616 12px,#070617 16px,#080618 22px,#080619 28px,#080719 30px,#08071a 32px,#09071a 36px,#09071b 38px,#09071c 42px,#09081d 44px,#0a081d 46px,#0a081e 48px,#0b081f 50px,#0b0921 52px,#0c0a22 54px,#0d0a24 56px,#0e0b26 58px,#0f0c29 60px,#110e2c 62px,#120f2f 64px,#141033 66px,#161238 68px,#18143d 70px,#1a1540 72px,#1b1641 74px,#1c1744 76px,#1e1949 78px,#201a4c 80px,#211a4d 82px,#221b4f 84px,#251d56 86px,#2c215e 88px,#312363 90px,#352567 92px,#3c276b 94px,#482971 96px,#562974 98px,#5f2876 100px,#642876 102px,#6d2775 104px,#7f2672 106px,#8f286d 108px,#962a6a 110px,#9a2c68 112px,#a63062 114px,#b93c5a 116px,#c84753 118px,#cc4a51 120px,#cf4d4e 122px,#db5945 124px,#ea6937 126px,#ee7231 128px,#ee7132 130px,#ef7430 132px,#f4852a 134px,#f79829 136px,#f79c29 138px,#f69328 140px,#f79629 142px,#f8a92c 144px,#f7b631 146px,#f8ae2e 148px,#f8a12a 150px,#f8a42a 152px,#f7b330 154px,#f7b832 156px,#f8a92c 158px,#f79c29 160px,#f8a12a 162px,#f8ae2e 164px,#f8aa2c 166px,#f79629 168px,#f58b29 170px,#f68f28 172px,#f79429 174px,#f58829 176px,#f0752f 178px,#eb6c35 180px,#ec6d34 182px,#ea6a36 184px,#df5d42 186px,#d04e4e 188px,#c74653 190px,#c54554 192px,#bc3e59 194px,#a93360 196px,#982b68 198px,#91286c 200px,#8c286e 202px,#7f2672 204px,#6c2775 206px,#5c2975 208px,#522974 210px,#482971 212px,#39266a 214px,#2a205c 216px,#20194b 218px,#18143c 220px,#110e2e 222px,#0b0920 224px,#070617 226px,#050411 228px,#04030d 230px,#02020a 232px,#020108 234px,#010107 236px,#010106 238px,#000005 240px,#000004 244px,#000004 292px)"></div>
<div style="position:absolute;left:738px;top:753px;width:293px;height:2px;background:linear-gradient(90deg,#070515 0px,#070516 2px,#070616 6px,#070617 10px,#080618 14px,#080619 20px,#080719 24px,#08071a 26px,#09071a 28px,#09071b 30px,#09071c 34px,#09081d 38px,#0a081d 40px,#0a081e 42px,#0b081f 46px,#0b0920 48px,#0c0921 50px,#0c0a23 52px,#0d0a24 54px,#0e0b26 56px,#0f0c28 58px,#100d2c 60px,#120f2f 62px,#131032 64px,#151135 66px,#17133a 68px,#1a153f 70px,#1b1642 72px,#1c1743 74px,#1d1846 76px,#1f194b 78px,#211a4e 80px,#211b4f 82px,#221b51 84px,#261e58 86px,#2c215e 88px,#322464 90px,#362668 92px,#3c276c 94px,#482971 96px,#562974 98px,#5f2876 100px,#632876 102px,#6c2775 104px,#7e2673 106px,#8d286d 108px,#94296b 110px,#972b69 112px,#a32f63 114px,#b63a5b 116px,#c44455 118px,#c84753 120px,#cb4a51 122px,#d75548 124px,#e6653b 126px,#ec6d35 128px,#eb6c35 130px,#ec6e34 132px,#f37d2b 134px,#f68e28 136px,#f69128 138px,#f58929 140px,#f58b29 142px,#f79d29 144px,#f8aa2c 146px,#f8a22a 148px,#f79529 150px,#f79829 152px,#f8a72b 154px,#f8ac2d 156px,#f79e29 158px,#f69128 160px,#f79729 162px,#f8a32a 164px,#f8a02a 166px,#f68d28 168px,#f4832a 170px,#f58729 172px,#f68c28 174px,#f3812b 176px,#ed6f33 178px,#e86739 180px,#e96838 182px,#e7653a 184px,#db5945 186px,#cc4a51 188px,#c34355 190px,#c14256 192px,#b83b5a 194px,#a63161 196px,#962a69 198px,#8f286d 200px,#8a276e 202px,#7e2673 204px,#6b2775 206px,#5b2975 208px,#522974 210px,#482971 212px,#39266a 214px,#2a205c 216px,#201a4b 218px,#18143d 220px,#110e2e 222px,#0b0920 224px,#070617 226px,#050411 228px,#04030d 230px,#02020a 232px,#020108 234px,#010107 236px,#010106 238px,#000005 240px,#000004 244px,#000004 292px)"></div>
<div style="position:absolute;left:738px;top:755px;width:293px;height:2px;background:linear-gradient(90deg,#070616 0px,#070617 2px,#080618 8px,#080619 14px,#080719 18px,#08071a 20px,#09071a 22px,#09071b 24px,#09071c 30px,#09081c 32px,#0a081d 34px,#0a081e 38px,#0a081f 40px,#0b091f 42px,#0b0920 44px,#0b0921 46px,#0c0a22 48px,#0c0a23 50px,#0d0b25 52px,#0e0b26 54px,#0f0c28 56px,#100d2a 58px,#110e2e 60px,#131031 62px,#141134 64px,#161238 66px,#18143d 68px,#1b1641 70px,#1c1744 72px,#1d1745 74px,#1e1848 76px,#201a4c 78px,#221b4f 80px,#221b50 82px,#231c52 84px,#261e58 86px,#2d215f 88px,#332465 90px,#362668 92px,#3d276c 94px,#482971 96px,#562974 98px,#5e2875 100px,#622876 102px,#6b2775 104px,#7c2673 106px,#8b276e 108px,#91286c 110px,#95296a 112px,#a02e65 114px,#b2385d 116px,#bf4157 118px,#c34355 120px,#c64653 122px,#d3514b 124px,#e1603f 126px,#e86739 128px,#e7663a 130px,#e96838 132px,#f0752f 134px,#f4852a 136px,#f58729 138px,#f3802b 140px,#f4822a 142px,#f69128 144px,#f79d29 146px,#f79629 148px,#f58a29 150px,#f68c28 152px,#f79b29 154px,#f79f29 156px,#f69228 158px,#f58729 160px,#f68c28 162px,#f79829 164px,#f79529 166px,#f4842a 168px,#f27a2c 170px,#f37f2b 172px,#f4832a 174px,#f2792d 176px,#ea6937 178px,#e3623d 180px,#e4633c 182px,#e2613e 184px,#d75548 186px,#c74653 188px,#be4057 190px,#bc3f58 192px,#b4395c 194px,#a32f63 196px,#93296b 198px,#8c286e 200px,#88276f 202px,#7c2673 204px,#692775 206px,#5a2975 208px,#512974 210px,#482971 212px,#39266a 214px,#2a205c 216px,#201a4c 218px,#19143d 220px,#120f2e 222px,#0b0920 224px,#070617 226px,#050411 228px,#04030d 230px,#02020a 232px,#020108 234px,#010107 236px,#010106 238px,#000005 240px,#000004 244px,#000004 292px)"></div>
<div style="position:absolute;left:738px;top:757px;width:293px;height:2px;background:linear-gradient(90deg,#070617 0px,#080618 4px,#080619 10px,#080719 12px,#08071a 14px,#09071a 18px,#09071b 20px,#09071c 24px,#09081d 28px,#0a081d 30px,#0a081e 34px,#0a081f 36px,#0b081f 38px,#0b0920 40px,#0b0921 42px,#0c0921 44px,#0c0a22 46px,#0d0a23 48px,#0d0b25 50px,#0e0b26 52px,#0f0c28 54px,#0f0d2a 56px,#110e2c 58px,#120f30 60px,#141033 62px,#151236 64px,#17133a 66px,#19153e 68px,#1b1643 70px,#1d1745 72px,#1d1847 74px,#1f1949 76px,#211a4d 78px,#221b50 80px,#231c51 82px,#231c53 84px,#271e59 86px,#2d215f 88px,#332465 90px,#372669 92px,#3d276c 94px,#482971 96px,#552974 98px,#5d2875 100px,#612876 102px,#6a2775 104px,#7a2674 106px,#88276f 108px,#8e286d 110px,#92286c 112px,#9c2c66 114px,#ae355f 116px,#bb3d59 118px,#be3f58 120px,#c14256 122px,#ce4c4f 124px,#dc5a44 126px,#e3613e 128px,#e1603f 130px,#e3623d 132px,#ec6d34 134px,#f27b2c 136px,#f37d2b 138px,#f0762e 140px,#f1782d 142px,#f4862a 144px,#f69028 146px,#f58929 148px,#f37f2b 150px,#f3812b 152px,#f68e28 154px,#f69228 156px,#f58729 158px,#f37d2b 160px,#f3812b 162px,#f68c28 164px,#f58929 166px,#f27a2c 168px,#ee7231 170px,#f0762e 172px,#f27a2c 174px,#ee7231 176px,#e4633c 178px,#de5c42 180px,#df5d41 182px,#dd5b43 184px,#d2504c 186px,#c14256 188px,#b93c5a 190px,#b83b5b 192px,#b0375e 194px,#9f2e65 196px,#90286c 198px,#89276f 200px,#852770 202px,#7a2674 204px,#682876 206px,#592975 208px,#512974 210px,#472971 212px,#39266a 214px,#2a205c 216px,#201a4c 218px,#19143d 220px,#120f2f 222px,#0b0921 224px,#070617 226px,#050411 228px,#04030d 230px,#02020a 232px,#020108 234px,#010107 236px,#010106 238px,#000005 240px,#000004 244px,#000004 292px)"></div>
<div style="position:absolute;left:738px;top:759px;width:293px;height:2px;background:linear-gradient(90deg,#080618 0px,#080619 6px,#08071a 10px,#09071a 14px,#09071b 16px,#09071c 20px,#09081c 24px,#0a081d 26px,#0a081e 30px,#0a081f 34px,#0b0920 36px,#0b0921 40px,#0c0a22 42px,#0c0a23 44px,#0d0a23 46px,#0d0b25 48px,#0e0b26 50px,#0e0c27 52px,#0f0c29 54px,#100d2b 56px,#110e2e 58px,#131031 60px,#141134 62px,#161237 64px,#18143b 66px,#1a1540 68px,#1c1744 70px,#1d1847 72px,#1e1848 74px,#1f194b 76px,#211b4f 78px,#231c51 80px,#231c52 82px,#241c54 84px,#271f59 86px,#2e2260 88px,#332465 90px,#372669 92px,#3d276c 94px,#482971 96px,#552974 98px,#5d2875 100px,#602876 102px,#682876 104px,#782674 106px,#862770 108px,#8b276e 110px,#8e286d 112px,#982b68 114px,#a93260 116px,#b53a5b 118px,#b83b5a 120px,#bb3d59 122px,#c84753 124px,#d75548 126px,#dd5b43 128px,#dc5a44 130px,#dd5b43 132px,#e7663a 134px,#ee7231 136px,#ef7430 138px,#ec6e34 140px,#ed6f33 142px,#f27a2c 144px,#f4842a 146px,#f37e2b 148px,#ef7530 150px,#f0772e 152px,#f4822a 154px,#f4862a 156px,#f27b2c 158px,#ef7330 160px,#f1772e 162px,#f3812b 164px,#f37f2b 166px,#ee7231 168px,#eb6a36 170px,#ec6e34 172px,#ee7231 174px,#ea6a36 176px,#df5d42 178px,#d85647 180px,#da5846 182px,#d85647 184px,#cd4b50 186px,#bb3e59 188px,#b4395c 190px,#b2385d 192px,#ab345f 194px,#9b2c67 196px,#8c286e 198px,#862770 200px,#832771 202px,#782674 204px,#662876 206px,#582975 208px,#502a74 210px,#472971 212px,#39266a 214px,#2a205c 216px,#201a4c 218px,#19153e 220px,#120f2f 222px,#0b0921 224px,#070617 226px,#050411 228px,#04030d 230px,#02020a 232px,#020108 234px,#010107 236px,#010106 238px,#000005 240px,#000004 244px,#000004 292px)"></div>
<div style="position:absolute;left:738px;top:761px;width:293px;height:2px;background:linear-gradient(90deg,#080618 0px,#080619 2px,#080719 6px,#08071a 8px,#09071a 12px,#09071b 14px,#09071c 18px,#09081d 22px,#0a081d 24px,#0a081e 26px,#0a081f 30px,#0b081f 32px,#0b0920 34px,#0b0921 38px,#0c0a22 40px,#0c0a23 42px,#0d0a24 44px,#0d0b24 46px,#0e0b26 48px,#0e0c27 50px,#0f0c28 52px,#100d2a 54px,#110e2c 56px,#120f2f 58px,#131032 60px,#151136 62px,#161339 64px,#18143c 66px,#1b1641 68px,#1d1746 70px,#1e1848 72px,#1f1949 74px,#201a4c 76px,#221b50 78px,#231c52 80px,#231c53 82px,#241d54 84px,#281f5a 86px,#2e2260 88px,#342466 90px,#372669 92px,#3d276c 94px,#482971 96px,#542974 98px,#5c2975 100px,#5e2876 102px,#662876 104px,#752674 106px,#832771 108px,#88276f 110px,#8a276e 112px,#94296a 114px,#a43062 116px,#b0375e 118px,#b2385d 120px,#b4395c 122px,#c14256 124px,#d14f4d 126px,#d75548 128px,#d55349 130px,#d65448 132px,#e05f40 134px,#ea6a37 136px,#eb6b36 138px,#e6653a 140px,#e7663a 142px,#ee7132 144px,#f1782d 146px,#ef7330 148px,#eb6b36 150px,#ec6d34 152px,#f1772e 154px,#f27a2c 156px,#ee7132 158px,#ea6a37 160px,#ec6e34 162px,#f0762f 164px,#ef7430 166px,#ea6937 168px,#e4623d 170px,#e7663a 172px,#ea6937 174px,#e4623d 176px,#d85647 178px,#d2504c 180px,#d3514b 182px,#d2504c 184px,#c54554 186px,#b53a5c 188px,#ae355e 190px,#ad355f 192px,#a63161 194px,#972b69 196px,#88276f 198px,#822771 200px,#7f2672 202px,#752674 204px,#642876 206px,#572975 208px,#4f2a74 210px,#472971 212px,#38266a 214px,#2a205c 216px,#201a4c 218px,#19153e 220px,#120f2f 222px,#0b0921 224px,#070617 226px,#050411 228px,#04030d 230px,#02020a 232px,#020108 234px,#010107 236px,#010106 238px,#000005 240px,#000004 244px,#000004 292px)"></div>
<div style="position:absolute;left:738px;top:763px;width:293px;height:2px;background:linear-gradient(90deg,#080619 0px,#080719 4px,#08071a 6px,#09071a 8px,#09071b 10px,#09071c 16px,#09081d 20px,#0a081d 22px,#0a081e 24px,#0a081f 28px,#0b091f 30px,#0b0920 32px,#0b0921 34px,#0c0a22 38px,#0c0a23 40px,#0d0a23 42px,#0d0b24 44px,#0d0b25 46px,#0e0b26 48px,#0f0c28 50px,#0f0d29 52px,#100d2b 54px,#110e2d 56px,#120f30 58px,#141133 60px,#161237 62px,#17133a 64px,#19153d 66px,#1b1642 68px,#1d1847 70px,#1e1949 72px,#1f194a 74px,#201a4c 76px,#221b50 78px,#241c53 80px,#241c54 82px,#251d55 84px,#281f5a 86px,#2e2260 88px,#342566 90px,#372669 92px,#3d276c 94px,#472971 96px,#542974 98px,#5b2975 100px,#5d2875 102px,#642876 104px,#722775 106px,#7f2672 108px,#842771 110px,#862770 112px,#90286c 114px,#9f2e65 116px,#aa3360 118px,#ac345f 120px,#ae355e 122px,#ba3c5a 124px,#ca4952 126px,#d04e4d 128px,#ce4c4f 130px,#d04e4e 132px,#d95746 134px,#e3613e 136px,#e4623d 138px,#df5d41 140px,#e05e41 142px,#e86739 144px,#ec6e34 146px,#ea6937 148px,#e4623d 150px,#e5643c 152px,#ec6d35 154px,#ed7033 156px,#e96838 158px,#e3613e 160px,#e6653b 162px,#eb6c35 164px,#eb6b36 166px,#e2613e 168px,#dd5b43 170px,#e05e41 172px,#e3613e 174px,#dd5b43 176px,#d14f4d 178px,#cb4a51 180px,#cd4b50 182px,#cb4a51 184px,#be4057 186px,#ae365e 188px,#a83261 190px,#a73161 192px,#a12f64 194px,#93296b 196px,#842770 198px,#7f2672 200px,#7c2673 202px,#722775 204px,#622876 206px,#552974 208px,#4e2a73 210px,#462970 212px,#38266a 214px,#2a205c 216px,#201a4d 218px,#19153e 220px,#120f2f 222px,#0b0921 224px,#070617 226px,#050411 228px,#04030d 230px,#02020a 232px,#020108 234px,#010107 236px,#010106 238px,#000005 240px,#000004 244px,#000004 292px)"></div>
<div style="position:absolute;left:738px;top:765px;width:293px;height:2px;background:linear-gradient(90deg,#080619 0px,#080719 2px,#08071a 4px,#09071a 8px,#09071b 10px,#09071c 14px,#09081d 18px,#0a081d 20px,#0a081e 22px,#0a081f 26px,#0b081f 28px,#0b0920 30px,#0b0921 34px,#0c0922 36px,#0c0a22 38px,#0c0a23 40px,#0d0a24 42px,#0d0b25 44px,#0e0b26 46px,#0e0c27 48px,#0f0c28 50px,#100d2a 52px,#100d2c 54px,#110e2e 56px,#130f31 58px,#141134 60px,#161238 62px,#17133b 64px,#19153e 66px,#1c1743 68px,#1e1847 70px,#1f194a 72px,#1f194b 74px,#211a4d 76px,#231c51 78px,#241c54 80px,#241d54 82px,#251d56 84px,#281f5a 86px,#2f2261 88px,#342566 90px,#382669 92px,#3d276c 94px,#472971 96px,#532974 98px,#592975 100px,#5c2975 102px,#622876 104px,#702775 106px,#7c2673 108px,#802772 110px,#812771 112px,#8b276e 114px,#9a2c67 116px,#a43062 118px,#a63062 120px,#a73161 122px,#b2385d 124px,#c24256 126px,#c94852 128px,#c64654 130px,#c74753 132px,#d2504c 134px,#db5945 136px,#dc5a44 138px,#d75548 140px,#d85648 142px,#e05e40 144px,#e6643b 146px,#e2603f 148px,#dc5a44 150px,#dd5b43 152px,#e4633c 154px,#e7663a 156px,#e15f40 158px,#db5945 160px,#de5c42 162px,#e4633c 164px,#e3623d 166px,#da5845 168px,#d5534a 170px,#d85647 172px,#db5945 174px,#d55349 176px,#c94852 178px,#c24355 180px,#c44554 182px,#c34455 184px,#b73b5b 186px,#a83261 188px,#a22f64 190px,#9c2c66 194px,#8e286d 196px,#802772 198px,#7b2674 200px,#792674 202px,#702775 204px,#602876 206px,#542974 208px,#4d2a73 210px,#452970 212px,#382669 214px,#2a205c 216px,#201a4d 218px,#19153e 220px,#120f2f 222px,#0b0921 224px,#070617 226px,#050411 228px,#04030d 230px,#02020a 232px,#020108 234px,#010107 236px,#010106 238px,#000005 240px,#000004 244px,#000004 292px)"></div>
<div style="position:absolute;left:738px;top:767px;width:293px;height:2px;background:linear-gradient(90deg,#080719 0px,#08071a 2px,#09071a 6px,#09071b 8px,#09071c 12px,#09081c 16px,#0a081d 18px,#0a081e 22px,#0a081f 26px,#0b0920 28px,#0b0921 32px,#0c0921 34px,#0c0a22 36px,#0c0a23 38px,#0d0a24 40px,#0d0b24 42px,#0d0b25 44px,#0e0b26 46px,#0e0c27 48px,#0f0c29 50px,#100d2b 52px,#110e2c 54px,#120f2e 56px,#131031 58px,#151135 60px,#161338 62px,#18143b 64px,#1a153f 66px,#1c1744 68px,#1e1848 70px,#1f194b 72px,#201a4c 74px,#211a4e 76px,#231c52 78px,#241d54 80px,#241d55 82px,#251d56 84px,#291f5b 86px,#2f2261 88px,#342566 90px,#382669 92px,#3d276c 94px,#472971 96px,#522974 98px,#582975 100px,#5a2975 102px,#602876 104px,#6d2775 106px,#792674 108px,#7c2673 110px,#7d2673 112px,#862770 114px,#952a6a 116px,#9e2d65 118px,#9f2e65 120px,#a02e64 122px,#ab3360 124px,#b93c5a 126px,#c04157 128px,#bd3f58 130px,#be4058 132px,#c94852 134px,#d3514b 136px,#d4524b 138px,#cf4d4f 140px,#cf4d4e 142px,#d85648 144px,#dd5b43 146px,#d95746 148px,#d3514b 150px,#d4524a 152px,#dc5a44 154px,#de5c42 156px,#d85647 158px,#d2504c 160px,#d55349 162px,#dc5a44 164px,#db5945 166px,#d2504c 168px,#cd4b50 170px,#d04e4e 172px,#d3514b 174px,#ce4c4f 176px,#c04157 178px,#b93c5a 180px,#bc3e59 182px,#bb3d59 184px,#af365e 186px,#a12e64 188px,#9c2c67 190px,#972a69 194px,#89276f 196px,#7c2673 198px,#772674 200px,#762674 202px,#6d2775 204px,#5e2875 206px,#522974 208px,#4c2a73 210px,#452970 212px,#382669 214px,#2a205c 216px,#201a4d 218px,#19153e 220px,#120f30 222px,#0c0921 224px,#070617 226px,#050411 228px,#04030d 230px,#02020a 232px,#020108 234px,#010107 236px,#010106 238px,#000005 240px,#000004 246px,#000004 292px)"></div>
<div style="position:absolute;left:738px;top:769px;width:293px;height:2px;background:linear-gradient(90deg,#080719 0px,#08071a 2px,#09071a 4px,#09071b 6px,#09071c 12px,#09081d 16px,#0a081d 18px,#0a081e 20px,#0a081f 24px,#0b081f 26px,#0b0920 28px,#0b0921 32px,#0c0922 34px,#0c0a22 36px,#0c0a23 38px,#0d0a24 40px,#0d0b25 42px,#0e0b26 44px,#0e0b27 46px,#0f0c28 48px,#0f0d29 50px,#100d2b 52px,#110e2d 54px,#120f2f 56px,#131032 58px,#151135 60px,#171339 62px,#18143c 64px,#1a1540 66px,#1c1744 68px,#1e1949 70px,#20194b 72px,#201a4c 74px,#211b4e 76px,#231c52 78px,#241d55 80px,#251d55 82px,#251d57 84px,#291f5b 86px,#2f2261 88px,#342566 90px,#382669 92px,#3d276c 94px,#462971 96px,#512974 98px,#572975 100px,#582975 102px,#5e2875 104px,#6a2775 106px,#752674 108px,#782674 110px,#792674 112px,#812772 114px,#90286d 116px,#982b68 118px,#992b68 120px,#9a2c68 122px,#a32f63 124px,#b1375d 126px,#b73b5b 128px,#b4395c 130px,#bf4157 134px,#cb4951 136px,#c54554 140px,#cf4d4e 144px,#d4524a 146px,#d14f4d 148px,#ca4852 150px,#cb4a51 152px,#d3514b 154px,#d55349 156px,#cf4d4e 158px,#c94852 160px,#cd4b50 162px,#d3514b 164px,#d2504c 166px,#c94852 168px,#c24355 170px,#c64653 172px,#ca4951 174px,#c44455 176px,#b73b5b 178px,#b1375d 180px,#b3385c 182px,#b2385d 184px,#a73161 186px,#9a2c67 188px,#952a6a 190px,#962a69 192px,#92286c 194px,#842771 196px,#772674 198px,#732775 200px,#722775 202px,#6a2775 204px,#5c2975 206px,#512a74 208px,#4b2a73 210px,#442970 212px,#372669 214px,#2a205c 216px,#201a4d 218px,#19153f 220px,#120f30 222px,#0c0921 224px,#070617 226px,#050411 228px,#04030d 230px,#02020a 232px,#020108 234px,#010107 236px,#010106 238px,#000005 240px,#000004 246px,#000004 292px)"></div>
<div style="position:absolute;left:738px;top:771px;width:293px;height:2px;background:linear-gradient(90deg,#080719 0px,#08071a 2px,#09071a 4px,#09071b 6px,#09071c 10px,#09081c 14px,#0a081d 16px,#0a081e 20px,#0a081f 24px,#0b091f 26px,#0b0920 28px,#0b0921 30px,#0c0921 32px,#0c0a22 34px,#0c0a23 36px,#0d0a24 40px,#0d0b25 42px,#0e0b26 44px,#0e0c27 46px,#0f0c28 48px,#0f0d2a 50px,#100d2b 52px,#110e2d 54px,#120f2f 56px,#131032 58px,#151236 60px,#17133a 62px,#18143d 64px,#1a1640 66px,#1d1745 68px,#1f1949 70px,#201a4c 72px,#201a4d 74px,#211b4f 76px,#231c53 78px,#251d55 80px,#251e57 84px,#29205b 86px,#2f2261 88px,#352567 90px,#382669 92px,#3d276c 94px,#462970 96px,#502a74 98px,#562974 100px,#572975 102px,#5c2975 104px,#672876 106px,#722775 108px,#742674 110px,#7c2673 114px,#8a276f 116px,#93296b 118px,#9c2c66 124px,#a93260 126px,#ae355e 128px,#ab3460 130px,#ab345f 132px,#b53a5b 134px,#c04156 136px,#ba3d5a 140px,#ba3d59 142px,#c44454 144px,#cb4a51 146px,#c64653 148px,#be4057 150px,#c04156 152px,#c94852 154px,#cc4b50 156px,#c54554 158px,#be3f58 160px,#c14256 162px,#c94852 164px,#c84752 166px,#be4058 168px,#b83b5b 170px,#bc3e59 172px,#c04157 174px,#ba3c5a 176px,#ad355f 178px,#a83261 180px,#aa3360 182px,#a02e65 186px,#94296b 188px,#8f286d 190px,#90286c 192px,#8c286e 194px,#7f2672 196px,#732775 198px,#6f2775 200px,#672876 204px,#5a2975 206px,#4f2a74 208px,#4a2a72 210px,#43286f 212px,#372669 214px,#2a205c 216px,#201a4d 218px,#19153f 220px,#120f30 222px,#0c0922 224px,#080618 226px,#050412 228px,#04030e 230px,#02020a 232px,#020108 234px,#010107 236px,#010106 238px,#000005 240px,#000004 246px,#000004 292px)"></div>
<div style="position:absolute;left:738px;top:773px;width:293px;height:2px;background:linear-gradient(90deg,#08071a 0px,#09071a 4px,#09071b 6px,#09071c 10px,#09081d 14px,#0a081d 16px,#0a081e 20px,#0a081f 24px,#0b0920 26px,#0b0921 30px,#0c0921 32px,#0c0a22 34px,#0c0a23 36px,#0d0a24 38px,#0d0b24 40px,#0d0b25 42px,#0e0b26 44px,#0e0c27 46px,#0f0c28 48px,#100d2a 50px,#100d2c 52px,#110e2d 54px,#120f30 56px,#141033 58px,#151236 60px,#17133a 62px,#19143d 64px,#1a1641 66px,#1d1746 68px,#1f194a 70px,#201a4c 72px,#201a4d 74px,#221b4f 76px,#231c53 78px,#251d55 80px,#251d56 82px,#261e57 84px,#29205b 86px,#302362 88px,#352567 90px,#382669 92px,#3d276c 94px,#462970 96px,#502a74 98px,#552974 100px,#5a2975 104px,#652876 106px,#6e2775 108px,#702775 110px,#772674 114px,#842771 116px,#8c286e 118px,#952a6a 124px,#a12e64 126px,#a63062 128px,#a22f63 130px,#a32f63 132px,#ac345f 134px,#b63a5b 136px,#b0365e 140px,#b0375e 142px,#b93c5a 144px,#c04157 146px,#bb3e59 148px,#b4395c 150px,#b53a5b 152px,#be4057 154px,#c14256 156px,#ba3c5a 158px,#b3385c 160px,#b73b5b 162px,#be4057 164px,#bd3f58 166px,#b3395c 168px,#ae355f 170px,#b2385d 172px,#b63a5b 174px,#b0375e 176px,#a43062 178px,#9f2e65 180px,#a22f63 182px,#992b68 186px,#8d286d 188px,#88276f 190px,#8a276e 192px,#862770 194px,#7a2674 196px,#6e2775 198px,#6c2775 200px,#6b2775 202px,#642876 204px,#582975 206px,#4e2a73 208px,#492a72 210px,#43286f 212px,#372669 214px,#2a205c 216px,#211a4d 218px,#1a153f 220px,#130f30 222px,#0c0a22 224px,#080618 226px,#050412 228px,#04030e 230px,#03020b 232px,#020108 234px,#010107 236px,#010106 238px,#010005 240px,#000005 242px,#000004 246px,#000004 292px)"></div>
<div style="position:absolute;left:738px;top:775px;width:293px;height:2px;background:linear-gradient(90deg,#08071a 0px,#09071a 4px,#09071b 6px,#09071c 10px,#09081d 14px,#0a081d 16px,#0a081e 18px,#0a081f 22px,#0b081f 24px,#0b0920 26px,#0b0921 30px,#0c0922 32px,#0c0a22 34px,#0c0a23 36px,#0d0a24 38px,#0d0b24 40px,#0d0b25 42px,#0e0b26 44px,#0e0c27 46px,#0f0c29 48px,#100d2a 50px,#100e2c 52px,#110e2e 54px,#120f30 56px,#141033 58px,#161237 60px,#17133a 62px,#19153e 64px,#1b1641 66px,#1d1846 68px,#1f194a 70px,#201a4d 72px,#211a4d 74px,#221b50 76px,#241c53 78px,#251d56 80px,#261e58 84px,#2a205c 86px,#302362 88px,#352567 90px,#382669 92px,#3c276c 94px,#452970 96px,#4f2a74 98px,#532974 100px,#542974 102px,#582975 104px,#622876 106px,#6b2775 108px,#6c2775 110px,#722775 114px,#7e2672 116px,#862770 118px,#852770 122px,#8e286d 124px,#992b68 126px,#9d2d66 128px,#9a2c67 130px,#a32f63 134px,#ac345f 136px,#a63162 140px,#af365e 144px,#b53a5c 146px,#b1375d 148px,#a93360 150px,#ab3460 152px,#b3395c 154px,#b63a5b 156px,#af365e 158px,#a93261 160px,#ac345f 162px,#b3395c 164px,#b2385d 166px,#a93360 168px,#a43063 170px,#a83261 172px,#ac345f 174px,#a73161 176px,#9c2c67 178px,#972b69 180px,#9a2c67 182px,#92286c 186px,#862770 188px,#822771 190px,#842771 192px,#802772 194px,#752674 196px,#6a2775 198px,#682876 200px,#682775 202px,#622876 204px,#562974 206px,#4c2a73 208px,#482971 210px,#42286f 212px,#372669 214px,#2a205c 216px,#211a4d 218px,#1a153f 220px,#130f31 222px,#0c0a22 224px,#080618 226px,#050412 228px,#04030e 230px,#03020b 232px,#020108 234px,#010107 236px,#010106 238px,#010005 240px,#000005 242px,#000004 248px,#000004 292px)"></div>
<div style="position:absolute;left:738px;top:777px;width:293px;height:2px;background:linear-gradient(90deg,#08071a 0px,#09071a 2px,#09071b 4px,#09071c 10px,#09081d 14px,#0a081d 16px,#0a081e 18px,#0a081f 22px,#0b081f 24px,#0b0920 26px,#0b0921 30px,#0c0922 32px,#0c0a22 34px,#0c0a23 36px,#0d0a24 38px,#0d0b25 40px,#0e0b26 44px,#0e0c27 46px,#0f0c29 48px,#100d2a 50px,#110e2c 52px,#110e2e 54px,#120f30 56px,#141133 58px,#161237 60px,#17143b 62px,#19153e 64px,#1b1642 66px,#1d1846 68px,#1f194b 70px,#201a4d 72px,#211a4e 74px,#221b50 76px,#241c54 78px,#251d56 80px,#251d57 82px,#261e58 84px,#2a205c 86px,#302362 88px,#352567 90px,#382669 92px,#3c276c 94px,#452970 96px,#4e2a73 98px,#522974 100px,#562974 104px,#602876 106px,#682876 108px,#692775 110px,#682876 112px,#6d2775 114px,#792674 116px,#802772 118px,#7f2672 120px,#7e2672 122px,#862770 124px,#92286b 126px,#962a6a 128px,#92296b 130px,#92286c 132px,#9a2c67 134px,#a32f63 136px,#a22f63 138px,#9d2d66 140px,#a53062 144px,#ab3360 146px,#a63161 148px,#a02e65 150px,#a12e64 152px,#a93260 154px,#ab345f 156px,#a53062 158px,#9f2e65 160px,#a22f63 162px,#a93360 164px,#a83261 166px,#a02e65 168px,#9b2c67 170px,#9f2d65 172px,#a32f63 174px,#9e2d66 176px,#94296b 178px,#8f286d 180px,#93296b 182px,#8a276e 186px,#7f2672 188px,#7c2673 190px,#7e2673 192px,#7b2674 194px,#702775 196px,#662876 198px,#642876 200px,#652876 202px,#5f2876 204px,#542974 206px,#4b2a73 208px,#472971 210px,#42286e 212px,#362668 214px,#2a205c 216px,#211a4e 218px,#1a1540 220px,#131031 222px,#0c0a23 224px,#080618 226px,#050412 228px,#04030e 230px,#03020b 232px,#020108 234px,#010107 236px,#010106 238px,#010006 240px,#000005 242px,#000004 250px,#000004 292px)"></div>
<div style="position:absolute;left:738px;top:779px;width:293px;height:2px;background:linear-gradient(90deg,#08071a 0px,#09071a 2px,#09071b 4px,#09071c 10px,#0a081d 14px,#0a081e 18px,#0a081f 22px,#0b081f 24px,#0b0920 26px,#0b0921 30px,#0c0922 32px,#0c0a22 34px,#0c0a23 36px,#0d0a24 38px,#0d0b25 40px,#0e0b26 42px,#0e0c28 46px,#0f0c29 48px,#100d2a 50px,#110e2c 52px,#120e2e 54px,#130f30 56px,#141134 58px,#161238 60px,#18143b 62px,#19153e 64px,#1b1642 66px,#1d1847 68px,#20194b 70px,#211a4d 72px,#211a4e 74px,#221b50 76px,#241d54 78px,#251d56 80px,#251e57 82px,#261e58 84px,#2a205c 86px,#302362 88px,#352567 90px,#382669 92px,#3c276c 94px,#452970 96px,#4d2a73 98px,#512974 100px,#542974 104px,#5d2875 106px,#652876 108px,#662876 110px,#642876 112px,#692775 114px,#742674 116px,#7b2674 118px,#792674 120px,#782674 122px,#7f2672 124px,#8a276e 126px,#8e286d 128px,#8a276e 130px,#89276f 132px,#92286c 134px,#9a2c68 136px,#9a2b68 138px,#94296b 140px,#9c2c67 144px,#a12e64 146px,#9d2d66 148px,#962a69 150px,#982b69 152px,#9f2e65 154px,#a22f64 156px,#9b2c67 158px,#962a6a 160px,#992b68 162px,#a02e65 164px,#9f2e65 166px,#972a69 168px,#92286b 170px,#962a6a 172px,#9a2c68 174px,#952a6a 176px,#8b286e 178px,#87276f 180px,#8b276e 182px,#8c286e 184px,#832771 186px,#792674 188px,#762674 190px,#782674 192px,#762674 194px,#6c2775 196px,#632876 198px,#612876 200px,#622876 202px,#5d2875 204px,#522974 206px,#4a2a72 208px,#462971 210px,#41286e 212px,#362668 214px,#2a205c 216px,#211a4e 218px,#1a1640 220px,#131032 222px,#0c0a23 224px,#080619 226px,#060412 228px,#04030e 230px,#03020b 232px,#020109 234px,#010107 236px,#010106 238px,#010005 242px,#000005 244px,#000005 292px)"></div>
<div style="position:absolute;left:738px;top:781px;width:293px;height:2px;background:linear-gradient(90deg,#08071a 0px,#09071a 2px,#09071b 4px,#09071c 10px,#0a081d 14px,#0a081e 18px,#0a081f 22px,#0b091f 24px,#0b0920 26px,#0b0921 30px,#0c0922 32px,#0c0a22 34px,#0c0a23 36px,#0d0a24 38px,#0d0b25 40px,#0e0b26 42px,#0e0b27 44px,#0e0c28 46px,#0f0c29 48px,#100d2b 50px,#110e2c 52px,#120e2e 54px,#130f31 56px,#141134 58px,#161238 60px,#18143c 62px,#19153f 64px,#1b1642 66px,#1e1847 68px,#201a4c 70px,#211a4e 72px,#211b4e 74px,#221b51 76px,#241d54 78px,#251e57 80px,#261e57 82px,#261e58 84px,#2a205c 86px,#312363 88px,#352567 90px,#38266a 92px,#3c276c 94px,#442970 96px,#4d2a73 98px,#502a74 100px,#532974 104px,#5b2975 106px,#622876 108px,#602876 112px,#652876 114px,#6f2775 116px,#752674 118px,#732775 120px,#722775 122px,#792674 124px,#832771 126px,#862770 128px,#822771 130px,#812771 132px,#89276f 134px,#92286c 136px,#91286c 138px,#8b276e 140px,#93296b 144px,#982b69 146px,#94296a 148px,#8d286d 150px,#8f286d 152px,#962a69 154px,#982b68 156px,#93296b 158px,#8d286d 160px,#90286c 162px,#972a69 164px,#962a6a 166px,#8e286d 168px,#89276f 170px,#8d286d 172px,#92286c 174px,#8d286d 176px,#832771 178px,#7f2672 180px,#832771 182px,#842770 184px,#7d2673 186px,#732775 188px,#702775 190px,#732775 192px,#712775 194px,#682876 196px,#5f2876 198px,#5e2876 200px,#602876 202px,#5b2975 204px,#512974 206px,#492a72 208px,#462970 210px,#41286e 212px,#362668 214px,#2a205c 216px,#211b4f 218px,#1a1641 220px,#141032 222px,#0d0a24 224px,#080619 226px,#060513 228px,#04030f 230px,#03020b 232px,#020209 234px,#010108 236px,#010107 238px,#010106 240px,#010005 244px,#000005 246px,#000005 292px)"></div>
<div style="position:absolute;left:738px;top:783px;width:293px;height:2px;background:linear-gradient(90deg,#08071a 0px,#09071a 2px,#09071b 4px,#09071c 10px,#0a081d 14px,#0a081e 18px,#0a081f 22px,#0b091f 24px,#0b0920 26px,#0b0921 30px,#0c0a22 32px,#0c0a23 36px,#0d0a24 38px,#0d0b25 40px,#0e0b26 42px,#0e0b27 44px,#0e0c28 46px,#0f0c29 48px,#100d2b 50px,#110e2c 52px,#120f2e 54px,#130f31 56px,#141134 58px,#161238 60px,#18143c 62px,#19153f 64px,#1b1643 66px,#1e1848 68px,#201a4c 70px,#211a4e 72px,#211b4f 74px,#221b51 76px,#241d54 78px,#261e57 80px,#271e59 84px,#2b205d 86px,#312363 88px,#362568 90px,#38266a 92px,#3c276c 94px,#442970 96px,#4c2a73 98px,#4f2a74 100px,#4e2a73 102px,#512974 104px,#592975 106px,#602876 108px,#5d2875 112px,#612876 114px,#6b2775 116px,#702775 118px,#6e2775 120px,#6c2775 122px,#732775 124px,#7c2673 126px,#7f2672 128px,#7b2674 130px,#7a2674 132px,#812771 134px,#89276f 136px,#88276f 138px,#822771 140px,#8a276e 144px,#8f286d 146px,#8b276e 148px,#842770 150px,#862770 152px,#8d286d 154px,#90286c 156px,#89276f 158px,#842771 160px,#87276f 162px,#8e286d 164px,#8d286d 166px,#852770 168px,#812772 170px,#852770 172px,#89276f 174px,#852770 176px,#7c2673 178px,#782674 180px,#7c2673 182px,#7e2673 184px,#762674 186px,#6d2775 188px,#6b2775 190px,#6e2775 192px,#6d2775 194px,#642876 196px,#5c2875 198px,#5c2975 200px,#5e2875 202px,#5a2975 204px,#502a74 206px,#482972 208px,#452970 210px,#41286e 212px,#362668 214px,#2b205d 216px,#221b4f 218px,#1b1642 220px,#141133 222px,#0d0b25 224px,#08071a 226px,#060513 228px,#04030f 230px,#03020c 232px,#02020a 234px,#020108 236px,#010107 238px,#010106 242px,#010006 254px,#010006 292px)"></div>
<div style="position:absolute;left:738px;top:785px;width:293px;height:2px;background:linear-gradient(90deg,#08071a 0px,#09071a 2px,#09071b 4px,#09071c 10px,#0a081d 14px,#0a081e 18px,#0a081f 22px,#0b091f 24px,#0b0920 26px,#0b0921 30px,#0c0922 32px,#0c0a22 34px,#0c0a23 36px,#0d0a24 38px,#0d0b25 40px,#0e0b26 42px,#0e0b27 44px,#0f0c28 46px,#0f0c29 48px,#100d2b 50px,#110e2d 52px,#120f2e 54px,#131031 56px,#141134 58px,#161338 60px,#18143c 62px,#1a153f 64px,#1b1643 66px,#1e1848 68px,#201a4c 70px,#211a4e 72px,#211b4f 74px,#221b51 76px,#241d55 78px,#261e57 80px,#261e58 82px,#271e59 84px,#2b205d 86px,#312363 88px,#362568 90px,#38266a 92px,#3c276b 94px,#44296f 96px,#4c2a73 98px,#4f2a73 100px,#4d2a73 102px,#502a74 104px,#572975 106px,#5e2875 108px,#5d2875 110px,#5a2975 112px,#5e2875 114px,#672876 116px,#6c2775 118px,#692775 120px,#672876 122px,#6d2775 124px,#762674 126px,#782674 128px,#742775 130px,#732775 132px,#7a2674 134px,#812772 136px,#802772 138px,#7a2674 140px,#812771 144px,#862770 146px,#822771 148px,#7c2673 150px,#7d2673 152px,#842770 154px,#872770 156px,#812772 158px,#7b2674 160px,#7f2672 162px,#852770 164px,#7d2673 168px,#792674 170px,#7d2673 172px,#812771 174px,#7d2673 176px,#742674 178px,#712775 180px,#752674 182px,#772674 184px,#702775 186px,#682876 188px,#662876 190px,#6a2775 192px,#692775 194px,#612876 196px,#5a2975 198px,#592975 200px,#5c2975 202px,#582975 204px,#4f2a73 206px,#482971 208px,#452970 210px,#41286e 212px,#372669 214px,#2b205d 216px,#221b50 218px,#1b1643 220px,#151135 222px,#0e0b26 224px,#09071b 226px,#060514 228px,#050410 230px,#03030d 232px,#03020b 234px,#020209 236px,#020108 238px,#010108 240px,#010107 242px,#010106 256px,#010106 292px)"></div>
<div style="position:absolute;left:738px;top:787px;width:293px;height:2px;background:linear-gradient(90deg,#08071a 0px,#09071a 2px,#09071b 4px,#09071c 10px,#09081d 14px,#0a081d 16px,#0a081e 18px,#0a081f 22px,#0b081f 24px,#0b0920 26px,#0b0921 30px,#0c0922 32px,#0c0a22 34px,#0c0a23 36px,#0d0a24 38px,#0d0b25 40px,#0e0b26 42px,#0e0b27 44px,#0f0c28 46px,#0f0c29 48px,#100d2b 50px,#110e2d 52px,#120f2f 54px,#131031 56px,#141134 58px,#161338 60px,#18143c 62px,#1a153f 64px,#1c1743 66px,#1e1848 68px,#201a4c 70px,#211b4e 72px,#211b4f 74px,#221b51 76px,#241d55 78px,#261e57 80px,#261e58 82px,#271e59 84px,#2b205d 86px,#312363 88px,#362568 90px,#38266a 92px,#3c276b 94px,#43286f 96px,#4b2a73 98px,#4d2a73 100px,#4c2a73 102px,#4e2a73 104px,#552974 106px,#5b2975 108px,#5a2975 110px,#572975 112px,#5a2975 114px,#632876 116px,#672876 118px,#642876 120px,#622876 122px,#672876 124px,#702775 126px,#722775 128px,#6d2775 130px,#6c2775 132px,#722775 134px,#792674 136px,#782674 138px,#722775 140px,#792674 144px,#7e2673 146px,#7a2674 148px,#742775 150px,#752674 152px,#7c2673 154px,#7e2672 156px,#782674 158px,#732775 160px,#762674 162px,#7d2673 164px,#7c2673 166px,#752674 168px,#712775 170px,#752674 172px,#7a2674 174px,#762674 176px,#6e2775 178px,#6b2775 180px,#6f2775 182px,#712775 184px,#6b2775 186px,#632876 188px,#622876 190px,#652876 192px,#5e2875 196px,#572975 198px,#5a2975 202px,#562974 204px,#4e2a73 206px,#472971 208px,#452970 210px,#41286e 212px,#372669 214px,#2c215e 216px,#231c51 218px,#1c1744 220px,#151236 222px,#0e0c27 224px,#09071c 226px,#070516 228px,#050411 230px,#04030e 232px,#03020c 234px,#02020a 236px,#020209 238px,#020109 240px,#020108 242px,#010108 250px,#010108 292px)"></div>
<div style="position:absolute;left:738px;top:789px;width:293px;height:2px;background:linear-gradient(90deg,#08071a 0px,#09071a 4px,#09071b 6px,#09071c 10px,#09081d 14px,#0a081d 16px,#0a081e 18px,#0a081f 22px,#0b081f 24px,#0b0920 26px,#0b0921 30px,#0c0922 32px,#0c0a22 34px,#0c0a23 36px,#0d0a24 38px,#0d0b25 40px,#0e0b26 42px,#0e0b27 44px,#0e0c28 46px,#0f0c29 48px,#100d2b 50px,#110e2d 52px,#120f2f 54px,#131031 56px,#141134 58px,#161338 60px,#18143c 62px,#1a153f 64px,#1c1743 66px,#1e1848 68px,#201a4c 70px,#211a4e 72px,#211b4f 74px,#221b51 76px,#241d54 78px,#261e57 80px,#261e58 82px,#271e59 84px,#2b205d 86px,#312363 88px,#352567 90px,#382669 92px,#3b276b 94px,#42286f 96px,#4a2a72 98px,#4c2a73 100px,#4a2a73 102px,#4c2a73 104px,#532974 106px,#582975 108px,#572975 110px,#542974 112px,#572975 114px,#5e2876 116px,#622876 118px,#5f2876 120px,#5d2875 122px,#612876 124px,#692775 126px,#6b2775 128px,#662876 130px,#652876 132px,#6b2775 134px,#712775 136px,#702775 138px,#6b2775 140px,#6a2775 142px,#712775 144px,#752674 146px,#712775 148px,#6b2775 150px,#6d2775 152px,#732775 154px,#762674 156px,#702775 158px,#6b2775 160px,#6e2775 162px,#742674 164px,#742775 166px,#6d2775 168px,#692775 170px,#6d2775 172px,#722775 174px,#6e2775 176px,#672876 178px,#642876 180px,#682775 182px,#6b2775 184px,#652876 186px,#5e2875 188px,#5d2875 190px,#612876 192px,#5a2975 196px,#542974 198px,#552974 200px,#572975 202px,#552974 204px,#4c2a73 206px,#462971 208px,#442970 210px,#41286e 212px,#372669 214px,#2c215e 216px,#231c52 218px,#1d1746 220px,#161238 222px,#0f0c29 224px,#0a081e 226px,#070617 228px,#060513 230px,#050410 232px,#04030d 234px,#03020c 236px,#03020b 238px,#02020a 242px,#02020a 292px)"></div>
<div style="position:absolute;left:738px;top:791px;width:293px;height:2px;background:linear-gradient(90deg,#08071a 0px,#09071a 4px,#09071b 6px,#09071c 10px,#09081d 14px,#0a081d 16px,#0a081e 20px,#0a081f 22px,#0b081f 24px,#0b0920 26px,#0b0921 30px,#0c0922 32px,#0c0a22 34px,#0c0a23 36px,#0d0a24 38px,#0d0b25 40px,#0e0b26 44px,#0e0c27 46px,#0f0c29 48px,#100d2b 50px,#110e2c 52px,#120f2e 54px,#131031 56px,#141134 58px,#161238 60px,#18143c 62px,#1a153f 64px,#1b1643 66px,#1e1847 68px,#201a4c 70px,#211a4d 72px,#211a4e 74px,#221b50 76px,#241c53 78px,#251d56 80px,#261e58 84px,#2a205c 86px,#302362 88px,#342566 90px,#362668 92px,#39266a 94px,#40286e 96px,#472971 98px,#492a72 100px,#472971 102px,#492a72 104px,#4f2a73 106px,#542974 108px,#522974 110px,#4f2a74 112px,#522974 114px,#582975 116px,#5c2975 118px,#592975 120px,#562974 122px,#5a2975 124px,#612876 126px,#632876 128px,#5e2876 130px,#5d2875 132px,#622876 134px,#682775 136px,#672876 138px,#612876 140px,#672876 144px,#6b2775 146px,#682876 148px,#622876 150px,#632876 152px,#6a2775 154px,#6c2775 156px,#662876 158px,#622876 160px,#642876 162px,#6a2775 164px,#642876 168px,#602876 170px,#642876 172px,#682775 174px,#652876 176px,#5e2876 178px,#5c2875 180px,#612876 182px,#632876 184px,#5e2875 186px,#572975 188px,#5b2975 192px,#552974 196px,#502a74 198px,#512a74 200px,#542974 202px,#512974 204px,#4a2a72 206px,#452970 208px,#43286f 210px,#40286d 212px,#372669 214px,#2c215e 216px,#241c53 218px,#1d1847 220px,#171339 222px,#100d2b 224px,#0b0920 226px,#080619 228px,#070515 230px,#050412 232px,#040410 234px,#04030e 236px,#04030d 238px,#03030d 240px,#03030c 242px,#03020c 244px,#03020c 292px)"></div>
<div style="position:absolute;left:738px;top:793px;width:293px;height:2px;background:linear-gradient(90deg,#08071a 0px,#09071a 4px,#09071b 6px,#09071c 10px,#09081c 14px,#0a081d 16px,#0a081e 20px,#0a081f 24px,#0b0920 26px,#0b0921 30px,#0c0921 32px,#0c0a22 34px,#0c0a23 36px,#0d0a24 38px,#0d0b24 40px,#0d0b25 42px,#0e0b26 44px,#0e0c27 46px,#0f0c29 48px,#100d2a 50px,#110e2c 52px,#110e2e 54px,#130f30 56px,#141134 58px,#161237 60px,#18143b 62px,#19153e 64px,#1b1641 66px,#1d1746 68px,#1f194a 70px,#20194b 72px,#201a4c 74px,#211a4d 76px,#221b51 78px,#231c53 80px,#241c53 82px,#241d54 84px,#271f59 86px,#2d215f 88px,#312363 90px,#332465 92px,#352567 94px,#3b276b 96px,#42286e 98px,#43286f 100px,#42286e 102px,#43286f 104px,#482971 106px,#4c2a73 108px,#4a2a73 110px,#472971 112px,#492a72 114px,#4f2a74 116px,#522974 118px,#4f2a74 120px,#4c2a73 122px,#502a74 124px,#562974 126px,#572975 128px,#532974 130px,#522974 132px,#562974 134px,#5c2975 136px,#5a2975 138px,#552974 140px,#5a2975 144px,#5e2875 146px,#5b2975 148px,#562974 150px,#572975 152px,#5c2875 154px,#5e2876 156px,#5a2975 158px,#552974 160px,#582975 162px,#5d2875 164px,#572975 168px,#542974 170px,#582975 172px,#5c2975 174px,#592975 176px,#532974 178px,#522974 180px,#562974 182px,#582975 184px,#542974 186px,#4e2a73 188px,#522974 192px,#4d2a73 196px,#492a72 198px,#4a2a72 200px,#4d2a73 202px,#4b2a73 204px,#452970 206px,#40286e 208px,#3f286d 210px,#3c276c 212px,#342566 214px,#2b205d 216px,#231c51 218px,#1d1846 220px,#171339 222px,#100e2c 224px,#0b0921 226px,#09071b 228px,#070617 230px,#060514 232px,#050412 234px,#050410 236px,#040410 238px,#04030f 240px,#04030e 246px,#04030e 292px)"></div>
<div style="position:absolute;left:738px;top:795px;width:293px;height:2px;background:linear-gradient(90deg,#080719 0px,#08071a 2px,#09071a 4px,#09071b 6px,#09071c 12px,#0a081d 16px,#0a081e 20px,#0a081f 24px,#0b091f 26px,#0b0920 28px,#0b0921 30px,#0c0a22 34px,#0c0a23 36px,#0d0a24 40px,#0d0b25 42px,#0e0b26 44px,#0e0c27 46px,#0f0c28 48px,#0f0d2a 50px,#100d2b 52px,#110e2d 54px,#120f2f 56px,#131032 58px,#151136 60px,#171339 62px,#18143c 64px,#19153e 66px,#1b1642 68px,#1d1746 70px,#1d1847 72px,#1e1848 76px,#1f194b 78px,#201a4c 80px,#201a4d 84px,#231c52 86px,#271e59 88px,#2a205c 90px,#2c215e 92px,#2e2260 94px,#322464 96px,#372669 98px,#38266a 100px,#362668 102px,#372669 104px,#3b276b 106px,#3f286d 108px,#3d276c 110px,#3b276b 112px,#3c276c 114px,#41286e 116px,#43286f 118px,#40286e 120px,#3e276d 122px,#41286e 124px,#452970 126px,#462970 128px,#43286f 130px,#41286e 132px,#452970 134px,#492a72 136px,#482971 138px,#442970 140px,#44296f 142px,#482971 144px,#4a2a73 146px,#482971 148px,#442970 150px,#452970 152px,#492a72 154px,#4a2a73 156px,#472971 158px,#44296f 160px,#462970 162px,#4a2a72 164px,#452970 168px,#43286f 170px,#462970 172px,#492a72 174px,#472971 176px,#43286f 178px,#42286e 180px,#452970 182px,#472971 184px,#44296f 186px,#40286d 188px,#43286f 192px,#44296f 194px,#40286e 196px,#3d276c 198px,#3e276c 200px,#40286e 202px,#3f286d 204px,#3a276b 206px,#372669 208px,#362568 210px,#342566 212px,#2e2260 214px,#261e58 216px,#201a4c 218px,#1b1642 220px,#151236 222px,#100d2b 224px,#0b0921 226px,#09071c 228px,#080618 230px,#070516 232px,#060514 234px,#060412 236px,#050412 238px,#050411 240px,#050411 292px)"></div>
<div style="position:absolute;left:738px;top:797px;width:293px;height:2px;background:linear-gradient(90deg,#080719 0px,#08071a 2px,#09071a 6px,#09071b 8px,#09071c 12px,#09081d 16px,#0a081d 18px,#0a081e 22px,#0a081f 24px,#0b081f 26px,#0b0920 28px,#0b0921 32px,#0c0922 34px,#0c0a22 36px,#0c0a23 38px,#0d0a24 40px,#0d0b24 42px,#0d0b25 44px,#0e0b26 46px,#0e0c27 48px,#0f0c29 50px,#100d2a 52px,#100d2c 54px,#110e2d 56px,#120f30 58px,#141032 60px,#151135 62px,#161237 64px,#171339 66px,#18143c 68px,#19153e 70px,#19153f 72px,#1a153f 76px,#1a1640 78px,#1a1641 80px,#1a1540 82px,#1c1743 86px,#1e1949 88px,#201a4d 90px,#211a4e 92px,#221b50 94px,#251d55 96px,#281f5a 98px,#271e59 102px,#271f59 104px,#2a205c 106px,#2c215e 108px,#2b205d 110px,#29205b 112px,#2a205c 114px,#2d215f 116px,#2e2260 118px,#2c215e 120px,#2b205d 122px,#2d215f 124px,#2f2261 126px,#302362 128px,#2e2260 130px,#2d215f 132px,#2f2261 134px,#312363 136px,#2e2260 140px,#302362 144px,#322464 146px,#312363 148px,#2e2260 150px,#2f2261 152px,#312363 154px,#322464 156px,#302362 158px,#2e2260 160px,#2f2261 162px,#322464 164px,#322364 166px,#2f2261 168px,#2e2260 170px,#302262 172px,#322364 174px,#312363 176px,#2e2260 178px,#2d215f 180px,#2f2261 182px,#312363 184px,#2f2261 186px,#2c215e 188px,#2d215f 190px,#2f2261 192px,#302262 194px,#2d215f 196px,#2b215d 198px,#2c215e 200px,#2e2260 202px,#2b205d 206px,#291f5b 208px,#281f5a 210px,#271f59 212px,#231c53 214px,#1e1848 216px,#1a1540 218px,#161238 220px,#120f2f 222px,#0e0b26 224px,#0a081f 226px,#09071b 228px,#080618 230px,#070616 232px,#060515 234px,#060514 236px,#060513 240px,#060513 292px)"></div>
<div style="position:absolute;left:738px;top:799px;width:293px;height:2px;background:linear-gradient(90deg,#080619 0px,#080719 2px,#08071a 4px,#09071a 6px,#09071b 8px,#09071c 14px,#0a081d 18px,#0a081e 22px,#0a081f 26px,#0b091f 28px,#0b0920 30px,#0b0921 32px,#0c0a22 36px,#0c0a23 40px,#0d0a24 42px,#0d0b25 44px,#0e0b26 48px,#0e0c27 50px,#0f0c28 52px,#0f0d2a 54px,#100d2b 56px,#110e2c 58px,#120f2e 60px,#120f30 62px,#131031 64px,#141032 66px,#141134 68px,#151135 70px,#141134 74px,#141133 76px,#141032 80px,#130f31 82px,#120f2f 84px,#130f31 86px,#141033 88px,#151135 90px,#151236 94px,#171339 96px,#18143c 98px,#17143b 102px,#19153e 106px,#1a153f 108px,#19153e 110px,#18143c 112px,#19143d 114px,#1a1540 116px,#1b1641 118px,#1a153f 120px,#19153e 122px,#1a153f 124px,#1b1642 126px,#1a1540 130px,#1a153f 132px,#1b1641 134px,#1c1744 136px,#1b1643 138px,#1a1640 140px,#1a1540 142px,#1b1643 144px,#1c1744 146px,#1b1643 148px,#1a1640 150px,#1a1641 152px,#1c1744 154px,#1b1642 158px,#1a1640 160px,#1b1642 162px,#1c1744 164px,#1b1642 168px,#1a1640 170px,#1b1642 172px,#1c1744 174px,#1c1743 176px,#1a1641 178px,#1a1540 180px,#1b1642 182px,#1c1744 184px,#1b1642 186px,#1a1540 188px,#1a1641 190px,#1c1743 192px,#1c1744 194px,#1b1642 196px,#1a1641 198px,#1b1642 200px,#1c1745 202px,#1c1744 204px,#1b1642 206px,#1a1540 208px,#1a153f 212px,#18143b 214px,#151135 216px,#120f2f 218px,#100d2a 220px,#0d0b25 222px,#0b091f 224px,#09071b 226px,#080619 228px,#070617 230px,#070616 232px,#070515 234px,#060515 238px,#060514 244px,#060515 248px,#060515 292px)"></div>
<div style="position:absolute;left:738px;top:801px;width:293px;height:2px;background:linear-gradient(90deg,#080619 0px,#080719 2px,#08071a 4px,#09071a 8px,#09071b 10px,#09071c 14px,#09081c 18px,#0a081d 20px,#0a081e 24px,#0a081f 28px,#0b091f 30px,#0b0920 32px,#0b0921 34px,#0c0921 36px,#0c0a22 38px,#0c0a23 40px,#0d0a24 44px,#0d0b25 46px,#0e0b26 50px,#0e0c27 52px,#0f0c28 54px,#0f0c29 56px,#0f0d2a 58px,#100d2b 60px,#110e2c 64px,#110e2d 66px,#110e2c 72px,#100d2b 74px,#0f0d29 76px,#0f0c28 78px,#0e0b26 80px,#0c0a23 82px,#0b0921 84px,#0b0920 86px,#0b091f 92px,#0a081f 94px,#0b0920 96px,#0b0921 98px,#0b0920 102px,#0b0921 106px,#0c0922 108px,#0b0921 110px,#0b0920 112px,#0c0922 116px,#0c0a22 118px,#0b0921 120px,#0b0920 122px,#0b0921 124px,#0c0a22 126px,#0c0a23 128px,#0c0921 130px,#0b0921 132px,#0c0a22 134px,#0c0a23 136px,#0c0921 140px,#0b0921 142px,#0c0a23 144px,#0d0a23 146px,#0c0a23 148px,#0c0921 150px,#0c0922 152px,#0c0a23 154px,#0d0a24 156px,#0c0a22 158px,#0c0921 160px,#0c0a22 162px,#0d0a23 164px,#0d0a24 166px,#0c0a22 168px,#0c0921 170px,#0c0a23 172px,#0d0a24 174px,#0d0a23 176px,#0c0a22 178px,#0d0a23 182px,#0d0b24 184px,#0d0a24 186px,#0c0a23 188px,#0d0b25 192px,#0e0b26 194px,#0d0b25 196px,#0e0b26 200px,#0f0c28 202px,#0f0c29 204px,#0f0c28 206px,#0e0c27 208px,#0f0c28 210px,#0e0b26 214px,#0c0a23 216px,#0b0921 218px,#0a081f 220px,#09071c 222px,#08071a 224px,#080618 226px,#070617 228px,#070616 230px,#070516 234px,#070515 238px,#070516 244px,#070516 292px)"></div>
<div style="position:absolute;left:738px;top:803px;width:293px;height:2px;background:linear-gradient(90deg,#080618 0px,#080619 2px,#080719 4px,#08071a 6px,#09071a 10px,#09071b 12px,#09071c 16px,#09081c 20px,#0a081d 22px,#0a081e 26px,#0a081f 30px,#0b091f 32px,#0b0920 34px,#0b0921 36px,#0c0a22 40px,#0c0a23 44px,#0d0a24 46px,#0d0b24 48px,#0d0b25 50px,#0e0b26 52px,#0e0c27 56px,#0f0c28 60px,#0f0c29 64px,#0f0c28 68px,#0e0b27 72px,#0d0b25 74px,#0c0a23 76px,#0b0921 78px,#0a081e 80px,#09071b 82px,#080619 84px,#070617 86px,#070616 88px,#070515 90px,#060514 92px,#060513 94px,#050412 100px,#050411 104px,#050412 106px,#050411 110px,#050412 118px,#050411 120px,#050412 126px,#050411 130px,#050412 136px,#050411 140px,#050412 144px,#050411 150px,#050412 154px,#050411 158px,#050412 164px,#050411 170px,#050412 172px,#060412 174px,#050412 178px,#060513 182px,#060514 190px,#060515 192px,#070515 194px,#070516 198px,#070617 200px,#080618 202px,#080619 206px,#08071a 210px,#09071a 212px,#08071a 214px,#080719 216px,#080619 218px,#080618 220px,#070617 224px,#070616 226px,#070516 230px,#070616 240px,#070616 292px)"></div>
<div style="position:absolute;left:738px;top:805px;width:293px;height:2px;background:linear-gradient(90deg,#080618 0px,#080619 4px,#080719 8px,#08071a 10px,#09071a 12px,#09071b 14px,#09071c 20px,#0a081d 24px,#0a081e 28px,#0a081f 32px,#0b091f 34px,#0b0920 36px,#0b0921 40px,#0c0922 42px,#0c0a22 44px,#0c0a23 46px,#0d0a24 50px,#0d0b24 52px,#0d0b25 54px,#0e0b26 58px,#0d0b25 70px,#0d0a23 72px,#0c0922 74px,#0b091f 76px,#0a081d 78px,#09071a 80px,#080618 82px,#070515 84px,#060513 86px,#050411 88px,#050410 90px,#04030e 92px,#03030d 94px,#03030c 96px,#03020c 98px,#03020b 100px,#02020a 104px,#020209 122px,#02020a 124px,#020209 132px,#02020a 134px,#020209 142px,#02020a 144px,#03020b 176px,#02020a 178px,#03020b 180px,#03020c 186px,#03030c 190px,#03030d 192px,#04030e 194px,#04030f 198px,#04040f 200px,#050410 202px,#050411 204px,#050412 206px,#060413 208px,#060513 210px,#060514 212px,#060515 214px,#070515 218px,#070516 232px,#070616 238px,#070617 254px,#070617 292px)"></div>
<div style="position:absolute;left:738px;top:807px;width:293px;height:2px;background:linear-gradient(90deg,#070617 0px,#080618 2px,#080619 8px,#080719 10px,#08071a 12px,#09071a 16px,#09071b 18px,#09071c 22px,#09081c 26px,#0a081d 28px,#0a081e 32px,#0a081f 36px,#0b091f 38px,#0b0920 40px,#0b0921 42px,#0c0922 46px,#0c0a22 48px,#0c0a23 50px,#0d0a24 54px,#0d0b24 58px,#0d0b25 60px,#0d0b24 66px,#0d0a24 68px,#0c0a23 70px,#0c0921 72px,#0b091f 74px,#0a081d 76px,#09071b 78px,#080618 80px,#070516 82px,#060513 84px,#050411 86px,#04030f 88px,#04030d 90px,#03020c 92px,#02020a 94px,#020109 98px,#020108 100px,#010108 102px,#010107 104px,#010106 114px,#010107 116px,#010106 118px,#010107 164px,#010108 182px,#020108 184px,#020109 188px,#020209 190px,#02020a 192px,#03020b 196px,#03030c 200px,#04030d 202px,#04030e 204px,#04030f 206px,#050410 208px,#050411 210px,#050412 214px,#060513 216px,#060514 220px,#060515 226px,#070515 230px,#070516 236px,#070616 240px,#070617 282px,#070617 292px)"></div>
<div style="position:absolute;left:738px;top:809px;width:293px;height:2px;background:linear-gradient(90deg,#070617 0px,#080618 6px,#080619 12px,#08071a 16px,#09071a 20px,#09071b 22px,#09071c 26px,#09081c 30px,#0a081d 32px,#0a081e 36px,#0a081f 40px,#0b091f 42px,#0b0920 44px,#0b0921 48px,#0c0921 50px,#0c0a22 52px,#0c0a23 56px,#0c0a22 68px,#0b0921 70px,#0b0920 72px,#0a081e 74px,#09071c 76px,#08071a 78px,#070617 80px,#060514 82px,#050412 84px,#040410 86px,#04030e 88px,#03020c 90px,#02020a 92px,#020209 94px,#020108 96px,#010108 98px,#010107 100px,#010106 102px,#010006 108px,#010005 110px,#000005 112px,#010005 170px,#010006 174px,#010106 176px,#010107 184px,#010108 190px,#020108 192px,#020109 194px,#020209 196px,#02020a 198px,#03020b 200px,#03020c 202px,#03030d 204px,#04030d 206px,#04030e 208px,#04030f 210px,#050410 212px,#050411 214px,#050412 218px,#060413 220px,#060513 222px,#060514 226px,#060515 232px,#070515 236px,#070516 244px,#070616 258px,#070616 292px)"></div>
<div style="position:absolute;left:738px;top:811px;width:293px;height:2px;background:linear-gradient(90deg,#070516 0px,#070616 2px,#070617 6px,#080618 12px,#080619 18px,#080719 20px,#08071a 22px,#09071a 26px,#09071b 28px,#09071c 32px,#09081d 36px,#0a081d 38px,#0a081e 42px,#0a081f 46px,#0b091f 48px,#0b0920 50px,#0b0921 54px,#0c0921 58px,#0b0921 66px,#0b0920 68px,#0b091f 70px,#0a081e 72px,#09081c 74px,#09071b 76px,#080619 78px,#070616 80px,#060513 82px,#050411 84px,#04030f 86px,#03030d 88px,#03020b 90px,#02020a 92px,#020109 94px,#010108 96px,#010107 98px,#010106 100px,#010005 104px,#000005 106px,#000004 120px,#000005 160px,#010005 180px,#010106 182px,#010107 188px,#020108 194px,#020109 196px,#020209 198px,#02020a 200px,#03020b 202px,#03020c 204px,#03030c 206px,#04030d 208px,#04030e 210px,#04030f 212px,#050410 214px,#050411 218px,#050412 220px,#060413 224px,#060513 226px,#060514 230px,#060515 240px,#070515 252px,#070515 292px)"></div>
<div style="position:absolute;left:738px;top:813px;width:293px;height:2px;background:linear-gradient(90deg,#060515 0px,#070515 2px,#070516 6px,#070616 8px,#070617 12px,#080618 18px,#080619 24px,#080719 28px,#08071a 30px,#09071a 32px,#09071b 34px,#09071c 40px,#09081d 44px,#0a081d 46px,#0a081e 50px,#0a081f 54px,#0b081f 58px,#0b091f 60px,#0b081f 64px,#0a081f 66px,#0a081e 68px,#0a081d 70px,#09071c 72px,#09071b 74px,#080719 76px,#070617 78px,#060515 80px,#060412 82px,#050410 84px,#04030e 86px,#03030c 88px,#03020b 90px,#020209 92px,#020108 94px,#010107 96px,#010106 100px,#010006 102px,#000005 104px,#000004 112px,#000005 170px,#010005 182px,#010006 184px,#010106 186px,#010107 190px,#010108 194px,#020108 196px,#020109 198px,#020209 200px,#02020a 202px,#03020b 204px,#03020c 206px,#03030c 208px,#04030d 210px,#04030e 212px,#04030f 214px,#04040f 216px,#050410 218px,#050411 220px,#050412 226px,#060412 230px,#060513 232px,#060514 246px,#060514 292px)"></div>
<div style="position:absolute;left:738px;top:815px;width:293px;height:2px;background:linear-gradient(90deg,#060513 0px,#060514 2px,#060515 8px,#070515 12px,#070516 16px,#070616 18px,#070617 22px,#080618 26px,#080619 32px,#080719 36px,#08071a 38px,#09071a 42px,#09071b 44px,#09071c 48px,#09081d 54px,#0a081d 56px,#09071c 68px,#09071a 72px,#080719 74px,#080618 76px,#070516 78px,#060514 80px,#050411 82px,#04030f 84px,#04030d 86px,#03020c 88px,#02020a 90px,#020109 92px,#010108 94px,#010107 96px,#010106 98px,#010005 102px,#000005 104px,#000004 110px,#000005 174px,#010005 184px,#010006 186px,#010106 188px,#010107 192px,#010108 196px,#020108 198px,#020109 200px,#020209 202px,#02020a 204px,#03020b 206px,#03020c 208px,#03030c 210px,#03030d 212px,#04030e 214px,#04030f 218px,#050410 222px,#050411 228px,#050412 236px,#050412 292px)"></div>
<div style="position:absolute;left:738px;top:817px;width:293px;height:2px;background:linear-gradient(90deg,#050412 0px,#060413 4px,#060513 6px,#060514 12px,#060515 18px,#070515 22px,#070516 26px,#070616 28px,#070617 32px,#080618 38px,#080619 44px,#080719 46px,#08071a 50px,#09071a 52px,#09071b 56px,#08071a 68px,#080719 70px,#080618 72px,#070617 74px,#070616 76px,#060514 78px,#050412 80px,#050410 82px,#04030e 84px,#03030c 86px,#03020b 88px,#020209 90px,#020108 92px,#010107 94px,#010106 98px,#010006 100px,#000005 102px,#000004 110px,#000005 176px,#010005 186px,#010106 188px,#010107 194px,#010108 198px,#020108 200px,#020109 202px,#020209 204px,#02020a 206px,#03020b 208px,#03020c 212px,#03030c 214px,#03030d 216px,#04030d 218px,#04030e 220px,#04030f 224px,#04040f 232px,#040410 234px,#050410 236px,#050410 292px)"></div>
<div style="position:absolute;left:738px;top:819px;width:293px;height:2px;background:linear-gradient(90deg,#050411 0px,#050412 10px,#060412 16px,#060513 18px,#060514 24px,#060515 32px,#070515 34px,#070516 38px,#070616 40px,#070617 44px,#080618 52px,#070617 70px,#070616 72px,#070515 74px,#060514 76px,#060412 78px,#050411 80px,#04030f 82px,#04030d 84px,#03020c 86px,#02020a 88px,#020209 90px,#010108 92px,#010107 94px,#010106 96px,#010005 100px,#000005 102px,#000004 108px,#000005 178px,#010005 188px,#010006 190px,#010106 192px,#010107 196px,#020108 202px,#020209 206px,#02020a 210px,#03020b 214px,#03020c 218px,#03030c 220px,#03030d 224px,#04030d 228px,#04030e 232px,#04030e 292px)"></div>
<div style="position:absolute;left:738px;top:821px;width:293px;height:2px;background:linear-gradient(90deg,#04030f 0px,#04040f 4px,#040410 6px,#050410 8px,#050411 16px,#050412 24px,#060412 30px,#060513 32px,#060514 40px,#060515 46px,#070515 50px,#070516 54px,#070616 60px,#070516 64px,#070515 68px,#060515 70px,#060514 72px,#060513 74px,#050412 76px,#050411 78px,#04030f 80px,#04030d 82px,#03020c 84px,#03020b 86px,#020209 88px,#020108 90px,#010107 92px,#010106 96px,#010006 98px,#000005 100px,#000004 108px,#000005 180px,#010006 192px,#010106 194px,#010107 200px,#010108 204px,#020108 206px,#020109 210px,#020209 212px,#02020a 214px,#03020b 220px,#03020c 230px,#03030c 244px,#03030c 292px)"></div>
<div style="position:absolute;left:738px;top:823px;width:293px;height:2px;background:linear-gradient(90deg,#04030d 0px,#04030e 2px,#04030f 12px,#04040f 22px,#050410 24px,#050411 32px,#050412 40px,#060412 48px,#060513 50px,#060412 70px,#050412 72px,#050411 74px,#050410 76px,#04030f 78px,#04030d 80px,#03030c 82px,#03020b 84px,#02020a 86px,#020109 88px,#010108 90px,#010107 92px,#010106 94px,#010005 98px,#000005 100px,#000004 106px,#000005 184px,#010005 194px,#010006 196px,#010106 198px,#010107 204px,#010108 210px,#020108 212px,#020109 216px,#020209 220px,#02020a 226px,#02020a 292px)"></div>
<div style="position:absolute;left:738px;top:825px;width:293px;height:2px;background:linear-gradient(90deg,#03020c 0px,#03030c 4px,#03030d 8px,#04030d 16px,#04030e 22px,#04030f 32px,#040410 42px,#050410 44px,#050411 54px,#050410 68px,#040410 72px,#04030f 74px,#04030e 76px,#04030d 78px,#03020c 80px,#03020b 82px,#02020a 84px,#020109 86px,#010108 88px,#010107 90px,#010106 92px,#010005 96px,#000005 98px,#000004 106px,#000005 186px,#010005 198px,#010006 200px,#010106 202px,#010107 208px,#010108 218px,#020108 222px,#020109 234px,#020109 292px)"></div>
<div style="position:absolute;left:738px;top:827px;width:293px;height:2px;background:linear-gradient(90deg,#03020b 0px,#03020c 16px,#03030c 24px,#03030d 30px,#04030d 38px,#04030e 42px,#04030f 56px,#04030e 66px,#03030d 74px,#03030c 76px,#03020c 78px,#03020b 80px,#02020a 82px,#020109 84px,#020108 86px,#010107 88px,#010106 92px,#010006 94px,#000005 96px,#000004 104px,#000005 190px,#010005 202px,#010106 206px,#010107 218px,#010107 292px)"></div>
<svg width="1055" height="969" viewBox="0 0 1055 969">
<path d="M738.3 536.8h-4.8M738.3 598.6h-4.8M738.3 660.4h-4.8M738.3 722.1h-4.8M738.3 783.9h-4.8M738.3 845.7h-4.8M738.3 907.5h-4.8M793.1 907.5v4.8M884.7 907.5v4.8M976.3 907.5v4.8" stroke="#1a1a1a" stroke-width="1.3"/>
<text x="-1.81" y="22.0" font-size="29.5" fill="#231f20" stroke="#231f20" stroke-width="0.2" textLength="32.57" lengthAdjust="spacingAndGlyphs">(a)</text>
<text x="52.5" y="45.7" font-size="22.5" fill="#f15a29" stroke="#f15a29" stroke-width="0.2" textLength="81.31" lengthAdjust="spacingAndGlyphs">800 nm,</text>
<text x="38.3" y="73.5" font-size="22.5" fill="#f15a29" stroke="#f15a29" stroke-width="0.2" textLength="109.13" lengthAdjust="spacingAndGlyphs">45 fs, 1 kHz</text>
<text x="106.58" y="157.2" font-size="22.5" fill="#231f20" stroke="#231f20" stroke-width="0.2" textLength="37.03" lengthAdjust="spacingAndGlyphs">DM</text>
<text x="93.74" y="225.3" font-size="22.5" fill="#231f20" stroke="#231f20" stroke-width="0.2" textLength="41.83" lengthAdjust="spacingAndGlyphs">BBO</text>
<text x="223.72" y="384.2" font-size="22.5" fill="#231f20" stroke="#231f20" stroke-width="0.2" textLength="61.0" lengthAdjust="spacingAndGlyphs">Mirror</text>
<text x="98.21" y="447.3" font-size="22.5" fill="#231f20" stroke="#231f20" stroke-width="0.2" textLength="61.52" lengthAdjust="spacingAndGlyphs">Mirror</text>
<text x="353.7" y="68.4" font-size="22.5" fill="#231f20" stroke="#231f20" stroke-width="0.2" textLength="41.38" lengthAdjust="spacingAndGlyphs">OPA</text>
<text x="312.9" y="96.1" font-size="22.5" fill="#231f20" stroke="#231f20" stroke-width="0.2" textLength="125.38" lengthAdjust="spacingAndGlyphs">TOPAS Prime</text>
<text x="631.48" y="69.6" font-size="22.5" fill="#231f20" stroke="#231f20" stroke-width="0.2" textLength="142.31" lengthAdjust="spacingAndGlyphs">Coherent light</text>
<text x="633.0" y="97.7" font-size="22.5" fill="#231f20" stroke="#231f20" stroke-width="0.2" textLength="141.3" lengthAdjust="spacingAndGlyphs">1600 nm, 70 fs</text>
<text x="617.45" y="142.5" font-size="22.5" fill="#231f20" stroke="#231f20" stroke-width="0.2" textLength="169.23" lengthAdjust="spacingAndGlyphs">Single-mode BSV</text>
<text x="632.5" y="171.9" font-size="22.5" fill="#231f20" stroke="#231f20" stroke-width="0.2" textLength="141.4" lengthAdjust="spacingAndGlyphs">1600 nm, 25 fs</text>
<text x="608.72" y="213.2" font-size="22.5" fill="#231f20" stroke="#231f20" stroke-width="0.2" textLength="44.46" lengthAdjust="spacingAndGlyphs">MgF</text>
<text x="652.49" y="221.5" font-size="14.5" fill="#231f20" stroke="#231f20" stroke-width="0.2" textLength="7.39" lengthAdjust="spacingAndGlyphs">2</text>
<text x="759.03" y="243.4" font-size="22.5" fill="#231f20" stroke="#231f20" stroke-width="0.2" textLength="96.05" lengthAdjust="spacingAndGlyphs">SH- FROG</text>
<text x="945.28" y="254.0" font-size="22.5" fill="#231f20" stroke="#231f20" stroke-width="0.2" textLength="102.38" lengthAdjust="spacingAndGlyphs">Flip mirror</text>
<text x="483.85" y="370.6" font-size="22.5" fill="#231f20" stroke="#231f20" stroke-width="0.2" textLength="115.97" lengthAdjust="spacingAndGlyphs">UV detector</text>
<text x="803.52" y="314.2" font-size="22.5" fill="#231f20" stroke="#231f20" stroke-width="0.2" textLength="74.75" lengthAdjust="spacingAndGlyphs">Sample</text>
<text x="758.61" y="399.2" font-size="22.5" fill="#231f20" stroke="#231f20" stroke-width="0.2" textLength="42.47" lengthAdjust="spacingAndGlyphs">OAP</text>
<text x="968.41" y="399.2" font-size="22.5" fill="#231f20" stroke="#231f20" stroke-width="0.2" textLength="42.26" lengthAdjust="spacingAndGlyphs">OAP</text>
<g transform="translate(1017.2 165.4) rotate(-90)"><text x="-1.93" y="0" font-size="23.0" fill="#231f20" stroke="#231f20" stroke-width="0.2" textLength="108.51" lengthAdjust="spacingAndGlyphs">IR detector</text></g>
<text x="-2.02" y="462.0" font-size="29.5" fill="#231f20" stroke="#231f20" stroke-width="0.2" textLength="36.51" lengthAdjust="spacingAndGlyphs">(b)</text>
<text x="160.74" y="484.6" font-size="24.2" fill="#1a1a1a" stroke="#1a1a1a" stroke-width="0.3" textLength="13.57" lengthAdjust="spacingAndGlyphs">0</text>
<text x="257.0" y="484.6" font-size="24.2" fill="#1a1a1a" stroke="#1a1a1a" stroke-width="0.3" textLength="13.45" lengthAdjust="spacingAndGlyphs">2</text>
<text x="353.12" y="484.6" font-size="24.2" fill="#1a1a1a" stroke="#1a1a1a" stroke-width="0.3" textLength="11.88" lengthAdjust="spacingAndGlyphs">5</text>
<text x="449.15" y="484.6" font-size="24.2" fill="#1a1a1a" stroke="#1a1a1a" stroke-width="0.3" textLength="12.11" lengthAdjust="spacingAndGlyphs">7</text>
<text x="544.38" y="484.6" font-size="24.2" fill="#1a1a1a" stroke="#1a1a1a" stroke-width="0.3" textLength="12.33" lengthAdjust="spacingAndGlyphs">9</text>
<text x="225.51" y="461.2" font-size="27.0" fill="#1a1a1a" stroke="#1a1a1a" stroke-width="0.3" textLength="295.75" lengthAdjust="spacingAndGlyphs">Peak intensity (TW/cm</text>
<text x="521.14" y="451.2" font-size="18.4" fill="#1a1a1a" stroke="#1a1a1a" stroke-width="0.3" textLength="9.78" lengthAdjust="spacingAndGlyphs">2</text>
<text x="535.0" y="461.2" font-size="27.0" fill="#1a1a1a" stroke="#1a1a1a" stroke-width="0.3" textLength="7.65" lengthAdjust="spacingAndGlyphs">)</text>
<text x="83.59" y="506.2" font-size="24.2" fill="#1a1a1a" stroke="#1a1a1a" stroke-width="0.3" textLength="29.71" lengthAdjust="spacingAndGlyphs">10</text>
<text x="114.01" y="497.09999999999997" font-size="16.6" fill="#1a1a1a" stroke="#1a1a1a" stroke-width="0.3" textLength="9.12" lengthAdjust="spacingAndGlyphs">3</text>
<text x="83.59" y="608.9" font-size="24.2" fill="#1a1a1a" stroke="#1a1a1a" stroke-width="0.3" textLength="29.71" lengthAdjust="spacingAndGlyphs">10</text>
<text x="114.01" y="599.8000000000001" font-size="16.6" fill="#1a1a1a" stroke="#1a1a1a" stroke-width="0.3" textLength="9.12" lengthAdjust="spacingAndGlyphs">2</text>
<text x="83.59" y="711.6999999999999" font-size="24.2" fill="#1a1a1a" stroke="#1a1a1a" stroke-width="0.3" textLength="29.71" lengthAdjust="spacingAndGlyphs">10</text>
<text x="115.48" y="702.6" font-size="16.6" fill="#1a1a1a" stroke="#1a1a1a" stroke-width="0.3" textLength="7.62" lengthAdjust="spacingAndGlyphs">1</text>
<text x="83.59" y="814.3" font-size="24.2" fill="#1a1a1a" stroke="#1a1a1a" stroke-width="0.3" textLength="29.71" lengthAdjust="spacingAndGlyphs">10</text>
<text x="114.01" y="805.2" font-size="16.6" fill="#1a1a1a" stroke="#1a1a1a" stroke-width="0.3" textLength="9.12" lengthAdjust="spacingAndGlyphs">0</text>
<text x="70.29" y="916.6999999999999" font-size="24.2" fill="#1a1a1a" stroke="#1a1a1a" stroke-width="0.3" textLength="29.71" lengthAdjust="spacingAndGlyphs">10</text>
<text x="100.88" y="907.6" font-size="16.6" fill="#1a1a1a" stroke="#1a1a1a" stroke-width="0.3" textLength="23.15" lengthAdjust="spacingAndGlyphs">−1</text>
<text x="149.73" y="930.6" font-size="24.2" fill="#1a1a1a" stroke="#1a1a1a" stroke-width="0.3" textLength="35.94" lengthAdjust="spacingAndGlyphs">0.0</text>
<text x="245.48" y="930.6" font-size="24.2" fill="#1a1a1a" stroke="#1a1a1a" stroke-width="0.3" textLength="35.94" lengthAdjust="spacingAndGlyphs">0.5</text>
<text x="340.09" y="930.6" font-size="24.2" fill="#1a1a1a" stroke="#1a1a1a" stroke-width="0.3" textLength="37.1" lengthAdjust="spacingAndGlyphs">1.0</text>
<text x="435.84" y="930.6" font-size="24.2" fill="#1a1a1a" stroke="#1a1a1a" stroke-width="0.3" textLength="37.1" lengthAdjust="spacingAndGlyphs">1.5</text>
<text x="532.73" y="930.6" font-size="24.2" fill="#1a1a1a" stroke="#1a1a1a" stroke-width="0.3" textLength="35.94" lengthAdjust="spacingAndGlyphs">2.0</text>
<text x="224.62" y="959.4" font-size="27.0" fill="#1a1a1a" stroke="#1a1a1a" stroke-width="0.3" textLength="201.37" lengthAdjust="spacingAndGlyphs">Photon number</text>
<text x="434.82" y="959.4" font-size="27.0" font-style="italic" fill="#1a1a1a" stroke="#1a1a1a" stroke-width="0.3" textLength="19.19" lengthAdjust="spacingAndGlyphs">N</text>
<text x="461.08" y="959.4" font-size="27.0" fill="#1a1a1a" stroke="#1a1a1a" stroke-width="0.3" textLength="19.86" lengthAdjust="spacingAndGlyphs">×</text>
<text x="487.11" y="959.4" font-size="27.0" fill="#1a1a1a" stroke="#1a1a1a" stroke-width="0.3" textLength="32.94" lengthAdjust="spacingAndGlyphs">10</text>
<text x="521.66" y="949.3" font-size="18.4" fill="#1a1a1a" stroke="#1a1a1a" stroke-width="0.3" textLength="21.22" lengthAdjust="spacingAndGlyphs">13</text>
<g transform="translate(59.2 730.7) rotate(-90)"><text x="-0.99" y="0" font-size="27.0" fill="#1a1a1a" stroke="#1a1a1a" stroke-width="0.3" textLength="54.89" lengthAdjust="spacingAndGlyphs"><tspan font-style="italic">P</tspan>(<tspan font-style="italic">N</tspan>)</text></g>
<text x="651.79" y="462.0" font-size="28.5" fill="#1a1a1a" stroke="#1a1a1a" stroke-width="0.3" textLength="33.46" lengthAdjust="spacingAndGlyphs">(c)</text>
<text x="736.82" y="464.6" font-size="27.0" fill="#1a1a1a" stroke="#1a1a1a" stroke-width="0.3" textLength="295.59" lengthAdjust="spacingAndGlyphs">Intensity (norm. units)</text>
<text x="712.91" y="487.8" font-size="24.2" fill="#1a1a1a" stroke="#1a1a1a" stroke-width="0.3" textLength="51.37" lengthAdjust="spacingAndGlyphs">0.00</text>
<text x="785.98" y="487.8" font-size="24.2" fill="#1a1a1a" stroke="#1a1a1a" stroke-width="0.3" textLength="51.37" lengthAdjust="spacingAndGlyphs">0.25</text>
<text x="859.06" y="487.8" font-size="24.2" fill="#1a1a1a" stroke="#1a1a1a" stroke-width="0.3" textLength="51.37" lengthAdjust="spacingAndGlyphs">0.50</text>
<text x="932.13" y="487.8" font-size="24.2" fill="#1a1a1a" stroke="#1a1a1a" stroke-width="0.3" textLength="51.37" lengthAdjust="spacingAndGlyphs">0.75</text>
<text x="1004.07" y="487.8" font-size="24.2" fill="#1a1a1a" stroke="#1a1a1a" stroke-width="0.3" textLength="52.53" lengthAdjust="spacingAndGlyphs">1.00</text>
<text x="685.11" y="545.0999999999999" font-size="24.2" fill="#1a1a1a" stroke="#1a1a1a" stroke-width="0.3" textLength="43.98" lengthAdjust="spacingAndGlyphs">950</text>
<text x="685.11" y="606.8833333333332" font-size="24.2" fill="#1a1a1a" stroke="#1a1a1a" stroke-width="0.3" textLength="43.98" lengthAdjust="spacingAndGlyphs">900</text>
<text x="685.11" y="668.6666666666666" font-size="24.2" fill="#1a1a1a" stroke="#1a1a1a" stroke-width="0.3" textLength="43.98" lengthAdjust="spacingAndGlyphs">850</text>
<text x="685.11" y="730.4499999999999" font-size="24.2" fill="#1a1a1a" stroke="#1a1a1a" stroke-width="0.3" textLength="43.98" lengthAdjust="spacingAndGlyphs">800</text>
<text x="685.11" y="792.2333333333332" font-size="24.2" fill="#1a1a1a" stroke="#1a1a1a" stroke-width="0.3" textLength="43.98" lengthAdjust="spacingAndGlyphs">750</text>
<text x="685.11" y="854.0166666666667" font-size="24.2" fill="#1a1a1a" stroke="#1a1a1a" stroke-width="0.3" textLength="43.98" lengthAdjust="spacingAndGlyphs">700</text>
<text x="685.11" y="915.8" font-size="24.2" fill="#1a1a1a" stroke="#1a1a1a" stroke-width="0.3" textLength="43.98" lengthAdjust="spacingAndGlyphs">650</text>
<text x="769.75" y="933.5" font-size="24.2" fill="#1a1a1a" stroke="#1a1a1a" stroke-width="0.3" textLength="47.13" lengthAdjust="spacingAndGlyphs">−50</text>
<text x="877.69" y="933.5" font-size="24.2" fill="#1a1a1a" stroke="#1a1a1a" stroke-width="0.3" textLength="13.57" lengthAdjust="spacingAndGlyphs">0</text>
<text x="961.46" y="933.5" font-size="24.2" fill="#1a1a1a" stroke="#1a1a1a" stroke-width="0.3" textLength="28.09" lengthAdjust="spacingAndGlyphs">50</text>
<text x="821.41" y="963.2" font-size="27.0" fill="#1a1a1a" stroke="#1a1a1a" stroke-width="0.3" textLength="126.65" lengthAdjust="spacingAndGlyphs">Delay (fs)</text>
<g transform="translate(675.5 834.8) rotate(-90)"><text x="0.0" y="0" font-size="27.0" fill="#1a1a1a" stroke="#1a1a1a" stroke-width="0.3" textLength="227.56" lengthAdjust="spacingAndGlyphs">Wavelength (nm)</text></g>
</svg>
</body></html>
